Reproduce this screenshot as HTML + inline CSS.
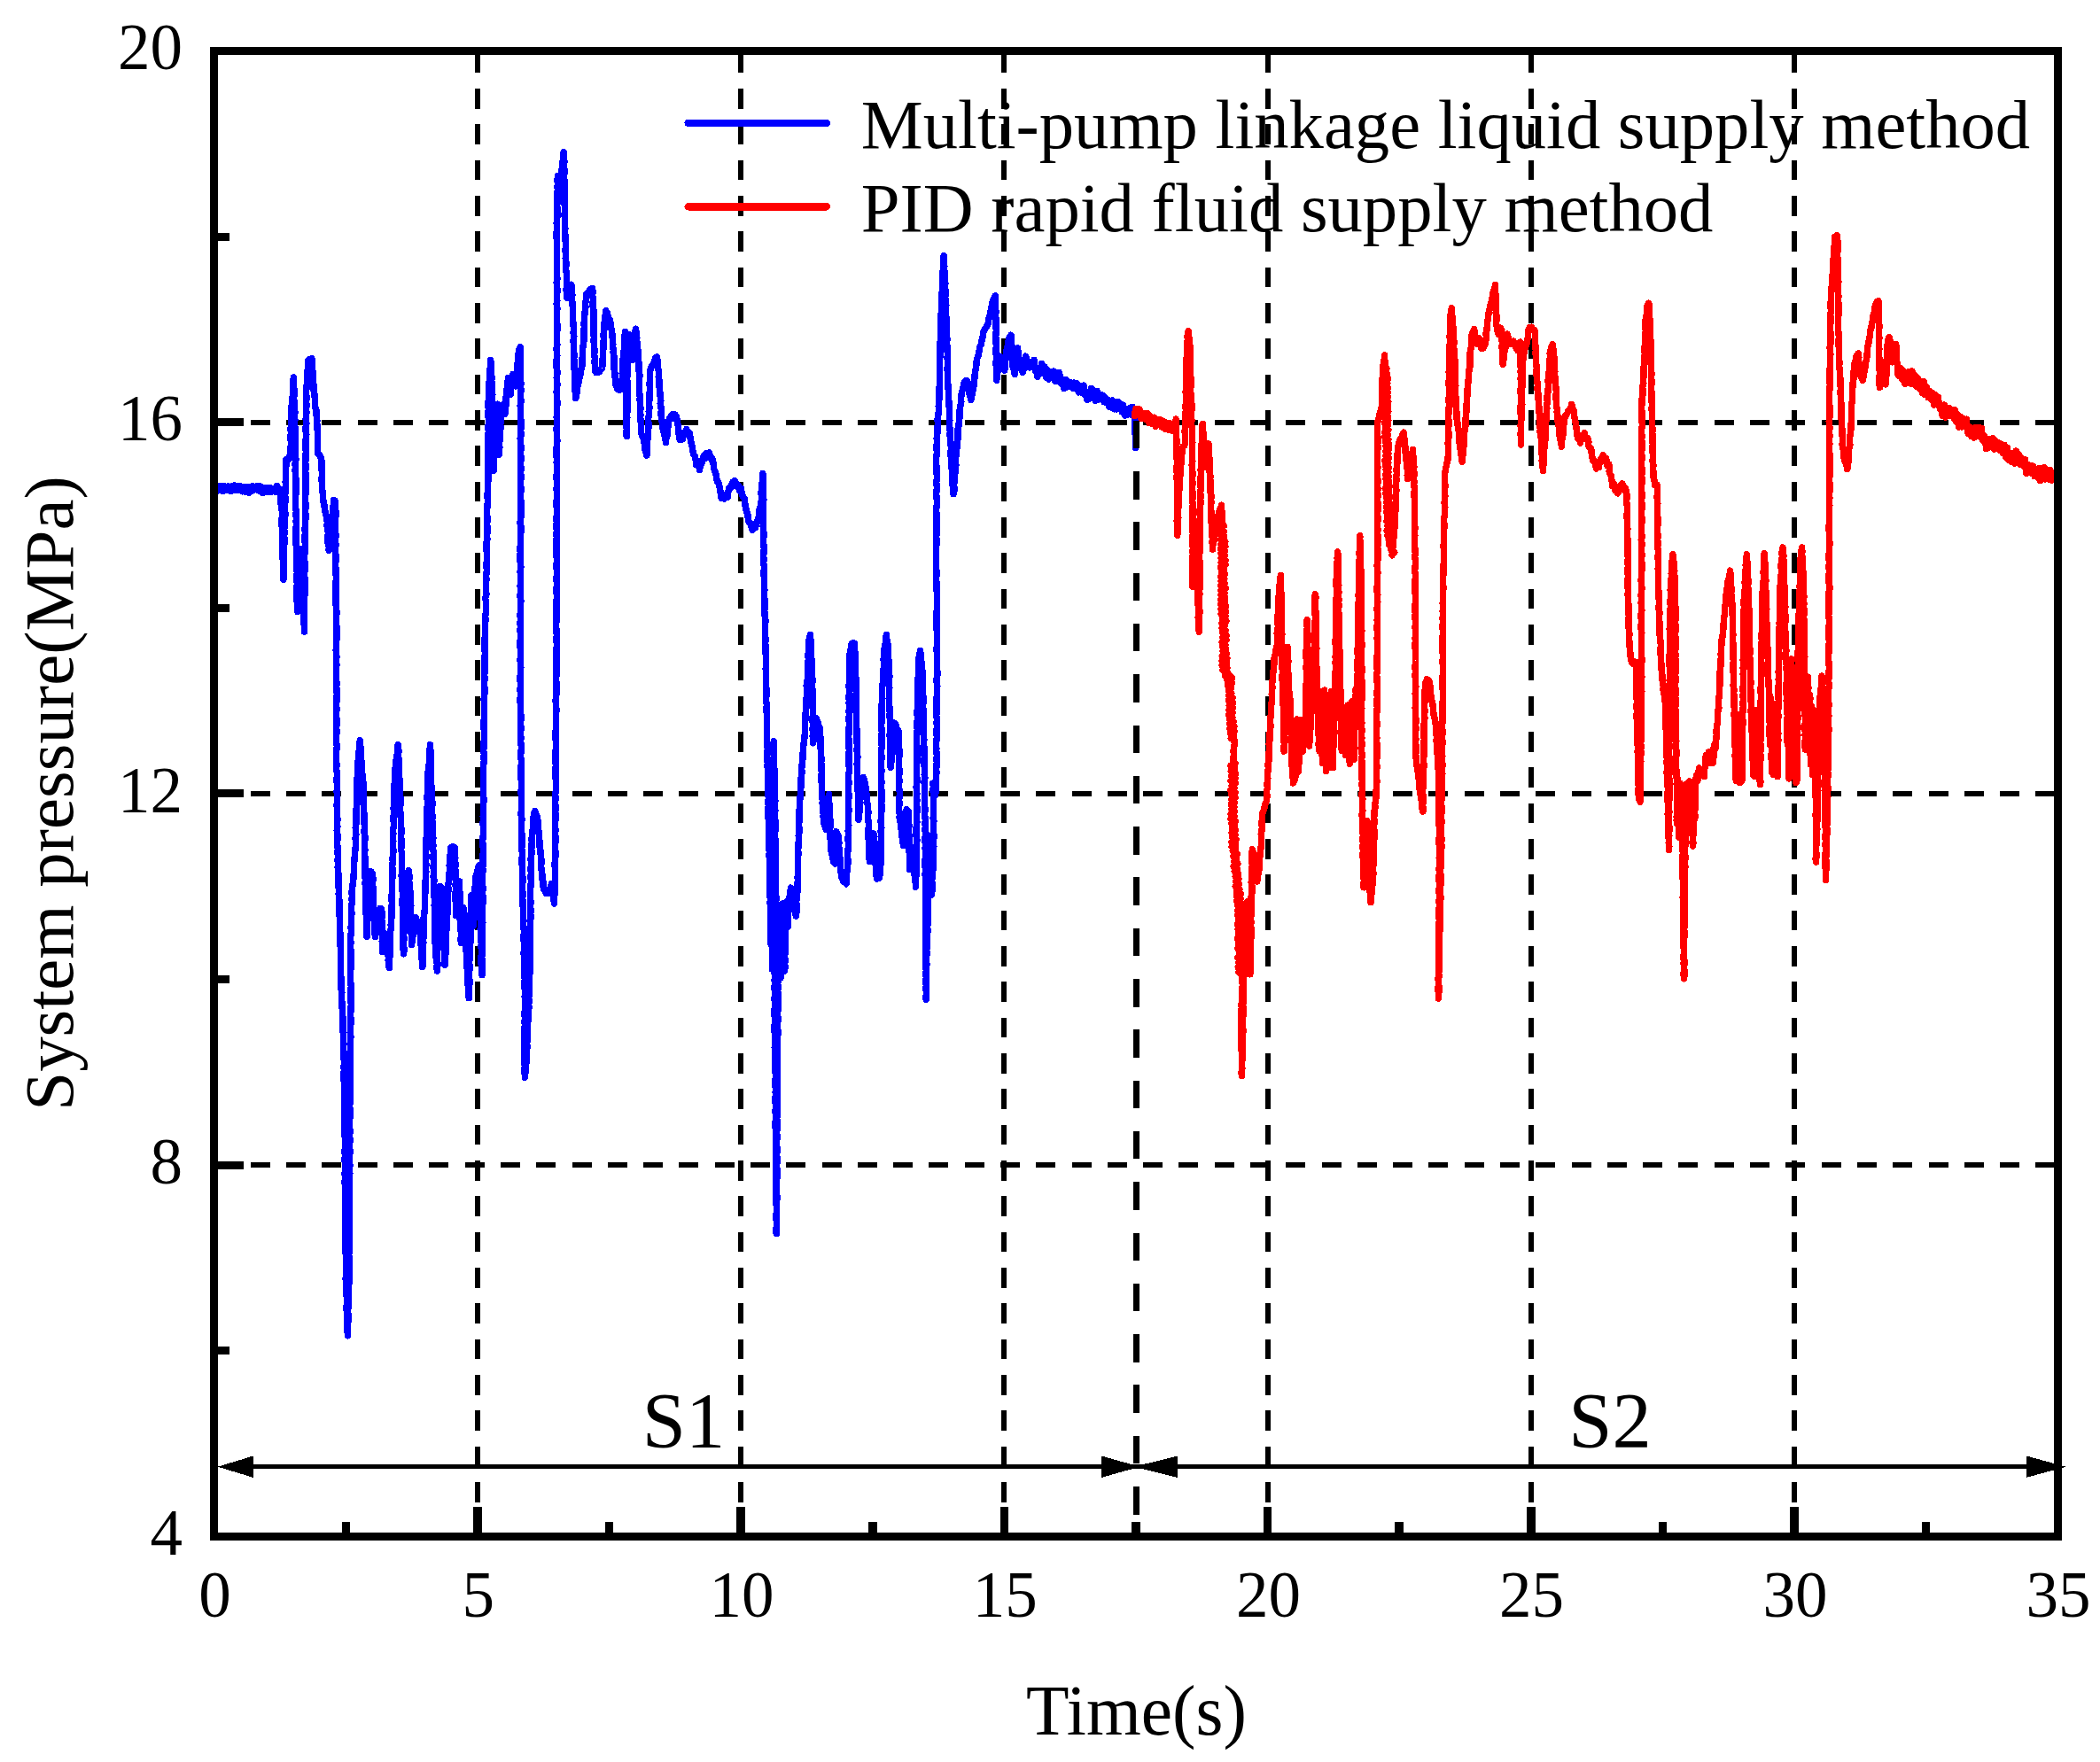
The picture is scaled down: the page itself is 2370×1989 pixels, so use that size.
<!DOCTYPE html>
<html lang="en"><head><meta charset="utf-8"><title>System pressure</title>
<style>html,body{margin:0;padding:0;background:#fff}svg{display:block}text{font-family:'Liberation Serif','Times New Roman',serif;fill:#000}</style></head><body>
<svg width="2370" height="1989" viewBox="0 0 2370 1989" shape-rendering="crispEdges">
<rect width="2370" height="1989" fill="#fff"/>
<g stroke="#000" stroke-width="6" stroke-dasharray="22 18.29" fill="none">
<line x1="538.9" y1="59.7" x2="538.9" y2="1700.8" stroke-dasharray="22.6 17.73"/>
<line x1="836.2" y1="59.7" x2="836.2" y2="1700.8" stroke-dasharray="22.6 17.73"/>
<line x1="1133.4" y1="59.7" x2="1133.4" y2="1700.8" stroke-dasharray="22.6 17.73"/>
<line x1="1430.6" y1="59.7" x2="1430.6" y2="1700.8" stroke-dasharray="22.6 17.73"/>
<line x1="1727.8" y1="59.7" x2="1727.8" y2="1700.8" stroke-dasharray="22.6 17.73"/>
<line x1="2025.1" y1="59.7" x2="2025.1" y2="1700.8" stroke-dasharray="22.6 17.73"/>
<line x1="242.6" y1="476.6" x2="2317.8" y2="476.6"/>
<line x1="242.6" y1="895.8" x2="2317.8" y2="895.8"/>
<line x1="242.6" y1="1315.1" x2="2317.8" y2="1315.1"/>
</g>
<g fill="none" stroke-width="7.5" stroke-linejoin="round" stroke-linecap="round">
<polyline stroke="#0000ff" points="241.8,553.0 243.3,550.9 243.9,548.3 245.2,551.1 245.8,553.9 246.3,551.6 247.1,548.4 248.1,550.1 248.9,553.4 249.4,551.4 250.1,548.3 251.4,550.9 251.8,554.4 252.6,551.6 253.9,548.9 254.9,550.8 256.0,553.6 257.4,551.8 258.0,549.0 258.8,550.6 260.1,554.1 260.4,551.9 261.4,549.1 262.3,550.6 262.8,553.8 264.0,551.7 264.5,548.0 265.5,550.4 266.0,553.1 267.3,551.8 267.6,548.8 268.7,551.1 269.3,553.5 270.4,551.5 271.5,548.6 272.5,551.4 273.6,554.8 275.1,552.8 275.8,549.3 276.5,552.7 277.2,555.7 278.2,553.2 279.3,550.1 280.4,552.6 281.1,556.4 281.6,553.9 282.5,549.9 283.9,551.9 284.3,554.2 284.9,551.9 285.5,548.7 286.4,549.8 287.7,552.8 289.2,551.5 289.7,548.9 290.7,550.9 291.1,553.0 291.8,551.8 293.1,548.6 293.8,551.4 294.3,555.0 295.3,552.3 295.5,550.0 296.6,552.7 297.1,556.6 298.5,553.9 299.2,550.8 299.9,551.9 301.5,554.9 302.3,552.4 302.7,550.3 302.9,552.3 303.9,554.8 304.5,553.4 305.6,550.9 305.9,552.9 306.9,555.1 307.5,554.3 309.0,551.4 309.6,552.7 311.1,555.1 312.2,551.8 312.7,548.6 313.1,551.0 314.4,554.1 316.0,552.0 316.6,556.7 317.1,560.3 316.9,564.7 317.1,568.4 317.5,573.0 318.3,576.9 318.4,580.6 318.2,585.2 318.1,589.1 318.2,592.7 318.3,597.3 319.3,601.7 318.6,605.2 319.0,609.5 319.2,613.2 319.1,617.0 319.1,621.2 319.0,625.3 319.1,629.4 319.4,633.6 319.3,638.2 319.9,641.9 319.8,645.5 319.8,649.7 319.9,654.1 320.3,649.8 320.5,646.1 320.6,641.7 320.4,637.4 320.7,633.9 320.4,629.6 320.2,625.7 320.4,621.5 320.3,617.7 320.9,613.4 321.2,609.3 320.6,604.9 321.3,601.7 320.7,597.4 321.5,593.1 321.4,589.4 321.5,585.0 321.9,581.4 321.7,576.9 321.6,572.5 321.6,568.6 322.4,564.6 321.7,560.3 321.8,556.1 321.9,552.5 322.5,547.6 322.2,544.0 322.5,539.7 322.7,536.1 322.4,531.4 322.6,527.7 323.2,523.1 323.0,519.0 324.8,520.0 325.9,516.3 327.4,516.8 327.9,512.4 327.6,508.4 328.2,504.7 328.4,500.2 328.2,496.6 327.9,492.2 328.5,488.6 328.0,483.9 329.0,480.1 328.3,476.1 329.0,472.1 328.6,467.8 329.2,463.5 329.1,459.6 329.4,455.4 330.0,451.0 330.3,446.7 330.9,442.3 330.7,438.8 331.2,434.4 331.0,429.9 331.4,426.0 331.1,429.6 331.3,434.2 331.7,438.3 332.2,441.6 331.9,446.0 331.6,450.1 332.1,454.2 332.2,458.4 332.5,462.1 332.9,465.6 332.4,470.3 332.9,474.0 332.4,478.3 333.0,482.5 333.0,486.1 333.2,490.1 333.1,494.1 333.6,498.1 333.1,502.5 332.8,506.7 333.2,510.7 333.7,515.0 333.8,519.0 333.1,523.0 333.3,527.2 333.2,531.9 333.4,536.0 333.9,540.2 333.8,544.3 333.9,548.4 333.9,552.6 333.9,556.5 333.7,560.1 333.7,564.5 333.5,569.1 333.4,572.6 334.4,577.3 333.9,581.1 334.4,585.0 334.2,588.9 334.5,593.0 333.9,597.3 333.9,601.5 334.0,605.9 334.1,610.2 334.0,614.4 334.6,617.8 334.4,622.3 334.8,626.2 334.7,630.2 334.5,634.3 334.5,638.6 334.9,642.4 335.4,646.6 334.9,650.4 334.6,654.8 335.6,658.5 334.8,662.1 334.8,666.0 335.0,670.0 335.0,674.9 335.1,678.7 335.6,682.4 335.7,685.9 335.8,690.4 336.4,686.6 336.4,682.4 336.4,677.7 336.2,673.5 336.5,669.7 337.4,665.9 337.2,662.0 337.0,657.6 337.3,653.2 337.8,649.0 338.0,645.0 338.6,641.2 338.6,636.4 339.4,632.4 339.4,628.4 339.6,623.9 339.8,620.0 340.1,624.1 340.4,628.2 339.8,632.2 340.8,636.1 340.3,639.5 340.8,643.6 341.4,648.2 340.8,651.5 341.4,655.5 341.4,659.7 341.7,663.6 341.7,667.7 341.4,672.1 342.4,675.6 342.2,680.0 342.7,683.8 342.7,688.7 342.6,692.2 342.6,696.3 342.7,700.6 343.0,704.5 343.7,708.6 343.5,713.1 343.7,709.3 343.3,704.5 343.4,700.2 343.3,696.4 343.4,692.7 343.6,688.2 343.2,684.3 343.4,680.2 343.3,676.0 344.0,671.8 344.3,667.3 344.3,664.0 344.1,659.8 344.2,655.3 343.7,650.7 343.7,647.2 344.0,643.4 344.1,638.7 343.8,634.7 343.7,631.0 343.7,626.6 344.2,621.9 344.3,618.5 344.5,614.3 343.9,609.9 344.0,605.6 344.5,601.8 344.0,597.6 344.6,593.4 344.3,589.4 345.0,585.0 345.0,581.1 344.6,576.9 344.9,572.7 344.8,569.0 344.7,565.0 344.6,560.7 345.0,556.8 345.2,551.7 345.0,548.0 345.2,543.6 345.0,540.3 345.1,535.4 344.5,531.3 345.4,527.3 344.7,523.4 344.8,518.8 345.0,515.0 345.3,510.4 345.2,506.7 344.9,502.6 345.1,499.0 345.3,494.3 345.8,490.6 345.0,486.2 345.2,481.6 345.9,478.0 345.2,473.7 345.4,469.4 345.8,466.0 345.7,460.9 345.9,457.7 345.7,453.3 345.9,448.9 345.7,445.0 345.7,440.8 346.0,436.7 346.4,432.4 346.7,428.7 347.0,423.9 346.9,420.2 347.4,415.9 347.4,412.2 347.3,407.9 349.1,405.7 350.5,406.4 351.9,404.5 352.1,408.9 352.3,413.0 352.5,416.6 353.3,420.9 353.0,424.1 353.0,429.2 353.7,432.9 354.2,436.6 354.1,440.8 354.8,444.3 355.1,448.2 355.7,452.1 355.5,455.7 355.8,459.4 357.0,463.5 357.0,467.1 357.3,470.1 357.8,474.4 357.7,477.6 358.0,481.6 358.2,485.2 358.6,488.9 358.6,493.3 358.4,496.6 358.5,500.8 358.4,504.5 358.3,508.1 358.7,512.2 360.4,513.1 361.5,515.8 362.5,516.8 362.9,520.4 363.1,524.8 362.9,529.6 363.5,533.2 363.3,537.2 363.1,542.1 363.5,546.3 363.4,550.1 363.9,554.2 364.5,557.6 364.3,560.7 364.8,564.4 365.2,567.6 366.2,571.7 366.4,574.9 367.2,578.8 368.3,582.4 368.9,586.0 369.5,589.6 368.9,593.3 369.9,597.8 370.4,602.0 370.0,606.1 370.1,609.4 370.2,613.5 371.3,617.4 371.2,621.2 371.8,618.2 372.0,613.6 372.6,610.9 373.3,607.1 373.8,603.0 373.9,599.6 374.3,596.0 374.1,592.3 375.1,587.5 374.8,583.7 375.4,580.1 375.7,576.7 376.0,571.8 376.7,568.0 376.8,564.4 378.4,565.6 378.3,569.6 378.2,573.6 378.9,577.5 378.8,581.8 378.7,586.4 378.4,590.3 378.6,594.3 378.4,598.4 378.8,602.9 378.8,606.7 378.4,611.4 379.1,614.8 378.4,619.0 378.4,623.3 379.2,627.1 379.2,631.5 378.6,635.5 378.7,639.6 379.3,643.8 379.0,648.4 379.6,651.9 379.1,656.3 378.9,660.5 379.2,664.3 378.7,669.0 379.2,672.2 379.2,676.6 378.9,680.4 379.5,685.3 379.8,689.2 379.8,692.6 379.7,696.6 379.7,701.2 379.7,704.6 379.9,709.2 380.0,713.5 379.9,717.7 379.9,721.4 379.4,725.2 379.7,729.4 379.2,733.9 379.5,737.4 379.9,741.7 379.3,745.6 379.8,749.8 379.7,754.2 379.3,758.1 379.5,762.3 379.4,766.8 380.0,770.5 379.7,775.4 379.9,778.8 380.3,783.6 379.8,788.1 379.9,792.0 379.3,795.8 380.2,800.6 379.4,804.1 379.4,808.8 380.3,812.6 380.0,817.3 379.6,821.8 380.1,825.6 379.7,829.5 379.6,834.2 379.6,838.6 380.4,842.5 379.7,846.8 379.6,850.5 379.7,854.6 379.6,859.0 379.9,863.5 379.6,867.9 380.2,871.5 380.5,876.3 379.9,879.5 380.3,884.2 380.6,888.3 380.2,892.5 380.3,896.6 380.4,900.2 380.5,904.7 380.1,908.7 380.4,912.6 380.3,916.7 380.5,921.0 381.0,924.9 380.4,929.7 380.9,933.3 380.2,937.3 380.8,941.9 381.2,946.2 380.5,950.5 380.8,954.2 381.3,957.9 381.1,962.7 381.5,967.0 381.1,971.2 381.6,974.6 381.2,979.5 381.6,983.6 382.1,988.2 381.8,991.4 381.8,996.3 381.8,999.8 382.6,1004.8 382.2,1008.6 382.4,1012.9 383.0,1016.8 382.9,1021.0 382.8,1025.2 383.2,1029.7 383.1,1033.6 383.5,1037.6 383.7,1041.5 383.5,1045.9 383.3,1050.5 384.1,1054.5 384.1,1058.2 384.2,1062.8 384.2,1066.7 384.3,1071.0 384.3,1074.6 384.6,1079.5 384.7,1083.0 384.3,1087.0 384.7,1092.0 384.5,1095.2 384.6,1100.2 384.9,1104.0 384.8,1108.1 385.3,1112.8 385.0,1116.3 385.8,1120.7 385.5,1124.7 385.7,1128.7 385.9,1133.1 386.1,1137.2 386.7,1141.5 386.7,1146.2 387.0,1149.8 387.2,1153.5 387.2,1158.6 386.8,1162.6 387.4,1166.2 387.6,1170.7 387.7,1175.0 387.4,1179.0 387.4,1183.5 387.9,1187.5 388.1,1191.4 388.2,1196.0 388.4,1199.8 388.1,1204.4 388.4,1208.7 387.7,1212.1 388.0,1217.1 388.3,1220.8 388.8,1224.8 388.3,1228.8 388.3,1233.8 388.3,1237.6 388.8,1241.5 388.6,1246.1 388.6,1250.1 389.2,1254.4 388.6,1258.8 388.3,1262.7 389.1,1266.7 389.2,1270.7 388.9,1275.5 388.6,1279.9 389.3,1283.6 389.3,1288.5 389.3,1292.1 389.3,1296.7 389.0,1300.4 389.5,1304.3 388.9,1309.3 389.5,1313.4 389.4,1316.9 389.3,1321.2 389.2,1326.3 389.6,1330.0 389.0,1334.2 389.5,1338.7 389.8,1342.9 389.5,1346.6 389.6,1350.8 390.0,1355.7 389.5,1359.2 389.5,1364.1 389.4,1367.4 390.3,1371.9 389.6,1375.9 389.5,1380.5 389.8,1384.9 389.7,1388.7 390.0,1393.2 389.9,1397.7 389.7,1401.4 389.9,1406.0 390.2,1409.6 390.0,1414.2 390.5,1417.8 390.5,1422.7 390.7,1427.1 390.4,1430.9 390.7,1435.3 390.6,1439.0 390.1,1443.5 390.6,1447.7 391.1,1451.7 390.5,1455.2 390.8,1459.6 391.3,1464.0 391.3,1467.9 391.4,1471.6 391.0,1476.1 391.3,1479.9 391.5,1483.4 391.6,1487.3 391.6,1491.7 392.3,1496.1 391.9,1499.5 392.2,1504.0 392.4,1507.8 392.7,1503.5 392.3,1499.8 392.7,1495.7 392.8,1491.1 393.1,1486.9 392.8,1482.6 392.5,1478.8 393.6,1475.1 393.6,1470.2 393.2,1466.6 392.8,1462.2 393.3,1458.4 393.0,1454.0 393.8,1450.0 393.8,1445.6 393.8,1441.6 394.0,1437.6 394.1,1433.2 394.3,1429.2 394.0,1425.0 394.4,1420.5 393.6,1416.5 394.4,1412.0 394.4,1407.7 393.8,1404.2 393.8,1399.4 394.4,1395.2 393.9,1390.9 394.5,1387.2 393.8,1383.2 394.3,1379.2 394.4,1374.5 394.2,1370.6 393.8,1366.5 394.2,1361.9 394.6,1357.4 394.5,1353.5 394.7,1349.8 394.4,1344.8 394.7,1340.8 394.4,1336.5 394.3,1333.0 394.3,1327.9 394.8,1324.1 394.1,1320.2 395.0,1315.6 394.4,1311.7 394.4,1307.0 394.7,1303.6 395.0,1298.7 394.2,1294.6 394.7,1290.5 395.1,1286.4 394.5,1282.3 395.0,1277.6 394.7,1273.3 394.6,1269.9 394.4,1265.3 395.0,1261.2 395.1,1256.9 395.0,1252.5 394.5,1248.3 395.1,1243.8 394.8,1240.5 395.0,1236.2 395.4,1231.5 394.8,1227.3 395.3,1223.4 395.0,1218.8 395.5,1214.9 395.1,1211.0 395.2,1206.7 394.8,1201.8 395.1,1198.1 395.2,1193.6 395.3,1190.3 395.6,1186.3 395.4,1182.3 395.2,1178.4 395.5,1174.5 395.9,1170.0 395.2,1165.6 395.7,1162.4 395.7,1157.9 395.9,1154.4 396.0,1149.9 395.4,1145.9 395.9,1141.9 395.9,1138.2 396.4,1133.8 396.0,1130.0 396.3,1125.6 395.8,1121.3 396.0,1117.4 396.4,1113.4 395.8,1109.3 395.5,1105.4 395.6,1100.8 395.4,1096.9 396.0,1092.6 395.8,1088.5 396.1,1084.1 396.2,1080.2 395.8,1076.4 395.8,1072.0 395.6,1067.7 395.9,1064.1 395.5,1059.1 396.0,1055.5 396.5,1051.0 396.1,1047.2 396.5,1042.6 396.3,1039.3 396.6,1034.3 397.0,1030.2 396.3,1026.8 396.7,1022.3 397.3,1018.9 397.2,1014.2 397.4,1011.2 397.0,1006.7 397.5,1003.8 397.9,999.6 398.6,995.7 398.9,991.5 399.1,987.7 399.5,983.7 399.7,979.9 399.7,975.5 399.8,971.4 400.4,966.7 400.4,962.7 401.2,958.5 401.3,954.2 401.6,950.2 401.1,946.3 401.8,942.6 401.7,938.3 401.2,934.5 401.8,930.6 402.0,926.1 401.9,922.4 401.9,918.1 402.1,914.6 402.4,909.8 402.6,906.3 402.6,902.1 403.1,898.6 402.8,893.8 403.0,890.5 402.9,886.1 402.9,882.4 403.0,878.2 403.8,874.6 403.8,871.2 403.8,867.6 404.3,862.9 404.0,859.6 404.7,856.1 404.4,852.1 405.2,848.5 405.5,844.3 405.7,839.8 406.3,835.8 406.5,839.2 406.9,843.6 407.4,847.1 407.4,851.4 407.2,854.5 407.8,858.9 408.2,862.3 408.0,866.3 408.5,870.3 408.8,874.0 409.6,877.6 409.7,881.6 410.3,886.0 410.2,889.9 409.8,893.7 410.1,898.0 409.9,902.3 410.0,907.1 410.7,910.3 410.3,915.3 411.3,919.5 410.8,922.9 411.1,927.4 411.3,931.5 411.3,935.4 411.0,939.3 411.8,943.5 411.8,948.5 411.4,952.4 411.6,956.6 411.9,960.1 411.4,964.3 412.2,968.3 412.1,972.5 411.9,976.9 411.7,981.6 412.0,985.6 412.0,988.9 412.4,993.1 412.1,998.0 412.6,1001.8 412.9,1005.8 412.7,1010.1 413.2,1014.3 412.7,1017.9 412.8,1022.3 412.8,1026.6 412.8,1029.7 413.6,1034.0 413.6,1038.2 413.4,1041.7 413.8,1046.1 414.2,1049.8 414.2,1053.3 414.0,1057.5 414.5,1054.0 414.3,1049.8 414.2,1046.4 414.6,1042.0 414.2,1037.9 414.4,1034.3 414.8,1029.9 415.0,1026.6 415.4,1022.3 415.9,1018.4 415.4,1014.7 415.8,1010.9 416.3,1007.0 416.3,1002.8 416.5,999.0 416.6,995.5 417.2,991.1 417.5,987.4 417.4,983.7 418.6,983.8 420.3,986.0 420.8,990.4 420.8,994.1 420.6,998.2 420.9,1002.2 420.9,1006.1 421.4,1010.1 421.2,1014.2 420.9,1018.0 421.5,1022.2 421.9,1025.2 421.4,1030.2 421.9,1033.6 421.8,1037.8 422.6,1041.7 422.7,1045.0 422.3,1050.1 423.2,1053.2 423.3,1057.5 423.5,1053.7 424.2,1049.6 424.8,1045.5 425.2,1040.8 425.5,1037.6 425.8,1033.2 426.0,1029.1 427.2,1029.4 428.8,1025.4 430.5,1025.7 430.9,1029.4 431.2,1034.1 430.5,1037.4 431.3,1041.5 430.7,1046.4 431.3,1050.3 430.9,1054.2 431.8,1058.2 431.2,1062.3 431.9,1066.6 432.1,1070.0 431.7,1074.5 431.9,1070.6 433.3,1066.1 433.5,1062.5 434.1,1058.6 435.1,1054.1 435.6,1057.3 436.0,1060.8 436.8,1063.9 436.9,1067.7 437.3,1072.4 437.5,1075.7 438.4,1080.3 438.2,1084.0 439.1,1089.0 439.2,1092.6 439.1,1089.0 439.3,1084.6 439.7,1080.9 440.3,1076.4 440.1,1072.0 440.5,1068.3 440.2,1064.6 440.6,1060.4 440.7,1056.3 440.5,1052.1 441.5,1047.7 441.2,1043.9 441.6,1039.5 441.9,1035.1 441.9,1031.4 442.1,1027.7 442.0,1023.2 442.5,1019.0 441.8,1014.5 442.2,1010.5 442.4,1006.4 442.5,1001.8 442.6,997.8 442.3,994.4 443.2,989.7 442.9,985.3 443.0,981.4 442.6,977.6 443.3,973.3 443.2,969.8 443.3,965.7 443.9,961.4 443.7,957.1 443.3,953.0 443.8,949.2 443.4,944.7 443.8,941.1 443.6,936.8 444.3,933.2 444.3,928.6 444.0,925.5 444.2,920.5 444.7,916.8 444.1,912.5 444.6,908.8 445.1,905.1 445.0,900.4 444.8,896.4 445.1,892.8 444.9,888.2 445.3,884.0 446.1,879.5 445.5,876.0 446.2,871.3 446.2,867.9 446.4,863.5 446.6,860.1 447.8,855.8 448.2,852.0 448.6,848.4 449.0,844.4 449.1,840.8 449.7,844.9 449.9,848.6 449.2,852.8 450.2,857.0 449.9,861.8 450.0,865.2 449.9,870.1 450.1,873.3 450.7,877.9 451.0,881.8 451.0,886.1 451.2,890.7 451.0,894.2 451.7,898.3 452.0,902.6 452.1,906.5 451.7,911.0 451.5,914.8 452.1,918.8 452.3,923.6 452.5,927.8 452.5,931.5 452.9,935.6 453.1,939.7 452.3,943.9 452.9,947.3 453.0,951.4 452.9,955.2 452.7,959.7 453.7,963.8 453.4,967.9 453.4,972.1 453.3,975.3 453.6,979.4 453.5,983.9 453.2,987.6 453.3,991.5 453.5,995.9 453.9,999.6 453.7,1003.6 454.4,1007.8 454.5,1011.8 454.2,1015.5 454.0,1019.9 454.4,1023.9 454.4,1027.6 454.5,1031.7 454.6,1035.9 454.5,1039.8 454.4,1044.2 454.9,1048.8 455.2,1052.4 455.0,1056.0 454.8,1060.1 455.1,1064.3 455.1,1069.1 455.2,1072.3 455.5,1076.8 456.0,1072.3 455.7,1068.2 455.6,1064.2 455.9,1060.2 455.7,1055.4 455.9,1051.6 456.8,1047.4 456.6,1043.6 456.3,1039.1 456.4,1035.0 456.7,1030.6 456.8,1027.0 457.1,1022.3 457.3,1017.9 457.8,1014.6 458.1,1010.7 458.2,1006.5 457.6,1002.9 458.5,999.4 458.4,995.1 459.4,991.4 459.4,988.7 460.1,985.6 461.2,982.6 461.8,987.1 461.9,990.6 461.6,994.6 462.4,998.0 462.2,1002.2 463.0,1006.4 463.1,1010.3 463.6,1014.1 463.6,1018.2 463.8,1022.5 463.4,1026.7 463.7,1030.4 463.2,1034.7 463.6,1038.7 463.8,1042.9 463.7,1046.2 463.9,1050.9 464.3,1054.9 464.8,1058.3 464.9,1062.4 464.6,1066.5 465.0,1062.4 465.3,1058.9 466.6,1054.9 466.9,1051.5 467.2,1046.7 467.7,1044.1 468.1,1039.7 469.1,1035.9 470.4,1038.8 471.4,1040.0 473.2,1042.7 473.5,1047.5 474.1,1050.9 474.3,1055.6 474.5,1059.0 475.1,1063.7 475.2,1067.7 475.8,1071.8 475.9,1075.5 475.8,1079.5 476.3,1084.0 476.5,1087.3 476.8,1091.5 476.9,1087.2 476.8,1083.3 477.0,1079.7 477.1,1075.7 477.4,1072.2 477.6,1068.7 477.8,1064.3 477.6,1060.7 478.1,1056.9 478.1,1052.9 478.3,1049.2 478.2,1045.0 478.3,1040.5 478.1,1036.9 478.6,1032.7 479.2,1028.5 479.4,1024.7 479.5,1020.2 479.5,1016.4 479.6,1012.0 479.8,1008.2 480.0,1004.1 480.2,1000.2 479.8,996.2 480.6,991.7 480.6,988.1 480.8,983.9 480.5,979.6 481.1,976.2 480.3,972.3 481.1,968.1 480.7,963.8 480.7,960.2 481.3,956.1 480.8,951.8 480.8,947.2 481.7,943.6 481.5,939.4 481.4,935.3 481.6,931.5 481.8,927.0 482.1,923.4 482.2,919.4 482.2,915.3 481.9,911.7 482.8,907.2 482.3,903.4 482.0,898.9 482.6,894.6 483.0,891.5 483.1,886.5 483.0,882.5 483.0,879.0 483.2,874.8 483.2,870.9 483.6,867.2 484.2,863.5 484.4,859.7 484.4,856.2 485.0,851.9 484.5,848.7 485.3,844.3 485.5,840.8 485.6,844.9 486.0,848.4 486.3,852.6 486.4,856.8 486.4,860.6 485.7,865.1 486.3,869.4 486.3,872.9 486.4,877.0 486.4,880.9 486.5,885.6 487.3,889.4 487.4,893.3 487.3,897.5 486.9,901.9 487.9,905.5 487.8,909.3 487.6,914.1 487.6,918.0 488.2,921.7 487.7,925.6 488.4,929.6 487.9,933.6 488.4,937.9 488.1,942.0 488.9,946.1 488.4,949.9 488.9,954.2 488.5,958.3 489.4,961.9 489.1,965.9 489.2,970.7 489.6,974.1 489.0,978.5 489.6,982.4 489.3,986.1 489.2,990.0 490.1,994.0 489.4,998.5 489.9,1002.7 490.1,1006.5 490.0,1010.6 490.3,1014.1 490.6,1017.8 490.2,1022.3 490.5,1026.8 490.3,1030.5 491.1,1034.4 491.1,1038.4 490.7,1042.6 490.5,1046.8 491.0,1051.7 490.8,1056.0 491.3,1059.5 491.1,1064.2 491.5,1068.5 491.8,1072.2 491.7,1075.7 491.9,1080.4 492.8,1084.0 493.4,1088.4 492.8,1092.1 493.4,1096.0 493.7,1091.5 494.0,1088.0 493.3,1083.7 493.4,1079.8 493.3,1075.2 494.0,1070.8 494.3,1067.4 494.0,1062.5 494.5,1058.5 494.1,1054.6 494.4,1050.0 493.8,1045.8 494.5,1041.9 494.1,1037.4 494.5,1033.6 494.5,1029.9 494.9,1025.2 495.3,1020.8 495.6,1016.9 495.5,1012.9 495.9,1008.4 495.7,1004.5 495.9,1000.7 497.4,1001.0 498.2,1001.9 498.8,1006.2 498.3,1009.9 498.4,1013.4 499.0,1017.8 498.8,1021.7 498.8,1025.3 499.5,1029.5 499.5,1033.4 499.9,1037.7 499.5,1040.5 499.7,1045.0 500.2,1048.8 500.1,1053.3 500.5,1057.3 500.7,1060.7 500.8,1065.6 500.9,1069.0 501.5,1073.0 501.5,1076.8 501.4,1081.2 502.2,1085.0 502.0,1089.2 502.0,1084.7 502.3,1080.5 502.9,1076.9 503.3,1072.5 503.5,1068.5 502.8,1064.6 503.7,1060.5 503.6,1056.3 503.4,1052.5 504.1,1048.4 504.5,1044.1 503.9,1040.1 504.3,1035.5 505.0,1031.8 504.8,1027.4 505.1,1023.4 505.2,1018.8 505.1,1015.0 505.4,1010.9 505.7,1007.6 506.1,1003.9 505.6,999.6 506.3,996.4 506.6,992.3 506.6,988.3 507.3,984.0 507.5,980.6 507.2,976.9 507.5,972.5 507.9,968.8 508.2,964.9 509.0,961.4 508.8,956.9 510.7,955.6 512.1,957.8 513.4,956.9 513.6,960.8 513.5,964.6 513.8,968.8 513.5,972.2 514.2,976.0 513.7,979.8 513.9,983.8 514.0,988.4 514.1,992.2 514.5,995.5 514.0,999.6 514.6,1003.3 514.2,1007.3 513.8,1010.5 513.8,1014.6 514.4,1018.7 514.6,1022.6 514.3,1026.5 514.8,1029.9 514.5,1033.6 515.3,1029.3 515.5,1026.6 515.7,1022.0 515.6,1018.6 516.2,1014.4 516.8,1010.9 517.3,1007.0 517.8,1003.0 518.6,999.7 518.6,995.1 518.7,999.0 518.5,1002.5 518.7,1006.2 519.2,1010.3 518.9,1014.6 519.3,1018.7 518.9,1022.1 519.0,1025.5 519.3,1029.4 519.5,1033.6 519.2,1037.7 519.4,1041.1 519.8,1045.3 519.9,1048.6 520.5,1053.2 520.5,1056.4 520.0,1060.8 520.6,1064.3 521.1,1060.6 521.4,1056.8 521.5,1052.7 521.7,1048.2 521.4,1044.2 521.8,1040.5 522.1,1036.1 522.4,1032.6 522.8,1028.0 522.9,1024.6 523.7,1029.1 523.8,1032.4 523.7,1037.3 524.3,1040.6 524.7,1045.0 524.9,1048.4 525.1,1052.1 524.8,1056.0 525.3,1060.0 526.0,1063.8 525.4,1067.8 525.8,1071.8 526.3,1074.9 526.3,1079.0 527.0,1082.9 527.0,1086.7 526.9,1091.5 527.6,1094.8 527.8,1099.3 527.7,1102.9 527.7,1106.5 528.0,1110.9 528.7,1114.3 528.4,1118.5 529.1,1123.1 529.2,1126.7 529.0,1122.9 529.3,1118.9 529.0,1113.8 530.1,1109.8 529.9,1106.4 529.5,1102.2 529.7,1097.5 529.9,1093.2 529.8,1089.3 529.7,1085.8 530.0,1081.2 530.0,1076.6 530.5,1073.3 530.2,1069.0 530.8,1064.3 530.9,1060.6 530.8,1056.3 531.0,1052.1 530.7,1048.3 531.1,1043.7 531.1,1040.0 531.0,1035.6 531.2,1031.5 531.5,1027.2 531.4,1023.4 531.5,1019.0 531.5,1015.2 532.0,1010.9 532.0,1014.7 532.5,1018.4 532.7,1022.6 533.1,1026.5 533.3,1029.5 533.5,1033.3 533.9,1037.5 534.6,1041.4 534.5,1045.0 534.4,1041.0 535.2,1036.3 534.8,1032.8 535.3,1027.8 535.8,1024.2 535.3,1019.5 536.0,1015.2 535.7,1011.5 536.0,1007.6 536.1,1003.4 536.3,999.2 536.8,994.8 536.7,990.5 537.9,987.1 538.8,984.2 539.4,979.9 540.6,976.9 541.1,981.1 540.8,984.5 541.1,989.2 540.6,992.9 540.8,997.2 541.0,1000.9 541.2,1005.0 541.8,1009.2 542.0,1013.0 541.3,1016.8 541.8,1021.4 541.7,1024.6 542.0,1029.0 541.8,1033.0 542.5,1036.7 542.3,1040.5 542.4,1045.0 542.2,1049.2 542.9,1053.3 542.5,1057.2 542.6,1060.7 543.3,1065.0 543.1,1068.3 543.4,1072.5 543.5,1077.0 542.9,1081.2 543.2,1084.2 543.2,1088.7 543.8,1092.3 544.1,1096.5 544.0,1100.6 544.1,1096.2 543.9,1091.9 544.0,1087.5 543.9,1084.2 543.7,1079.6 544.6,1075.5 544.2,1071.4 544.2,1067.2 544.5,1062.7 544.2,1058.0 543.8,1054.4 544.4,1050.0 544.1,1046.3 544.8,1041.2 544.3,1037.5 544.7,1033.7 544.5,1028.7 544.1,1024.7 544.8,1020.3 544.9,1016.1 545.0,1012.4 544.4,1007.8 545.1,1004.1 544.7,999.6 544.4,995.6 544.5,991.0 544.6,987.0 544.9,983.4 544.7,978.7 545.4,974.5 544.7,970.3 545.0,966.1 545.4,962.4 545.4,958.6 545.0,954.5 544.7,949.9 544.8,946.4 545.4,941.6 545.6,937.8 545.5,933.1 544.8,929.8 545.6,925.4 545.2,921.6 545.6,916.6 545.3,913.1 545.4,908.8 545.9,904.9 545.8,900.5 545.3,896.1 545.6,892.5 545.5,888.2 545.4,884.5 545.4,879.7 545.4,875.8 545.7,871.3 545.4,867.7 545.6,863.8 546.3,859.1 546.1,854.8 546.3,851.2 545.6,846.9 546.3,843.3 545.8,839.0 546.5,834.8 546.6,830.0 546.6,826.4 545.9,821.7 546.3,818.1 545.9,814.4 546.7,809.9 546.4,805.6 546.5,801.7 546.7,797.8 546.7,793.7 546.1,789.6 546.5,786.2 547.0,781.9 547.0,777.8 546.6,774.1 546.7,769.7 547.2,766.5 546.6,761.9 547.2,758.4 547.0,753.5 546.9,750.0 547.1,745.6 546.7,742.1 547.5,737.4 546.9,733.7 547.0,729.6 547.1,725.2 547.1,720.5 547.5,716.5 547.3,712.8 547.5,707.8 547.6,703.7 548.1,699.4 547.5,695.6 548.4,691.3 548.6,687.6 548.4,682.9 548.4,678.9 547.9,674.5 548.9,670.9 548.6,666.4 548.7,662.0 548.6,658.0 548.9,654.4 548.6,649.9 549.3,645.3 549.3,641.8 548.7,636.9 549.3,633.7 549.5,628.9 549.7,624.6 548.9,620.3 549.0,616.8 549.2,612.0 549.9,608.4 549.6,604.4 550.2,599.7 550.1,595.8 549.6,591.4 550.1,587.5 549.8,583.4 549.7,579.1 549.7,574.5 550.1,571.0 550.4,566.0 550.2,562.3 550.0,558.5 550.5,553.7 550.6,549.8 550.4,546.1 551.0,542.3 550.8,537.8 551.1,533.9 550.5,529.9 550.7,525.7 551.3,522.2 550.5,517.7 550.4,514.6 551.1,509.9 551.2,506.6 551.0,502.6 550.6,497.9 550.9,494.3 551.1,490.4 551.4,486.6 550.8,482.1 551.4,478.2 551.5,473.3 550.9,469.9 551.2,465.3 551.3,461.5 551.1,457.1 551.2,452.7 551.9,448.3 551.7,444.1 551.8,440.4 551.8,436.8 551.8,432.6 552.6,428.9 552.5,424.7 552.6,421.3 553.2,417.5 553.3,414.2 553.6,410.4 553.6,406.4 554.3,410.6 553.6,413.9 554.4,417.9 554.0,422.3 555.1,426.0 554.6,429.5 555.2,433.6 555.2,437.8 555.2,442.0 555.8,445.6 555.4,449.9 555.8,454.5 555.6,458.7 556.2,462.6 556.5,466.3 556.0,470.9 556.2,475.1 556.3,479.0 556.1,482.9 556.4,486.8 556.3,491.4 556.0,495.4 556.9,499.2 556.2,503.4 556.8,507.0 556.3,511.1 556.3,514.7 556.9,518.7 556.5,523.3 556.6,527.2 557.0,531.2 556.8,526.8 557.2,523.4 556.9,519.5 557.8,515.3 557.8,511.1 557.8,507.0 557.3,502.7 558.3,498.1 557.9,494.5 558.1,490.4 558.0,486.7 558.3,482.8 558.3,479.1 559.3,475.3 559.1,471.0 558.6,467.1 559.3,463.1 560.2,458.8 561.3,456.3 561.5,460.9 561.3,464.2 561.6,468.9 561.6,472.9 561.6,476.9 562.2,480.2 562.5,484.5 562.6,489.0 562.4,493.3 562.5,496.4 562.7,501.2 562.7,504.8 563.4,509.5 563.1,513.1 563.0,509.4 563.8,505.3 563.7,501.4 563.8,497.7 563.8,494.1 563.8,490.2 564.5,486.9 565.0,482.6 564.7,479.0 565.1,475.6 565.4,471.6 565.6,468.3 566.2,465.1 566.1,460.9 567.2,457.9 568.1,456.3 568.6,460.8 569.3,463.6 569.9,467.7 570.4,463.8 570.6,460.2 571.1,456.0 571.1,452.8 571.1,448.6 571.7,445.0 571.8,441.0 572.4,438.3 573.1,434.1 573.0,430.5 573.6,426.8 574.2,430.1 574.4,434.0 575.5,437.4 575.8,441.9 576.3,445.0 576.2,440.9 577.0,437.8 577.8,433.5 578.6,429.7 578.3,426.1 579.0,422.3 579.3,426.2 580.1,429.1 581.5,432.3 581.7,435.9 582.3,431.7 582.8,428.2 582.6,423.6 583.5,419.6 583.5,415.4 584.0,410.9 584.7,407.1 585.2,402.7 585.1,399.4 585.8,395.1 587.2,391.7 586.8,395.9 586.8,399.5 587.6,403.5 586.8,408.5 587.3,412.2 587.2,416.2 587.5,420.2 587.5,424.0 587.3,428.6 588.0,432.9 587.6,436.6 588.0,440.9 587.6,445.0 587.5,448.9 588.1,453.0 587.2,457.6 587.5,462.2 587.6,466.2 587.3,469.8 587.9,474.6 588.1,478.6 587.9,482.6 587.7,486.9 588.0,491.0 587.2,494.9 587.5,499.9 588.0,503.5 587.9,507.9 587.5,512.1 588.0,516.7 587.8,520.0 587.4,524.4 588.1,528.9 587.5,533.2 588.1,537.3 587.8,541.0 587.6,546.0 587.8,549.8 588.0,553.7 587.5,558.4 587.6,562.1 588.0,566.6 588.2,570.3 588.0,574.5 588.1,579.0 588.1,583.2 587.3,586.7 587.1,591.0 588.0,594.8 588.1,599.5 587.5,603.2 587.3,607.8 587.6,611.0 587.3,615.3 587.1,619.5 587.3,623.4 587.1,627.8 587.0,632.2 587.4,636.1 587.8,640.0 587.2,644.7 587.3,648.4 587.5,652.4 587.7,656.6 587.1,661.5 587.6,665.0 587.3,669.7 587.1,674.0 587.9,677.7 587.6,682.5 587.7,686.1 587.6,691.0 586.9,694.6 587.7,699.2 587.0,703.0 587.5,707.4 586.9,711.3 587.4,715.2 587.4,719.9 587.1,724.3 587.0,727.9 587.3,732.5 587.4,736.4 587.6,741.0 586.9,745.2 587.6,748.9 587.8,753.6 587.5,757.0 587.3,761.4 586.9,766.1 587.2,769.5 587.6,773.9 586.9,778.7 587.5,782.2 587.3,786.2 587.0,791.0 587.4,795.0 587.3,799.0 587.5,803.5 587.9,808.0 588.0,811.9 587.5,815.8 587.8,820.0 587.8,824.3 587.3,828.1 588.0,832.4 587.6,837.4 588.2,841.4 588.4,845.0 587.9,849.3 587.6,854.1 588.2,857.5 588.6,861.9 587.8,866.0 587.9,870.4 588.3,874.8 587.8,878.5 588.6,882.7 588.6,887.0 588.2,891.8 588.1,895.6 588.5,899.8 588.6,904.2 588.4,908.6 588.5,912.4 588.2,917.0 588.2,920.5 589.0,924.8 588.5,929.1 588.4,932.9 588.4,937.4 589.0,941.7 589.2,946.3 589.1,949.6 588.9,954.2 588.7,958.4 589.4,962.6 589.3,966.6 588.9,970.3 588.8,974.6 589.6,978.1 589.5,983.0 589.7,986.6 589.8,990.3 590.0,994.4 589.5,998.5 589.6,1002.8 589.8,1007.1 589.8,1010.9 589.7,1015.2 590.2,1019.1 590.1,1022.7 590.7,1027.3 590.5,1030.9 590.3,1034.8 590.9,1039.6 590.3,1043.4 591.1,1047.0 591.4,1051.8 591.2,1055.4 590.9,1059.4 591.4,1063.6 591.4,1067.7 591.6,1071.3 591.1,1076.3 591.6,1079.7 592.1,1083.9 591.6,1087.8 591.6,1092.8 591.6,1096.3 591.7,1100.9 592.3,1105.1 592.1,1108.8 592.0,1112.4 592.3,1117.2 592.6,1120.8 592.2,1125.2 592.6,1129.2 592.7,1133.2 592.9,1137.7 592.2,1141.9 592.1,1146.2 592.6,1149.8 592.0,1153.3 592.5,1157.6 591.6,1161.0 591.5,1164.4 591.9,1168.2 591.9,1172.2 591.4,1175.4 591.7,1179.6 592.0,1183.9 591.5,1187.6 592.0,1191.7 592.3,1195.9 591.8,1200.1 592.4,1203.5 591.7,1208.4 592.3,1212.6 592.3,1216.2 592.6,1212.9 593.3,1209.2 593.4,1205.5 593.7,1201.6 594.1,1198.1 594.2,1193.7 594.4,1189.9 594.3,1186.2 595.1,1181.6 594.6,1177.8 595.5,1173.3 595.2,1169.6 595.3,1165.2 595.7,1160.8 595.3,1156.7 596.0,1152.7 596.4,1148.6 596.2,1145.3 596.5,1141.2 597.0,1137.1 596.7,1134.1 596.9,1130.0 596.7,1126.4 597.5,1122.2 597.6,1118.2 597.4,1114.2 597.1,1110.0 597.3,1106.7 597.3,1102.3 597.9,1098.7 598.4,1094.8 598.0,1090.4 598.5,1086.0 598.1,1081.9 598.3,1077.9 598.6,1073.4 598.2,1069.1 597.8,1064.7 598.5,1061.0 598.1,1056.4 598.3,1052.3 598.4,1047.7 598.6,1043.8 598.5,1039.3 599.1,1035.4 598.7,1031.4 599.2,1027.5 598.3,1022.7 599.3,1018.6 598.6,1015.0 598.6,1010.9 598.6,1006.4 598.7,1002.5 599.3,997.4 599.4,994.0 598.8,989.8 599.5,985.6 598.9,980.9 599.4,976.9 599.4,973.5 599.1,969.9 599.5,965.8 600.2,962.2 599.7,958.3 600.1,954.2 600.3,950.3 600.1,947.0 600.5,942.9 600.8,938.9 601.4,934.9 601.3,930.5 601.6,927.0 602.1,922.5 602.7,918.4 603.7,915.6 604.8,919.2 606.1,921.5 606.6,924.7 607.4,928.8 607.2,932.0 607.6,935.6 607.9,939.3 608.4,942.9 608.4,947.0 609.3,950.1 609.1,953.5 609.3,957.0 610.0,961.0 610.2,964.7 610.7,968.6 611.2,972.8 610.7,976.6 610.8,980.2 611.7,983.9 611.8,988.3 612.0,992.5 613.3,995.6 612.9,1000.1 613.9,1004.1 615.4,1006.2 616.2,1008.7 617.9,1008.5 618.5,1005.3 620.2,1004.1 621.7,1000.5 622.5,997.3 622.8,1000.2 623.1,1004.1 624.1,1007.6 624.1,1010.9 624.6,1014.3 625.1,1016.3 625.5,1020.0 625.2,1016.0 625.3,1012.5 626.2,1008.5 626.3,1005.3 625.9,1001.0 625.9,997.1 626.4,993.6 626.3,990.0 626.4,986.0 626.6,982.4 626.2,977.7 626.1,974.2 626.7,969.8 626.9,965.5 626.9,961.9 626.4,957.5 626.5,954.0 627.0,949.7 627.1,945.8 626.4,941.3 627.1,936.8 626.3,933.5 626.3,929.3 627.1,925.5 627.2,921.3 626.7,916.6 627.1,912.5 626.8,908.8 626.6,905.2 627.2,900.3 626.4,897.2 627.3,892.7 627.4,888.2 627.4,884.4 627.4,880.3 626.8,876.3 627.2,872.5 627.0,868.3 627.3,864.4 627.2,860.0 626.8,856.0 627.1,852.4 627.2,848.6 627.3,844.3 627.5,840.1 627.3,836.2 627.0,832.0 627.0,827.9 627.3,824.2 627.5,820.0 627.3,815.8 627.4,811.5 627.4,807.2 627.8,803.5 627.8,799.6 627.4,795.1 627.1,790.8 627.5,786.6 628.1,782.7 627.9,778.3 627.9,774.2 628.0,770.9 627.4,766.0 628.1,762.2 628.1,758.5 628.1,754.0 628.0,750.0 627.8,746.2 627.8,741.3 628.3,737.7 627.8,733.4 628.5,728.5 628.1,724.6 627.9,720.8 628.4,716.7 627.9,711.7 627.7,708.3 627.6,703.3 628.3,699.4 627.7,694.9 628.2,690.6 628.1,686.9 627.8,682.1 628.1,678.0 628.5,674.3 628.2,669.9 627.7,666.1 628.4,661.5 628.3,656.9 627.7,653.1 628.4,649.3 628.6,645.1 628.0,640.2 628.1,636.2 628.6,632.4 628.1,628.2 627.8,623.3 628.0,619.1 628.3,615.1 627.9,611.3 628.3,606.6 628.1,603.0 628.4,598.5 627.8,594.1 628.3,589.8 628.0,585.8 628.3,581.8 628.7,577.4 628.2,572.6 628.2,568.7 628.2,564.4 628.6,560.3 628.5,556.3 628.1,551.6 628.5,547.7 628.5,543.1 627.8,539.1 628.2,535.6 628.6,530.7 628.6,526.3 628.2,522.1 628.4,518.4 628.1,514.1 628.1,509.5 628.0,505.9 628.6,501.7 628.9,497.5 628.3,492.8 628.7,489.2 628.0,484.6 628.4,480.3 628.6,475.9 628.2,471.4 628.5,467.7 628.5,463.4 628.6,459.2 629.0,455.0 628.7,451.2 628.5,447.2 628.2,442.9 628.3,439.1 628.9,434.2 628.7,430.5 628.2,426.6 628.9,422.0 628.8,418.2 628.0,413.8 628.1,409.7 628.1,406.1 628.8,401.2 628.4,397.6 628.0,393.3 628.9,389.2 628.3,384.7 628.5,381.2 628.5,376.9 628.9,372.4 629.0,368.9 628.7,364.8 628.6,359.8 628.7,356.0 628.6,351.5 629.0,348.1 628.1,343.3 628.8,339.1 628.3,335.5 628.8,330.9 628.9,326.6 628.4,323.1 628.2,318.2 628.9,314.8 628.4,310.2 628.5,306.3 628.7,301.9 628.5,298.0 628.4,293.7 628.6,289.2 628.7,285.0 628.7,280.9 628.5,277.1 628.6,273.2 628.1,268.7 628.1,264.8 628.3,260.0 628.4,255.8 628.2,252.1 628.4,247.4 629.1,243.7 628.9,238.7 629.0,234.8 628.5,230.8 628.8,226.5 628.9,222.5 628.9,218.1 629.4,214.1 629.1,210.8 629.4,207.0 629.0,202.5 629.6,198.8 629.9,202.5 630.1,206.7 630.4,210.7 631.1,213.9 631.2,218.1 631.5,220.9 631.6,224.0 632.3,227.1 632.0,223.1 632.9,219.5 632.5,215.2 633.2,211.3 633.1,207.2 633.2,202.8 634.0,199.0 633.9,195.4 634.0,191.5 634.6,187.9 634.7,183.6 635.5,180.1 635.5,175.3 636.2,171.6 636.1,175.6 636.6,179.0 636.9,183.1 636.2,187.0 636.9,191.4 637.0,195.0 636.6,198.6 636.8,202.8 637.1,206.7 637.6,210.4 636.7,214.9 637.0,218.7 637.4,222.8 637.7,226.2 637.2,230.4 637.4,235.0 637.5,238.7 637.0,242.2 637.4,246.3 637.4,250.7 637.5,254.4 637.8,258.2 637.5,262.7 638.2,266.4 637.9,271.1 638.6,274.9 638.5,279.0 637.9,283.0 638.7,287.3 638.2,291.5 638.9,295.8 638.9,299.8 638.5,303.5 639.3,308.1 639.3,312.1 639.3,315.5 639.4,320.2 639.3,324.4 639.1,328.3 640.2,331.9 639.8,336.1 640.7,332.6 642.1,329.3 643.5,325.7 644.8,321.3 645.5,325.5 645.6,329.0 645.8,333.0 645.4,337.7 645.9,341.5 646.2,345.1 646.7,349.0 646.6,352.3 646.4,356.4 646.4,360.0 646.9,364.6 647.1,367.8 647.7,371.8 647.0,375.6 647.8,379.9 647.2,384.0 647.3,388.0 647.3,392.2 647.5,396.4 648.0,400.0 647.7,404.8 648.2,408.7 647.9,413.3 648.1,417.3 648.8,421.0 648.9,425.4 648.8,429.6 649.0,433.0 648.9,437.4 649.1,441.2 649.5,445.5 649.8,449.5 650.2,446.0 651.3,442.3 651.6,438.2 652.0,434.1 653.1,431.0 653.9,426.8 654.8,423.2 655.4,420.7 655.9,416.6 656.8,413.2 656.9,409.0 657.2,404.6 657.4,401.0 657.6,396.9 657.7,392.9 658.4,388.3 658.9,384.9 658.9,381.0 658.8,377.2 658.8,373.1 659.6,369.0 658.9,365.8 659.5,362.1 659.7,358.1 659.8,354.2 660.4,350.4 660.9,347.0 660.4,342.3 661.5,339.4 661.8,335.0 661.8,331.5 663.3,331.0 665.2,328.1 667.1,326.2 668.6,325.9 669.1,330.0 668.5,333.7 669.5,338.0 668.9,342.5 669.2,346.0 670.1,350.6 669.8,354.2 669.9,358.2 669.9,361.7 669.9,365.1 669.8,369.8 670.2,373.5 669.9,376.7 670.4,381.2 670.0,384.7 670.4,388.3 670.7,392.5 671.0,396.6 670.5,400.8 671.4,404.6 671.0,409.1 671.6,413.4 671.4,417.8 672.5,420.3 674.2,418.8 675.4,420.0 676.7,419.6 677.7,416.6 679.5,415.5 680.0,411.9 679.8,407.1 680.5,403.3 680.7,399.3 680.7,395.1 681.2,390.4 680.8,386.8 681.5,382.7 680.9,378.3 681.7,373.6 682.0,370.1 681.8,365.6 682.4,362.3 682.4,358.1 683.7,354.5 683.8,350.8 685.1,353.0 686.3,357.0 686.8,358.8 688.4,361.4 689.0,364.4 689.4,369.0 690.2,372.1 690.9,376.9 691.1,381.0 691.6,384.6 691.8,388.4 691.6,391.1 692.3,395.0 692.2,398.7 693.0,402.6 692.9,406.4 692.9,410.0 693.0,414.1 693.3,418.5 694.3,422.1 694.0,425.5 694.8,429.6 694.7,433.6 695.9,436.5 697.0,439.3 698.9,440.3 700.5,438.4 701.5,439.3 701.6,436.1 701.5,431.8 702.0,428.8 702.9,424.7 702.2,421.2 702.9,417.8 703.1,413.9 703.2,408.9 703.2,405.4 703.5,401.1 704.1,397.0 704.5,392.2 704.3,388.3 704.7,384.2 705.2,381.4 705.1,377.9 705.6,374.6 705.6,379.0 705.7,383.1 706.1,386.5 705.5,390.4 705.6,394.4 706.0,398.0 706.2,402.6 705.8,406.5 706.7,410.4 706.4,414.3 706.5,418.7 706.5,422.3 706.7,426.2 706.8,430.3 706.9,434.5 706.3,439.0 706.8,442.6 706.7,447.2 706.5,451.2 706.5,455.1 706.5,459.4 706.7,463.9 707.0,467.4 707.1,472.2 707.3,476.3 707.3,479.8 707.6,484.4 707.1,488.5 707.2,492.6 707.0,488.7 707.3,484.6 707.0,480.5 707.1,475.6 707.8,471.5 707.5,468.2 707.9,464.0 708.1,459.3 708.0,455.7 708.0,450.9 707.8,447.2 708.0,443.1 708.4,438.6 708.4,434.8 707.8,430.2 707.7,426.9 708.1,422.3 708.6,418.3 708.5,414.6 708.0,410.4 708.3,406.8 708.8,402.9 708.3,399.1 708.8,395.1 709.2,390.7 708.6,387.5 709.0,383.4 709.2,379.2 710.8,377.9 712.4,379.2 713.1,383.3 712.5,387.1 713.6,391.4 713.1,394.5 713.9,399.1 713.5,402.2 714.2,406.4 714.3,402.6 714.7,399.0 715.1,395.9 715.4,391.4 715.8,388.3 716.2,385.2 716.0,380.9 716.9,378.1 716.9,374.8 717.4,371.2 717.9,374.5 718.2,377.6 718.8,381.2 718.7,384.3 719.2,388.3 719.4,392.5 720.2,395.9 720.1,399.7 720.1,403.8 720.7,407.0 721.0,410.9 720.8,415.5 721.1,419.0 721.9,423.1 721.7,427.6 721.4,431.6 721.7,435.3 721.5,439.4 721.7,443.5 722.3,447.6 722.2,451.9 722.4,456.3 722.9,460.7 722.7,464.1 722.8,467.9 722.7,472.2 723.1,475.7 723.6,479.9 723.5,484.4 723.5,488.1 724.3,491.0 725.7,493.3 726.5,496.0 727.3,500.7 727.6,504.1 728.3,508.5 729.5,511.6 729.9,514.2 730.4,510.3 730.6,506.7 730.3,502.4 730.6,498.4 731.1,494.2 731.5,490.4 731.7,486.7 731.8,482.4 732.3,478.9 731.6,474.8 731.7,471.9 732.6,467.8 732.2,464.3 732.9,460.5 732.6,456.3 732.7,453.0 733.2,448.3 733.1,444.8 733.4,440.4 733.3,436.9 733.1,433.3 733.4,429.2 733.7,425.2 733.7,421.8 733.8,417.8 735.0,414.4 736.7,412.1 737.7,410.1 739.0,406.4 739.9,403.7 741.2,403.0 742.2,407.1 742.4,410.7 742.3,413.8 743.1,417.8 743.6,421.5 743.2,425.5 743.9,429.5 743.9,432.9 744.0,436.4 744.6,440.4 745.0,444.0 745.2,447.5 745.8,452.3 745.2,455.5 745.9,459.2 746.4,462.7 746.1,466.6 746.3,470.2 746.9,474.5 747.5,477.8 748.1,481.5 748.2,484.8 749.2,488.1 750.1,491.8 751.1,495.7 751.4,499.4 751.5,495.7 752.9,492.2 753.1,487.3 753.7,483.6 754.2,480.6 754.4,476.4 755.5,472.4 756.4,470.9 757.4,472.1 757.9,469.8 759.3,467.4 759.7,469.5 760.6,472.4 761.4,470.2 761.8,468.0 763.2,469.9 763.8,472.9 764.5,476.9 765.3,480.3 765.5,485.5 765.8,488.9 766.5,492.0 767.1,496.4 768.4,494.6 770.3,495.8 771.1,492.5 771.5,488.3 773.4,490.4 773.6,487.5 774.7,484.5 776.1,487.0 776.8,489.5 778.1,488.9 778.8,492.1 779.2,495.5 779.7,498.5 780.5,501.2 781.4,505.0 781.9,508.9 782.6,512.5 784.3,515.3 785.0,518.0 785.8,521.9 785.9,524.8 787.7,525.0 789.1,526.9 789.5,530.7 790.0,526.9 790.8,523.5 792.1,523.0 793.0,519.8 793.2,517.4 794.2,514.7 795.5,517.5 795.7,514.4 796.8,512.0 797.8,514.8 798.6,516.1 799.4,513.0 800.4,511.0 801.5,514.8 802.5,518.3 803.9,518.0 804.9,522.0 805.4,525.9 805.9,529.8 807.5,533.4 808.3,536.9 808.8,540.8 809.7,544.5 811.1,544.9 811.6,548.2 812.4,551.5 813.2,555.5 813.3,558.4 814.0,562.1 815.8,558.4 816.6,561.5 817.4,563.1 818.8,561.1 819.5,560.7 821.1,561.3 821.2,558.3 821.9,554.5 822.8,550.8 823.4,552.2 824.7,550.1 825.4,547.3 826.5,544.8 828.0,546.9 829.1,544.8 829.3,542.8 830.5,545.0 831.3,549.0 832.0,548.7 833.4,547.6 834.2,550.8 834.7,554.0 836.5,551.6 836.6,554.4 837.6,557.8 838.4,560.6 840.2,563.2 840.4,566.4 841.0,570.0 841.8,573.9 842.3,577.3 844.0,580.9 844.2,583.9 844.8,587.2 845.4,590.0 846.7,590.1 847.4,592.0 848.3,595.3 849.2,598.3 850.3,596.0 850.6,593.8 851.3,596.1 852.7,595.4 853.3,592.2 854.0,588.9 855.4,588.8 856.0,587.8 856.1,583.7 857.0,580.1 857.0,576.0 858.0,572.2 858.4,571.4 858.7,568.1 859.4,564.5 859.5,560.4 858.9,556.7 859.4,553.6 859.8,549.6 860.0,545.4 860.7,542.3 860.4,538.1 860.9,534.6 861.0,538.8 860.8,542.8 861.0,547.6 860.9,551.9 861.0,555.5 861.6,559.7 861.8,563.9 861.6,568.4 861.6,572.6 861.4,576.8 861.0,580.6 861.1,584.9 861.5,589.1 861.2,593.8 861.4,597.6 862.0,602.3 861.8,606.1 861.6,610.2 861.8,615.0 862.3,618.7 862.2,622.9 861.6,627.6 862.0,631.3 861.6,635.3 862.5,639.4 862.2,643.7 862.0,648.1 862.5,652.4 862.4,656.5 862.3,660.2 862.8,665.0 862.7,668.8 862.5,673.1 863.0,677.7 863.2,681.3 863.1,685.7 862.7,689.5 863.0,694.0 863.7,697.9 863.9,701.3 863.6,705.4 863.7,709.9 863.4,714.0 863.6,717.6 864.1,721.7 863.6,725.8 864.2,729.8 863.8,734.3 864.2,738.4 864.4,741.7 864.6,746.5 864.5,750.3 864.2,754.7 864.4,758.6 864.5,762.5 864.7,766.7 864.7,770.8 864.5,774.4 865.2,778.9 864.8,783.4 864.8,786.6 864.6,791.0 865.3,795.3 865.2,799.1 865.0,803.1 865.7,807.5 865.4,811.6 865.6,815.7 865.7,819.5 865.7,824.0 865.5,828.3 865.3,832.2 865.5,836.2 865.8,840.7 866.4,845.4 866.0,849.4 865.7,853.0 866.0,857.4 866.3,861.5 866.1,865.8 866.6,869.8 866.6,873.5 866.5,877.6 866.9,881.7 867.2,885.1 867.1,889.7 867.2,893.7 866.9,897.5 867.5,901.5 866.8,905.5 867.3,909.3 867.0,914.0 867.1,917.2 867.0,921.5 867.3,925.5 867.7,929.6 868.2,933.9 867.6,937.6 867.9,942.2 867.9,945.6 868.2,950.5 868.0,954.7 867.8,958.3 868.4,962.1 868.0,966.7 868.7,970.4 868.4,974.8 868.7,979.6 868.8,983.4 868.7,987.6 868.5,991.3 868.6,995.3 869.2,1000.2 869.2,1003.7 868.6,1008.1 869.2,1011.8 869.3,1015.8 869.2,1020.4 869.6,1024.2 869.4,1028.9 869.3,1032.9 869.7,1037.0 869.3,1041.5 869.8,1044.9 869.4,1048.9 869.6,1053.2 869.6,1057.4 870.2,1061.5 870.1,1065.7 870.5,1062.0 870.5,1056.9 869.9,1052.8 870.0,1049.2 870.5,1044.6 870.4,1040.8 870.4,1035.9 870.2,1031.8 870.9,1028.2 870.9,1023.4 870.6,1019.1 870.7,1015.7 870.5,1011.2 870.6,1006.7 871.4,1002.5 870.5,998.7 871.0,994.2 871.3,990.4 871.3,986.1 871.3,981.9 871.5,977.1 871.7,973.6 871.1,969.2 870.9,964.9 871.2,960.8 871.5,956.1 871.5,952.3 871.2,948.2 872.0,944.4 871.3,939.5 871.6,936.1 871.4,932.1 871.7,927.7 871.8,923.3 872.1,918.9 871.6,915.0 872.1,911.4 872.3,907.4 872.0,902.5 872.3,898.6 872.9,895.2 872.4,890.4 872.6,886.1 872.3,882.3 872.3,878.2 872.5,873.7 873.1,869.8 872.8,865.6 873.4,861.7 873.1,857.7 873.3,853.6 873.0,849.1 873.7,844.9 872.8,841.1 873.3,837.0 873.2,841.3 873.1,845.6 873.6,849.1 873.4,853.3 873.6,857.6 873.3,861.9 873.7,866.5 874.2,870.0 874.1,874.7 873.9,878.0 874.3,882.6 874.3,886.5 874.0,890.5 874.7,894.8 874.5,899.5 874.8,903.2 874.7,906.9 874.7,911.4 874.8,915.2 874.6,920.1 874.7,924.5 875.0,927.7 874.9,931.8 875.3,936.3 874.5,940.6 874.6,945.0 875.3,949.1 875.5,953.5 874.9,957.2 875.3,961.2 875.4,966.0 875.2,969.9 875.6,974.4 875.7,978.6 875.2,982.8 875.5,986.9 875.4,990.9 875.7,995.2 875.4,999.4 875.3,1003.0 875.4,1007.3 875.8,1011.5 875.8,1015.8 875.5,1019.8 875.8,1024.6 875.2,1027.9 874.8,1032.5 875.0,1035.9 874.1,1040.2 874.1,1044.9 873.8,1049.2 873.6,1052.7 873.8,1056.8 873.1,1061.1 873.0,1064.9 872.7,1068.8 872.5,1073.8 872.0,1077.5 872.3,1082.0 872.3,1086.1 871.7,1090.4 871.5,1094.0 871.6,1089.9 872.2,1086.2 872.0,1081.9 871.7,1078.3 872.1,1073.7 871.8,1070.4 872.7,1065.9 872.4,1062.3 872.9,1057.8 872.6,1054.5 872.6,1050.0 872.3,1046.4 872.7,1042.1 872.6,1038.0 873.1,1034.1 873.3,1030.4 873.8,1025.8 873.5,1022.0 873.6,1026.2 874.0,1030.8 874.0,1035.0 873.9,1038.6 873.3,1042.9 873.5,1047.3 873.4,1051.8 873.8,1055.8 874.2,1059.8 874.2,1064.6 874.3,1067.9 873.7,1072.2 873.6,1076.9 873.8,1081.1 874.4,1084.9 873.9,1089.1 873.7,1093.8 874.1,1097.5 874.5,1102.3 874.1,1106.6 874.6,1110.2 873.9,1115.0 874.5,1118.7 874.6,1122.9 874.0,1127.6 874.4,1131.1 874.6,1136.2 874.1,1139.5 874.0,1143.9 874.3,1148.1 874.8,1152.3 874.2,1156.8 874.1,1161.2 874.2,1165.1 874.9,1169.5 874.6,1174.1 875.0,1177.6 874.2,1182.3 874.5,1186.1 875.2,1190.5 875.0,1194.6 875.1,1199.0 875.3,1203.5 874.6,1207.5 875.3,1211.7 875.4,1215.6 875.1,1220.0 874.7,1224.6 875.4,1228.3 875.2,1232.9 875.5,1236.5 874.7,1240.7 875.2,1245.4 875.5,1249.5 875.0,1254.1 875.3,1257.5 875.4,1262.0 875.2,1266.7 874.9,1270.2 875.3,1274.6 875.5,1278.9 875.5,1282.8 875.5,1287.6 875.9,1291.2 876.0,1295.6 875.6,1300.0 875.6,1303.8 875.4,1308.7 875.8,1313.0 875.9,1317.1 875.4,1321.4 876.2,1325.4 875.8,1329.7 876.0,1333.8 875.6,1337.6 875.6,1342.3 876.3,1345.9 875.7,1350.1 876.3,1355.1 876.0,1358.6 876.6,1363.4 876.4,1367.3 876.0,1371.9 876.4,1375.9 876.4,1380.4 876.6,1384.2 875.8,1388.9 876.3,1392.6 876.0,1388.1 876.3,1384.5 876.5,1380.3 876.1,1376.2 876.3,1371.6 876.7,1367.2 876.6,1362.7 876.0,1358.6 876.9,1354.3 876.9,1351.0 876.6,1346.0 876.7,1341.7 876.2,1338.3 876.7,1333.4 876.8,1328.9 876.9,1325.3 877.1,1321.5 876.6,1316.9 876.9,1312.1 877.3,1308.4 876.5,1303.8 877.1,1299.5 876.9,1295.6 876.4,1291.6 876.6,1287.3 877.3,1283.5 876.6,1278.9 877.0,1274.3 877.4,1270.6 876.9,1265.9 876.7,1262.0 877.4,1257.8 876.9,1253.4 876.9,1248.9 876.9,1245.4 876.8,1240.6 877.3,1237.2 877.1,1232.6 877.2,1228.8 877.0,1223.9 877.6,1219.7 877.5,1215.5 877.5,1211.8 877.2,1207.3 877.4,1203.0 877.0,1199.0 877.6,1194.4 877.3,1190.6 877.5,1186.7 877.6,1181.9 877.6,1178.2 877.4,1173.7 877.7,1169.2 878.1,1164.8 877.5,1160.9 877.3,1157.0 877.9,1152.3 877.8,1148.8 877.7,1144.2 877.8,1139.9 878.0,1135.6 877.9,1131.7 877.9,1127.4 878.2,1122.7 877.6,1118.5 878.2,1114.9 877.6,1110.5 878.4,1106.1 877.6,1101.9 878.3,1098.3 878.0,1093.7 878.2,1089.0 878.5,1085.6 878.3,1081.4 878.7,1076.4 878.3,1072.9 878.2,1068.5 878.4,1064.2 878.4,1059.5 878.3,1055.9 877.9,1051.3 878.0,1046.8 878.6,1042.8 878.5,1038.9 878.7,1034.8 878.4,1030.0 878.6,1025.7 878.6,1022.0 878.6,1026.5 878.7,1030.4 878.8,1034.2 878.7,1038.2 879.0,1042.8 879.6,1046.3 879.4,1050.3 879.5,1054.6 879.5,1058.6 879.8,1063.4 880.3,1067.4 880.2,1071.6 880.3,1075.3 879.8,1079.5 880.2,1083.4 880.4,1087.7 880.3,1092.0 880.9,1095.3 880.8,1100.0 881.0,1104.0 881.2,1100.2 881.2,1095.7 881.0,1091.1 881.7,1087.4 881.6,1083.1 881.3,1078.7 882.0,1074.6 881.8,1069.9 882.4,1066.4 882.5,1062.5 882.6,1057.3 882.5,1054.0 882.6,1049.8 882.3,1045.1 882.7,1040.5 882.4,1036.4 882.4,1032.3 883.2,1028.3 882.7,1024.3 883.2,1020.0 883.4,1024.3 883.5,1028.2 883.5,1031.9 883.9,1035.7 884.0,1040.0 883.8,1043.8 884.4,1048.0 883.7,1051.6 884.1,1056.4 884.0,1059.8 884.1,1063.5 884.7,1068.2 884.7,1072.1 884.6,1075.8 885.1,1079.8 884.7,1083.6 885.2,1088.1 885.2,1091.6 885.5,1096.0 886.0,1092.2 885.6,1087.4 886.2,1083.7 885.5,1079.3 886.4,1075.2 886.5,1070.9 886.7,1067.7 886.3,1063.1 886.1,1059.5 886.7,1055.3 886.7,1051.1 887.1,1046.8 887.2,1043.1 886.8,1038.7 886.6,1034.1 886.7,1029.9 887.8,1026.3 886.9,1021.8 887.5,1018.0 887.6,1022.4 887.9,1025.5 888.6,1030.1 887.9,1033.7 888.5,1037.9 888.3,1041.5 889.0,1046.0 889.0,1042.1 889.5,1038.4 889.7,1034.7 889.6,1030.9 890.0,1027.8 890.5,1024.4 890.3,1020.4 890.6,1017.1 890.9,1012.6 892.1,1009.6 891.9,1005.7 892.6,1002.2 893.9,1005.6 896.0,1006.8 896.5,1010.7 896.9,1015.0 897.5,1018.0 897.5,1022.0 897.7,1026.4 898.0,1030.6 898.3,1034.0 898.9,1030.1 899.1,1025.5 899.1,1022.1 898.6,1018.4 899.0,1013.9 899.4,1009.7 900.0,1006.0 900.1,1002.1 899.9,997.7 900.4,994.2 900.2,990.1 900.6,986.6 900.6,982.5 900.3,978.9 900.3,975.3 900.3,970.8 900.6,967.5 901.0,963.6 900.6,959.8 901.1,955.1 901.1,951.7 901.5,947.4 901.2,943.4 902.1,938.7 902.0,934.5 901.4,930.3 902.0,926.8 902.1,922.0 902.1,918.3 902.2,914.2 902.6,910.3 902.6,906.6 902.7,903.0 903.2,899.0 903.5,896.1 903.4,891.3 904.1,888.0 904.0,884.2 903.8,880.6 904.4,876.2 905.1,872.3 904.7,868.7 904.8,865.0 905.4,861.3 905.8,857.0 906.0,852.8 906.3,848.9 906.5,844.3 907.0,840.4 907.4,836.6 907.9,832.8 908.3,828.7 908.4,824.0 908.3,820.4 908.6,815.8 908.9,811.6 908.8,807.1 909.4,803.5 909.7,799.1 909.3,794.3 909.9,790.2 910.4,786.7 910.3,782.1 910.6,778.2 910.2,774.2 910.8,770.8 911.3,766.5 911.6,763.4 911.7,759.0 911.9,755.8 911.9,752.1 911.9,748.1 912.4,744.0 911.9,740.6 912.3,737.1 912.4,732.6 912.7,729.1 913.0,725.4 913.0,722.4 914.0,719.8 914.4,716.3 914.5,719.6 915.3,724.0 914.8,727.6 915.1,731.8 915.4,736.0 915.5,739.5 915.8,743.5 915.8,747.9 916.4,751.6 916.4,754.7 916.4,759.3 916.2,763.1 916.9,766.3 916.9,770.1 916.2,774.5 916.9,778.3 916.9,782.1 917.4,785.8 917.1,789.9 917.1,794.7 917.2,797.8 917.4,802.2 917.5,806.1 917.0,810.5 917.1,814.4 917.5,818.3 917.1,823.1 917.4,826.3 917.2,831.2 918.0,834.7 917.6,838.8 918.4,835.3 918.7,831.8 918.3,827.5 918.9,824.5 919.4,820.7 919.5,817.1 920.6,814.4 921.0,810.5 921.7,812.8 923.2,816.1 924.2,819.9 925.5,823.0 925.3,826.8 925.8,831.6 925.9,835.2 925.9,840.0 926.0,844.4 926.7,848.4 926.6,852.5 927.1,856.9 926.7,860.4 927.0,864.6 926.8,868.4 927.4,871.9 927.0,876.0 926.8,880.3 927.3,884.2 927.5,887.9 927.7,891.8 927.3,896.0 927.6,899.3 928.3,903.1 928.2,906.9 929.0,910.2 928.7,914.4 929.3,918.6 929.2,922.5 929.9,925.8 930.1,929.6 931.3,933.9 932.3,936.4 933.1,932.6 932.6,927.7 933.7,923.4 933.1,919.6 934.2,915.7 934.1,911.4 934.9,908.3 934.5,903.7 934.9,900.6 935.7,896.7 935.4,900.5 935.6,905.3 936.4,909.1 936.5,913.1 936.7,917.1 936.7,921.9 936.8,925.4 936.9,929.6 936.8,933.6 936.7,938.4 937.3,942.6 937.1,946.1 937.6,951.0 937.6,955.1 938.0,959.1 938.4,963.5 939.6,966.7 940.3,970.4 940.9,973.6 942.5,975.0 942.5,970.9 942.9,967.3 942.8,963.0 943.1,958.8 942.7,954.5 943.0,950.8 943.8,946.5 943.2,943.1 943.7,938.7 944.4,940.7 945.9,943.2 946.7,947.5 946.8,951.7 946.6,955.7 947.6,959.7 947.5,963.6 947.7,967.5 948.4,970.9 948.7,974.9 948.3,978.5 949.1,983.1 949.3,986.3 949.6,989.3 951.1,993.0 951.6,995.4 953.6,996.0 955.0,997.7 955.0,994.5 955.5,990.2 955.5,986.7 956.1,982.4 956.5,978.7 956.8,975.0 956.9,970.6 956.5,967.3 956.5,963.4 957.2,958.9 957.4,955.0 957.5,951.1 956.8,947.4 957.6,942.6 957.2,938.5 957.4,935.4 957.8,931.4 957.4,927.3 957.3,922.5 957.3,918.9 958.1,914.8 957.5,911.0 957.7,906.9 957.7,902.5 958.2,899.2 957.8,895.4 957.3,891.2 957.6,886.7 958.1,882.9 957.4,879.1 957.6,874.9 958.3,870.7 958.3,866.4 958.1,862.4 958.2,859.0 958.1,854.9 957.8,850.6 958.4,847.2 958.0,843.0 958.0,838.8 957.8,834.6 957.7,830.8 958.0,826.3 957.7,822.7 958.5,819.3 958.3,814.7 957.8,810.6 958.6,807.3 958.0,803.0 958.5,799.1 958.2,794.3 958.3,790.6 957.9,786.8 958.6,783.0 958.5,778.3 958.0,774.9 958.4,770.8 958.9,766.5 958.7,763.2 959.1,759.5 958.9,756.0 958.6,751.4 959.2,747.9 959.0,743.8 958.9,741.0 959.3,736.7 959.9,733.6 960.9,730.2 961.1,726.5 962.9,725.7 964.5,726.5 964.2,730.3 964.7,734.3 965.1,738.7 965.4,742.9 964.8,746.9 965.6,751.5 965.5,755.7 965.5,759.4 965.7,763.5 966.1,767.3 966.0,770.7 965.9,774.3 966.1,778.3 966.3,781.7 966.1,785.6 965.9,789.5 966.1,793.5 965.8,797.2 966.0,801.1 966.3,805.3 966.5,809.4 966.3,813.3 966.4,817.4 966.7,822.1 967.3,825.8 967.0,829.8 967.0,833.4 967.1,838.0 967.4,841.8 967.1,846.1 967.4,850.9 967.9,854.6 967.3,859.5 967.2,863.3 967.6,867.1 967.3,871.8 967.6,875.7 967.7,880.3 967.9,884.2 968.2,887.8 968.1,892.9 968.5,896.1 968.3,900.7 968.4,904.3 968.6,909.1 968.3,912.6 969.0,917.1 968.7,920.7 968.9,925.1 969.1,921.7 969.8,917.9 969.9,914.0 969.9,910.0 970.8,906.3 970.7,902.8 971.5,899.7 971.6,895.6 972.2,891.9 972.7,888.5 973.3,884.8 974.0,881.3 974.3,877.4 975.6,880.5 976.0,884.8 977.2,888.8 977.2,893.1 978.4,897.6 978.7,900.6 978.5,905.5 979.4,909.2 979.5,913.7 980.0,917.2 979.3,921.0 979.7,925.2 980.4,929.3 980.5,933.2 979.9,937.2 979.9,940.3 980.0,944.3 980.3,948.1 980.7,952.3 980.4,956.2 980.6,960.0 980.8,965.0 980.9,968.2 981.6,972.7 982.1,968.4 982.9,964.3 983.3,960.0 983.2,956.3 983.8,952.3 984.3,948.0 985.2,945.0 986.1,940.9 986.8,944.3 986.0,948.4 986.8,952.4 986.4,956.3 987.3,960.1 986.9,964.1 987.1,967.1 987.8,971.6 987.9,975.0 988.8,977.8 988.5,982.4 988.5,985.4 989.2,988.9 989.7,992.0 990.8,989.7 992.5,990.9 993.1,986.7 992.9,982.7 993.0,979.2 994.4,973.9 994.3,970.4 994.4,966.4 994.3,963.0 994.2,958.5 994.1,954.5 994.0,951.1 994.5,947.1 994.6,942.7 994.1,938.3 994.8,934.6 994.4,930.9 994.1,926.9 994.4,923.1 994.5,919.2 995.0,914.9 995.1,910.9 994.7,906.9 995.0,903.2 994.8,899.0 995.0,894.5 994.8,891.3 994.5,886.9 995.0,883.0 994.5,878.8 994.4,875.0 994.9,870.8 994.7,866.9 994.6,862.4 994.7,858.5 995.0,854.8 994.6,850.9 994.6,847.3 995.3,842.6 994.9,838.8 995.2,834.6 995.2,830.2 995.3,825.8 994.8,822.4 994.7,818.3 995.0,813.3 995.3,809.0 994.8,805.6 995.3,801.0 995.0,796.8 995.4,793.0 995.8,788.6 995.4,784.4 995.6,780.0 995.3,777.2 996.1,772.5 996.5,769.3 996.7,765.5 996.5,761.7 996.9,757.1 997.3,753.5 997.7,748.8 997.0,744.6 997.6,741.0 997.7,736.5 998.1,732.2 999.0,728.4 999.7,724.0 999.9,720.8 1000.4,716.3 1000.3,720.0 1001.2,723.3 1001.8,727.0 1002.2,730.8 1002.2,734.5 1002.3,738.5 1002.1,742.6 1003.2,746.5 1002.9,750.9 1002.8,755.3 1003.3,759.4 1003.9,763.3 1003.6,767.2 1003.2,771.3 1003.8,776.1 1003.5,780.3 1003.7,783.8 1003.5,787.9 1003.6,792.6 1003.6,796.1 1004.1,800.3 1004.3,804.8 1004.0,808.8 1004.5,812.5 1004.5,816.9 1004.9,820.7 1004.6,825.6 1004.1,829.2 1004.4,833.7 1004.3,837.8 1004.9,841.5 1004.9,846.1 1005.1,850.1 1004.5,853.5 1004.6,857.7 1004.7,861.5 1005.2,866.1 1005.4,862.8 1006.1,858.5 1005.9,854.4 1007.0,850.1 1007.1,847.1 1007.0,842.4 1007.7,838.8 1008.2,835.3 1008.6,831.4 1008.3,827.4 1009.1,823.1 1008.8,819.5 1009.5,816.1 1011.0,818.4 1012.0,822.6 1014.0,825.2 1013.8,829.4 1013.9,833.6 1014.2,837.2 1014.2,841.4 1014.8,845.5 1014.8,849.2 1014.9,853.4 1014.5,857.5 1014.7,861.5 1014.5,865.4 1015.2,870.0 1014.8,873.5 1014.7,878.0 1014.9,882.0 1014.6,886.1 1014.6,889.6 1015.3,893.9 1015.3,898.1 1014.6,902.7 1015.1,906.7 1014.7,910.3 1014.7,914.7 1015.4,919.1 1015.1,922.8 1015.9,926.3 1016.5,929.9 1016.4,933.5 1017.4,937.5 1017.4,940.9 1017.9,944.2 1018.8,948.5 1019.0,950.8 1019.7,954.6 1019.8,950.9 1020.4,946.0 1020.7,941.7 1020.5,937.8 1020.9,933.7 1021.5,929.6 1022.1,925.3 1022.1,921.4 1022.3,917.5 1023.1,913.7 1024.1,916.0 1025.4,916.0 1025.3,920.3 1025.7,924.3 1025.6,928.5 1026.0,932.1 1025.4,936.3 1025.7,939.9 1026.0,943.7 1026.0,948.4 1026.0,952.3 1026.2,956.3 1025.8,960.6 1026.8,964.9 1026.5,969.5 1026.3,973.2 1026.9,977.2 1026.9,981.8 1027.1,978.0 1027.7,974.2 1028.6,969.4 1028.6,965.1 1029.7,960.5 1029.9,956.8 1029.9,960.7 1030.1,964.2 1031.1,968.3 1031.1,972.1 1030.8,976.0 1031.5,979.5 1031.4,983.2 1032.0,987.1 1032.8,990.3 1032.9,994.3 1033.4,997.7 1033.3,1001.1 1033.6,997.2 1033.6,992.6 1033.9,988.5 1034.1,984.9 1034.2,980.6 1034.1,976.6 1034.4,972.5 1034.2,968.8 1034.1,964.9 1034.4,960.8 1034.5,956.7 1034.4,952.3 1034.9,948.3 1034.0,943.8 1034.1,940.4 1034.1,935.8 1034.3,931.9 1034.8,928.0 1034.3,924.4 1034.5,920.6 1034.9,916.4 1035.0,912.6 1034.5,908.2 1034.9,903.8 1034.6,900.4 1034.8,895.9 1034.6,892.3 1034.1,888.4 1034.7,884.2 1035.1,880.6 1034.6,876.1 1034.3,871.8 1034.5,867.7 1034.6,863.5 1034.9,860.3 1035.2,855.8 1034.8,851.5 1035.2,847.6 1035.1,843.8 1034.6,839.6 1034.7,835.7 1034.6,831.4 1035.1,827.5 1035.3,823.6 1035.0,819.6 1034.9,815.7 1035.6,811.1 1035.2,807.5 1035.1,803.2 1035.5,798.7 1035.8,795.2 1035.7,791.2 1035.5,787.2 1035.6,782.7 1035.5,778.7 1035.7,774.9 1036.0,770.8 1036.1,766.3 1036.4,762.4 1036.5,758.3 1036.6,753.8 1036.4,749.4 1036.8,745.1 1037.2,741.3 1038.2,737.2 1038.5,734.5 1039.1,738.6 1039.1,742.9 1039.9,746.8 1039.9,750.2 1040.6,754.9 1041.1,758.6 1041.2,762.9 1041.3,766.9 1041.5,769.8 1041.3,773.9 1041.3,778.4 1041.2,781.6 1041.8,785.2 1041.9,790.0 1041.9,793.5 1041.5,797.4 1042.2,801.8 1042.5,806.0 1042.6,810.1 1042.1,814.0 1042.5,818.4 1042.0,822.0 1042.6,826.2 1042.4,831.0 1042.8,834.9 1042.6,838.8 1042.8,843.2 1042.9,846.4 1042.9,850.5 1043.3,854.5 1042.8,858.4 1043.0,862.8 1043.4,867.1 1043.5,870.7 1043.2,874.6 1043.9,878.1 1043.0,882.4 1043.5,886.5 1043.7,890.6 1043.7,893.9 1043.4,898.2 1043.7,901.8 1043.7,906.2 1043.5,909.9 1044.1,913.6 1043.6,918.1 1043.8,921.7 1044.3,925.2 1044.2,929.6 1044.3,933.5 1044.0,937.6 1044.7,941.9 1043.9,945.8 1044.0,949.9 1044.5,953.9 1044.1,957.2 1044.7,961.9 1044.8,966.0 1044.1,969.9 1044.2,973.9 1044.1,978.0 1044.5,982.0 1044.2,986.0 1044.3,989.7 1044.4,993.5 1044.6,997.7 1044.8,1002.1 1045.2,1005.8 1045.1,1009.8 1044.4,1014.6 1044.5,1018.5 1044.9,1022.7 1044.9,1026.8 1044.9,1030.9 1044.4,1034.8 1044.4,1038.9 1044.8,1042.8 1045.1,1046.7 1044.8,1051.1 1044.9,1055.3 1044.7,1059.0 1045.0,1063.5 1044.9,1067.2 1044.5,1071.9 1044.5,1076.1 1044.9,1079.8 1045.2,1084.1 1044.8,1087.7 1044.9,1091.9 1045.3,1095.6 1045.1,1100.1 1045.3,1103.7 1044.8,1108.0 1045.3,1112.4 1045.0,1116.0 1045.5,1120.3 1045.1,1124.4 1045.1,1128.2 1045.6,1124.0 1045.5,1120.2 1045.7,1116.3 1045.7,1112.6 1045.6,1108.3 1045.5,1104.5 1045.2,1100.6 1045.3,1095.9 1045.5,1091.9 1045.9,1088.4 1045.4,1084.2 1045.5,1079.6 1046.2,1076.5 1045.7,1072.3 1046.2,1068.1 1046.1,1063.7 1046.5,1060.2 1046.6,1055.8 1046.8,1052.1 1046.8,1048.2 1046.4,1044.2 1046.5,1039.9 1046.8,1035.9 1046.6,1032.2 1047.1,1028.1 1046.5,1024.2 1046.2,1020.2 1047.1,1015.9 1047.1,1012.2 1046.6,1007.6 1046.9,1004.3 1046.9,1000.0 1047.1,1004.1 1046.9,1007.9 1046.6,1012.1 1047.0,1015.8 1047.3,1019.7 1047.1,1023.1 1047.5,1027.7 1047.6,1030.8 1047.0,1035.7 1047.7,1039.1 1047.4,1043.1 1047.4,1039.0 1047.3,1034.4 1047.5,1030.6 1047.4,1026.5 1047.3,1022.0 1047.3,1018.2 1047.6,1013.9 1047.6,1010.1 1047.7,1006.0 1048.1,1001.0 1047.7,997.3 1047.8,992.8 1047.6,988.6 1047.9,985.1 1047.4,980.4 1047.3,976.7 1048.0,972.1 1047.7,968.0 1047.6,963.8 1048.3,959.4 1048.4,955.7 1047.5,951.8 1047.5,947.6 1048.0,943.2 1047.8,947.4 1048.4,950.9 1048.8,955.2 1048.5,959.5 1049.3,962.8 1049.0,966.7 1049.5,971.1 1049.6,975.0 1049.7,979.4 1050.4,982.7 1050.1,986.5 1050.7,990.8 1050.7,994.4 1051.2,998.6 1050.7,1002.4 1051.7,1006.4 1051.4,1010.2 1051.8,1006.3 1051.9,1002.4 1052.2,998.1 1051.7,994.3 1051.9,990.3 1052.4,986.9 1052.8,982.5 1053.0,978.5 1052.8,975.0 1053.1,970.8 1053.1,967.2 1052.9,963.5 1053.3,959.2 1053.8,955.9 1053.4,952.0 1053.7,947.8 1053.9,943.7 1053.7,940.0 1053.6,935.9 1053.5,931.8 1053.8,926.9 1053.1,923.4 1053.6,919.0 1053.6,914.8 1053.3,911.1 1053.3,906.9 1053.6,903.4 1053.4,899.4 1053.4,896.0 1052.8,891.8 1053.4,888.1 1053.0,884.2 1054.0,887.4 1054.4,891.3 1055.1,895.0 1055.5,897.8 1056.2,893.4 1056.1,889.7 1055.8,885.4 1056.7,881.7 1056.4,876.9 1056.9,872.9 1056.7,869.0 1056.8,865.1 1057.3,860.3 1057.1,856.3 1057.4,852.5 1056.7,848.3 1056.8,844.3 1056.6,840.1 1056.8,836.3 1057.5,831.6 1056.9,828.4 1057.1,823.5 1057.6,820.0 1057.0,816.2 1057.5,812.1 1056.7,807.6 1057.1,803.8 1057.1,799.8 1057.0,795.4 1056.9,791.4 1057.2,786.7 1057.6,783.0 1057.3,778.5 1057.8,774.6 1057.3,770.8 1057.0,766.9 1057.8,762.4 1057.8,758.4 1057.7,754.0 1057.4,750.5 1057.6,746.4 1057.4,742.4 1057.4,738.3 1057.1,734.1 1057.3,729.6 1057.6,725.3 1057.7,721.7 1057.5,717.5 1057.4,713.4 1057.0,708.9 1057.0,704.4 1057.1,700.7 1057.0,696.9 1057.0,692.2 1057.3,688.4 1057.4,684.2 1057.3,680.0 1057.7,675.8 1057.4,672.3 1057.3,668.2 1057.0,663.6 1057.0,659.5 1056.7,655.8 1056.7,651.2 1057.3,648.0 1056.7,642.9 1056.5,639.1 1056.4,635.5 1056.7,631.3 1056.4,627.4 1056.5,623.2 1056.6,618.5 1056.9,614.7 1057.2,610.5 1056.6,606.1 1057.2,602.1 1057.2,597.9 1056.9,593.7 1056.9,590.4 1056.9,585.6 1057.3,581.7 1056.6,577.8 1056.8,573.6 1057.4,568.9 1057.4,565.6 1057.0,561.6 1056.6,556.7 1057.3,552.4 1057.3,549.1 1056.5,544.1 1057.5,540.9 1057.4,536.6 1056.8,532.2 1057.0,527.8 1056.6,523.8 1056.7,520.1 1056.7,515.5 1057.5,511.6 1057.1,507.3 1057.0,503.1 1057.7,499.7 1057.2,495.1 1057.7,491.2 1057.9,487.0 1058.0,482.8 1058.4,478.3 1058.2,475.0 1058.3,470.2 1059.2,466.6 1059.4,462.1 1059.2,458.3 1059.7,454.2 1059.8,450.2 1060.0,445.7 1059.9,441.2 1060.0,437.7 1060.7,433.0 1060.7,428.8 1060.4,424.6 1060.5,420.7 1060.5,416.0 1060.7,412.8 1060.7,408.0 1060.7,403.7 1061.3,399.8 1061.0,395.4 1061.1,391.7 1061.2,387.7 1061.3,383.8 1061.7,379.9 1062.3,375.9 1062.0,372.1 1061.7,368.1 1062.3,363.5 1061.8,359.8 1061.9,355.5 1062.7,351.6 1062.3,347.3 1062.4,344.1 1062.4,339.6 1062.6,336.0 1063.0,331.7 1063.4,327.8 1063.5,323.7 1063.5,319.9 1063.6,316.2 1063.6,312.3 1063.8,308.4 1064.4,304.1 1065.0,300.2 1064.5,296.4 1064.6,293.4 1065.1,288.9 1064.9,293.2 1065.3,296.7 1065.8,300.6 1065.6,304.9 1066.4,308.3 1066.5,312.8 1065.9,316.4 1066.9,319.9 1066.2,324.0 1066.9,327.5 1067.0,331.7 1066.7,335.4 1067.0,339.8 1067.8,344.0 1067.6,348.4 1067.4,352.9 1067.7,357.0 1068.4,360.9 1067.9,365.3 1068.2,369.0 1068.3,374.0 1068.1,377.4 1069.0,382.4 1068.7,386.2 1068.8,390.7 1068.9,394.9 1069.5,399.1 1069.2,403.0 1069.3,406.6 1069.7,411.7 1069.1,415.8 1069.3,419.3 1069.6,424.2 1069.5,427.8 1069.7,432.3 1070.1,436.3 1070.3,440.6 1070.4,445.1 1070.5,448.6 1070.8,453.0 1071.2,457.9 1071.3,461.4 1071.7,465.7 1071.4,470.0 1071.8,474.6 1071.3,478.1 1071.8,482.3 1072.3,487.0 1072.1,491.3 1072.5,495.1 1072.8,499.1 1073.2,503.0 1073.4,506.9 1072.9,510.6 1073.2,514.9 1073.6,518.7 1073.9,522.3 1074.0,526.6 1074.3,530.3 1074.9,534.8 1074.7,538.7 1075.2,542.7 1074.8,546.2 1075.6,550.4 1075.6,553.8 1076.0,557.7 1076.8,554.0 1077.0,550.8 1076.4,546.4 1077.5,543.4 1077.4,539.5 1077.7,535.9 1077.9,531.9 1078.5,528.4 1078.9,524.8 1078.3,520.4 1078.6,517.0 1079.4,512.6 1079.6,508.7 1080.0,504.4 1079.9,500.4 1080.8,496.9 1081.1,492.3 1080.9,488.8 1081.2,484.1 1082.2,479.8 1082.3,476.0 1082.8,472.0 1083.0,468.9 1082.9,465.0 1083.4,461.1 1084.0,457.4 1084.8,453.9 1084.5,450.1 1085.0,446.1 1085.5,442.5 1086.7,438.9 1087.3,436.3 1087.7,432.5 1089.6,430.0 1091.0,429.7 1092.1,433.1 1092.8,436.5 1093.0,440.6 1093.7,443.4 1094.2,445.6 1095.2,448.6 1095.9,451.5 1096.6,447.9 1097.0,444.5 1098.1,440.6 1098.7,437.3 1099.2,434.4 1099.2,430.2 1100.0,427.0 1100.1,423.3 1100.6,419.4 1101.4,415.6 1102.0,411.4 1102.2,408.0 1102.6,405.3 1104.2,400.8 1104.7,397.7 1105.4,394.3 1105.9,391.1 1107.3,389.0 1107.6,386.2 1108.4,382.4 1109.3,379.1 1109.5,375.3 1111.2,371.9 1112.8,369.8 1113.7,368.0 1115.5,364.4 1115.8,360.1 1116.9,357.6 1117.7,353.5 1118.4,350.1 1119.2,346.8 1119.4,342.9 1120.4,339.9 1121.6,337.7 1123.2,334.0 1122.8,338.1 1123.2,341.8 1123.0,345.3 1123.7,348.7 1123.9,353.2 1123.4,356.6 1124.2,360.4 1124.2,363.9 1123.8,368.1 1124.3,372.3 1124.2,375.9 1123.7,379.7 1124.3,382.9 1124.0,387.0 1124.5,391.0 1124.0,394.1 1124.2,398.5 1124.3,402.1 1124.3,405.9 1124.1,409.9 1124.3,413.7 1124.3,418.2 1124.5,421.1 1124.7,425.0 1124.7,429.3 1125.4,425.0 1125.6,421.2 1126.3,417.6 1126.3,413.5 1127.0,409.4 1127.3,405.4 1128.2,402.1 1129.5,404.5 1130.0,406.6 1131.2,407.8 1132.0,410.1 1132.6,414.8 1133.8,418.0 1134.6,413.4 1134.3,410.1 1135.0,405.5 1135.4,402.1 1136.2,399.0 1136.2,394.8 1137.2,390.8 1138.2,388.1 1138.1,384.7 1139.0,381.7 1140.9,378.3 1141.4,381.8 1141.4,386.0 1141.9,390.0 1141.4,393.4 1142.0,397.6 1142.5,401.6 1142.9,405.5 1142.8,409.1 1143.1,413.5 1144.1,416.5 1144.7,419.4 1145.2,422.5 1145.2,418.3 1145.8,414.9 1146.3,410.3 1147.0,406.6 1147.4,403.5 1148.1,399.7 1148.0,396.3 1148.6,393.0 1148.9,396.5 1149.5,400.9 1149.9,404.4 1150.5,406.7 1150.8,410.1 1151.3,413.5 1152.4,415.9 1154.2,420.3 1155.0,417.1 1155.7,412.5 1156.1,408.9 1157.2,406.1 1157.7,402.1 1158.5,405.5 1159.5,408.9 1160.9,411.6 1161.7,413.5 1162.2,415.0 1162.4,411.7 1163.4,408.5 1164.4,411.5 1165.3,413.8 1166.5,409.3 1167.0,406.3 1167.1,410.5 1168.4,414.7 1168.5,418.5 1169.7,414.9 1170.5,418.8 1170.6,421.8 1171.0,425.3 1171.7,422.6 1171.6,419.3 1172.5,416.9 1173.3,419.8 1174.2,421.8 1174.5,417.4 1175.6,414.3 1175.6,410.4 1175.7,413.1 1176.5,417.2 1177.4,419.6 1178.2,416.1 1179.1,414.1 1179.9,418.5 1180.3,422.3 1181.0,426.4 1181.5,423.6 1182.0,420.0 1182.4,417.7 1182.6,421.6 1182.9,424.9 1183.7,428.1 1184.7,425.8 1185.5,421.8 1186.5,424.0 1187.1,426.7 1188.1,423.5 1188.9,419.2 1189.8,422.9 1189.6,427.0 1190.5,430.1 1191.1,426.6 1191.4,423.7 1191.9,420.2 1192.5,422.7 1193.1,427.2 1193.6,429.9 1193.7,426.8 1195.0,424.3 1195.2,420.5 1196.3,424.4 1196.1,428.4 1197.2,432.3 1199.0,428.8 1199.3,431.4 1200.0,435.3 1200.8,438.5 1201.4,435.1 1202.2,431.5 1202.8,428.3 1203.2,431.4 1203.8,434.7 1204.2,437.0 1205.6,434.0 1206.0,431.0 1207.3,434.3 1207.6,436.5 1207.9,434.1 1208.8,432.1 1210.2,435.6 1210.7,437.9 1211.2,434.6 1212.0,432.2 1213.4,435.7 1214.0,438.8 1215.2,435.6 1215.5,432.7 1216.4,436.2 1217.2,439.4 1217.5,443.0 1218.8,439.4 1219.4,435.7 1219.7,439.6 1221.0,443.3 1222.2,439.6 1222.9,435.2 1223.3,438.0 1223.9,442.2 1224.2,445.4 1225.5,441.6 1225.9,444.5 1227.1,448.3 1227.1,451.4 1227.8,448.6 1228.5,445.6 1229.1,448.6 1230.0,449.7 1230.6,445.7 1230.7,442.8 1231.7,438.6 1231.8,442.0 1233.3,446.1 1233.5,448.9 1233.9,444.9 1235.2,441.2 1235.2,444.9 1236.4,448.9 1236.3,452.2 1236.8,448.7 1237.9,444.9 1238.2,441.4 1239.1,444.5 1239.3,447.2 1240.1,450.8 1240.8,448.2 1241.6,445.4 1242.8,447.7 1243.3,451.0 1243.5,448.4 1244.5,446.2 1244.7,449.2 1245.8,453.4 1246.6,451.4 1247.0,448.8 1248.0,450.8 1248.2,454.4 1249.7,450.8 1250.7,455.3 1251.7,459.0 1251.8,455.3 1252.9,452.3 1253.3,456.7 1254.4,460.0 1255.0,456.0 1255.6,452.0 1256.5,455.4 1257.3,458.2 1257.7,461.8 1258.1,459.1 1259.3,455.8 1260.2,458.9 1260.5,462.0 1261.1,459.6 1261.8,456.3 1261.9,453.6 1262.5,458.1 1263.1,461.6 1264.5,458.3 1265.2,456.0 1265.2,459.2 1266.2,461.3 1266.4,464.9 1267.4,461.3 1267.6,457.4 1267.8,461.5 1268.8,465.3 1269.6,468.9 1270.3,464.8 1271.4,461.8 1272.5,465.5 1272.9,468.2 1274.1,464.5 1274.8,460.9 1275.6,464.6 1276.6,468.0 1277.2,465.4 1277.7,462.8 1278.0,459.4 1278.3,462.8 1279.0,466.8 1280.6,469.0 1281.0,473.6 1280.6,477.5 1280.7,481.7 1280.7,485.3 1281.0,489.6 1281.6,492.9 1281.3,497.3 1281.6,501.2 1281.5,505.4"/>
<polyline stroke="#ff0000" points="1280.6,469.6 1280.9,465.5 1281.9,461.4 1282.4,464.3 1283.8,467.9 1285.2,465.9 1286.0,462.1 1286.7,465.2 1286.9,468.9 1287.9,472.5 1288.9,469.4 1289.2,466.4 1289.8,469.0 1290.9,470.6 1291.9,468.4 1292.3,466.4 1292.5,470.5 1293.6,473.8 1294.4,469.6 1295.2,466.7 1295.4,470.9 1296.4,473.4 1296.9,477.4 1297.8,474.5 1298.6,470.0 1299.4,473.8 1300.3,478.3 1301.3,474.9 1302.5,471.3 1303.5,473.9 1304.0,477.9 1304.5,481.3 1305.2,477.1 1306.0,473.8 1306.5,476.7 1307.5,478.6 1308.6,475.5 1309.5,473.6 1310.4,476.5 1311.3,478.6 1311.5,482.1 1312.4,479.5 1313.7,475.9 1313.8,478.3 1314.5,481.1 1314.9,484.2 1316.4,481.1 1317.0,478.0 1318.6,481.5 1319.2,485.1 1320.3,481.5 1320.5,477.8 1321.6,480.9 1321.6,482.6 1322.5,486.0 1322.7,483.6 1323.7,480.8 1324.7,481.3 1325.9,484.6 1326.0,481.2 1326.6,476.5 1327.2,473.2 1327.4,474.7 1327.4,478.5 1327.0,482.4 1327.2,486.3 1327.3,491.3 1327.7,495.1 1328.2,498.8 1327.7,502.4 1327.5,507.2 1327.9,510.4 1327.6,514.6 1328.3,518.5 1328.4,523.0 1328.1,526.9 1328.0,531.4 1328.4,535.3 1327.8,538.8 1328.6,543.6 1328.4,547.5 1328.6,551.3 1328.5,555.1 1328.8,559.0 1328.8,563.6 1328.8,567.1 1328.6,571.2 1328.6,575.7 1329.0,579.4 1329.0,583.3 1328.2,588.1 1329.0,591.9 1328.4,596.1 1329.1,600.3 1328.7,604.1 1328.9,599.7 1329.1,596.1 1329.3,591.8 1329.6,588.2 1329.8,584.6 1329.6,580.1 1329.5,576.1 1329.9,572.3 1330.5,568.0 1330.4,565.2 1330.4,561.2 1330.3,557.6 1330.7,553.7 1331.4,549.3 1331.0,545.4 1331.3,542.1 1331.7,538.3 1332.2,533.9 1332.3,530.8 1332.5,526.4 1333.1,523.1 1333.5,519.4 1333.3,515.6 1333.9,511.8 1334.3,508.2 1334.9,504.2 1336.5,503.4 1337.4,500.8 1337.4,496.2 1337.4,492.6 1337.2,487.9 1337.3,484.5 1337.8,479.7 1337.4,475.6 1337.5,471.6 1337.7,466.8 1338.4,463.4 1338.0,458.8 1338.4,455.2 1338.3,450.6 1338.7,446.7 1338.0,442.4 1338.7,438.4 1338.3,434.5 1338.7,430.4 1338.5,425.5 1338.9,422.2 1338.8,417.4 1339.0,413.5 1338.9,409.6 1338.9,405.9 1339.4,402.0 1339.6,397.9 1340.1,395.1 1339.8,390.5 1339.6,386.7 1340.4,383.4 1340.1,379.4 1340.4,376.5 1341.2,373.7 1341.2,377.2 1342.0,381.2 1342.3,383.5 1342.2,387.3 1343.0,390.8 1342.7,395.4 1343.6,399.2 1343.4,403.6 1343.6,407.4 1343.7,411.4 1343.2,415.9 1343.2,419.3 1343.5,423.7 1344.1,427.7 1343.8,431.6 1343.9,436.1 1343.5,440.4 1343.8,444.1 1343.9,447.5 1344.5,451.0 1344.8,455.2 1344.8,458.8 1344.8,462.7 1344.7,466.8 1344.6,470.2 1344.9,474.7 1344.4,478.8 1345.4,482.9 1345.5,487.1 1345.6,491.5 1345.4,495.4 1345.8,499.7 1345.5,503.6 1345.3,507.4 1345.5,511.9 1345.3,515.7 1345.8,520.5 1345.2,524.8 1345.6,527.9 1345.8,532.6 1345.9,536.2 1345.4,540.6 1346.0,545.2 1345.7,549.1 1345.7,553.6 1346.2,557.1 1346.2,561.6 1345.6,565.0 1346.4,569.4 1345.9,573.9 1345.8,578.0 1346.0,581.6 1346.1,586.1 1345.8,590.6 1346.3,593.7 1345.7,597.7 1346.4,602.3 1346.0,605.8 1345.9,610.6 1345.7,614.5 1346.4,618.0 1346.1,622.6 1346.3,625.8 1345.5,630.4 1345.6,633.7 1345.7,638.6 1345.8,642.7 1345.6,646.6 1346.1,650.6 1346.3,654.4 1346.2,657.8 1345.8,662.2 1345.6,658.3 1346.2,654.4 1346.7,650.9 1346.2,646.6 1346.8,642.7 1346.7,639.1 1347.5,635.0 1347.2,631.5 1347.8,627.4 1347.2,624.0 1348.1,619.8 1347.6,616.0 1347.6,611.9 1347.9,607.9 1347.7,604.4 1348.3,599.7 1348.6,596.7 1349.1,592.3 1348.8,588.4 1349.0,592.5 1349.3,595.7 1349.5,599.9 1349.0,603.9 1349.3,608.2 1349.5,612.1 1350.3,616.3 1349.8,619.8 1350.0,624.1 1350.2,627.2 1350.4,631.5 1350.6,636.2 1350.8,639.9 1351.1,644.3 1351.3,648.3 1351.0,652.0 1351.1,656.6 1351.2,660.2 1351.8,664.9 1351.4,668.2 1352.0,673.1 1351.7,676.9 1351.8,680.6 1352.5,684.7 1352.7,689.4 1352.9,693.4 1352.1,696.7 1352.8,701.0 1353.1,705.4 1353.2,709.2 1353.3,713.2 1352.9,709.0 1353.0,705.0 1353.3,700.4 1353.1,696.5 1354.0,691.8 1353.7,687.8 1353.5,684.0 1353.7,679.2 1353.4,675.3 1353.9,671.1 1353.6,667.3 1354.1,663.1 1353.8,658.3 1354.0,654.2 1353.8,649.9 1354.1,645.8 1354.3,641.7 1354.4,637.6 1353.8,633.2 1353.7,629.0 1353.7,625.5 1354.0,621.0 1354.2,616.8 1354.5,612.8 1354.6,608.4 1353.9,605.2 1354.6,600.6 1354.3,596.3 1354.0,592.2 1354.6,588.2 1354.5,584.3 1354.1,579.9 1354.1,575.6 1354.6,572.0 1355.0,567.4 1354.7,563.5 1355.2,559.3 1354.5,555.7 1355.4,551.7 1354.9,547.4 1355.2,543.4 1355.0,538.9 1355.6,535.2 1355.1,530.7 1355.8,526.9 1355.4,523.3 1355.9,518.4 1355.9,514.8 1355.5,510.5 1355.8,506.7 1355.8,502.8 1356.4,499.2 1356.7,495.0 1356.8,490.5 1357.0,486.7 1357.2,482.7 1357.2,478.4 1357.6,482.0 1357.4,486.1 1358.3,490.2 1358.5,494.9 1358.8,498.9 1358.5,502.3 1359.0,506.7 1359.2,511.0 1359.3,515.3 1359.9,518.6 1359.8,523.4 1360.4,527.1 1360.2,523.4 1361.2,520.1 1361.9,515.9 1361.4,512.5 1362.2,509.0 1363.4,504.7 1364.0,501.1 1364.6,505.1 1364.1,509.1 1364.1,513.6 1365.1,517.5 1365.3,521.6 1365.5,525.7 1365.4,529.4 1365.1,532.9 1366.0,537.0 1365.7,540.9 1366.1,544.3 1366.0,548.4 1366.0,552.5 1366.1,556.2 1367.0,559.8 1366.7,563.5 1366.9,567.4 1366.6,571.4 1366.6,574.6 1367.1,578.2 1367.0,582.7 1367.0,586.4 1367.2,590.4 1367.4,593.8 1367.6,597.5 1367.8,601.7 1368.1,604.7 1368.5,608.6 1368.1,612.1 1368.6,616.4 1368.5,620.2 1368.7,615.7 1369.7,612.7 1370.1,608.5 1370.8,604.3 1371.6,601.5 1371.7,596.9 1372.7,594.7 1373.1,590.7 1373.8,586.9 1374.1,584.1 1375.4,580.3 1376.0,577.1 1377.4,573.7 1378.7,570.3 1378.6,574.1 1378.9,578.1 1379.3,582.3 1379.2,586.8 1379.4,590.7 1381.1,593.7 1379.5,594.2 1377.5,596.7 1379.0,599.9 1381.1,599.8 1379.8,600.0 1378.7,602.7 1377.0,602.8 1378.7,603.1 1379.8,605.6 1381.4,605.8 1379.4,605.9 1377.7,608.8 1379.9,611.1 1381.5,609.1 1382.8,611.5 1381.5,612.9 1379.2,611.9 1378.0,614.1 1379.9,615.7 1381.6,614.0 1382.9,616.7 1380.9,619.2 1378.8,616.7 1377.5,619.3 1379.5,621.7 1380.3,620.4 1382.2,621.9 1381.0,624.3 1379.5,622.5 1377.7,624.5 1379.0,626.9 1381.2,624.6 1382.3,627.2 1380.8,628.4 1379.2,628.1 1378.2,629.8 1379.6,631.3 1381.1,630.7 1383.1,632.4 1381.9,633.8 1380.1,633.2 1378.2,635.0 1380.2,636.6 1381.5,635.0 1383.1,637.6 1381.0,639.6 1379.4,638.4 1377.5,640.3 1379.0,642.4 1380.3,641.2 1381.5,642.9 1380.1,645.3 1378.6,645.5 1380.3,646.0 1382.3,648.1 1381.1,649.8 1379.3,649.1 1377.6,650.7 1379.5,653.1 1380.6,651.4 1381.8,653.3 1380.5,655.7 1379.6,653.9 1378.0,656.0 1379.2,658.8 1380.4,656.9 1382.2,658.6 1380.5,660.3 1379.2,659.5 1377.8,661.2 1379.2,663.7 1381.1,661.7 1383.3,663.8 1381.3,665.8 1379.6,664.3 1377.9,666.4 1379.2,668.1 1380.6,667.3 1382.0,669.1 1380.7,670.4 1379.6,669.7 1377.9,671.7 1379.9,673.5 1380.9,671.9 1382.5,674.3 1380.5,675.5 1379.1,675.2 1377.8,676.9 1379.6,678.9 1381.5,677.7 1382.6,679.6 1380.6,682.0 1379.4,680.7 1377.8,682.3 1379.0,684.0 1381.0,683.2 1381.8,684.6 1383.6,684.9 1381.3,684.2 1379.6,688.5 1378.0,687.6 1380.0,687.5 1382.0,690.1 1383.4,690.3 1381.8,689.9 1379.5,692.9 1378.1,692.9 1379.9,692.4 1381.3,696.4 1383.1,695.6 1380.8,695.8 1379.4,698.3 1380.9,701.0 1382.3,699.4 1383.9,700.9 1382.6,703.0 1380.6,701.7 1378.9,703.6 1380.5,705.8 1382.2,706.3 1380.5,706.5 1379.1,708.9 1380.9,710.4 1381.6,710.1 1383.0,711.6 1381.0,713.9 1379.6,714.3 1381.0,713.5 1382.8,716.9 1384.1,717.0 1382.2,716.4 1381.3,719.2 1379.8,719.6 1381.3,719.4 1382.3,722.6 1384.1,722.3 1382.2,721.6 1380.8,725.8 1379.1,724.9 1381.5,724.4 1382.9,727.5 1381.2,729.5 1379.6,730.1 1380.8,730.0 1382.2,732.6 1383.5,732.8 1381.8,733.2 1380.2,735.4 1381.4,736.8 1382.9,736.6 1384.2,738.0 1382.6,739.6 1381.0,738.4 1379.4,740.6 1381.5,741.9 1383.1,741.6 1384.8,743.2 1383.0,745.2 1380.9,743.7 1379.2,745.9 1380.8,748.4 1383.2,745.7 1384.5,748.5 1382.4,750.1 1381.1,748.7 1379.0,751.1 1380.8,753.7 1381.7,751.2 1383.2,754.6 1384.9,753.7 1383.6,754.0 1381.1,756.8 1379.8,756.3 1380.9,756.8 1382.5,758.8 1384.0,757.3 1385.8,759.7 1384.1,762.2 1382.9,763.1 1384.9,762.7 1386.5,765.1 1389.1,763.5 1390.5,765.4 1388.9,768.2 1386.8,765.5 1385.1,768.2 1387.2,770.5 1389.1,768.9 1390.7,771.0 1388.6,773.7 1387.0,771.3 1385.4,773.8 1386.5,775.7 1387.8,774.3 1389.5,776.6 1387.8,778.9 1386.4,779.4 1387.9,779.7 1389.8,782.2 1388.3,784.4 1386.3,785.0 1387.3,784.1 1389.6,787.1 1390.9,787.7 1389.2,787.2 1388.3,790.1 1386.5,790.5 1388.4,789.9 1390.0,793.6 1391.6,793.3 1389.9,792.4 1389.0,796.9 1387.4,796.1 1388.3,795.7 1389.9,799.5 1391.6,798.9 1389.7,798.3 1388.7,801.2 1386.9,801.7 1388.3,801.8 1389.5,804.4 1390.9,804.3 1389.4,804.1 1388.3,807.5 1386.5,806.9 1387.5,807.3 1389.3,810.2 1390.8,809.6 1389.1,810.0 1387.6,812.2 1389.5,814.2 1390.4,813.6 1392.0,814.8 1390.1,817.1 1389.5,815.5 1387.6,817.4 1389.9,819.6 1391.5,818.1 1393.0,820.0 1391.6,822.3 1390.1,820.9 1388.0,822.7 1389.8,825.1 1391.3,823.8 1393.1,825.3 1391.9,827.6 1390.1,826.2 1388.7,827.9 1390.2,830.2 1391.7,828.6 1392.6,830.5 1390.7,833.0 1389.2,833.1 1390.2,832.8 1392.3,836.3 1393.1,835.7 1393.4,839.8 1392.7,843.2 1392.0,847.4 1392.5,851.3 1392.0,854.7 1391.8,858.8 1392.9,861.9 1394.0,861.7 1391.8,861.6 1391.1,864.1 1388.9,864.5 1390.8,864.1 1391.8,866.8 1393.7,867.3 1392.2,866.8 1390.7,870.6 1389.2,870.2 1390.7,870.7 1393.0,873.3 1394.5,873.0 1392.7,872.9 1391.1,876.5 1389.4,875.9 1391.0,875.4 1392.8,878.3 1394.1,878.7 1392.2,878.5 1390.4,882.3 1389.0,881.5 1390.9,882.1 1392.3,884.5 1394.3,884.2 1393.3,884.4 1391.6,887.3 1390.2,886.9 1392.0,887.1 1393.0,889.5 1391.9,891.5 1390.3,890.6 1388.5,892.2 1390.5,894.4 1392.4,893.6 1394.0,894.9 1392.4,897.2 1390.9,896.0 1389.8,897.5 1391.4,899.0 1392.4,897.8 1394.0,900.2 1392.5,901.7 1391.0,900.1 1389.9,902.9 1392.0,905.6 1393.3,905.6 1392.3,905.3 1390.6,908.1 1389.4,908.2 1391.1,908.3 1393.0,910.9 1391.7,913.5 1389.9,913.6 1391.6,914.6 1393.5,916.2 1391.8,918.4 1390.3,916.7 1389.0,918.9 1390.1,921.1 1391.3,919.5 1393.1,921.6 1391.6,923.9 1390.4,922.4 1388.9,924.2 1390.4,925.7 1392.9,925.6 1394.3,926.9 1392.8,929.6 1391.8,927.5 1390.1,929.5 1391.2,931.8 1393.3,932.1 1391.8,932.8 1390.4,934.8 1391.4,937.6 1393.3,935.6 1394.3,937.4 1393.0,939.0 1391.6,937.7 1390.1,940.0 1391.5,941.3 1392.5,941.1 1394.1,942.6 1392.3,944.5 1390.6,945.2 1392.2,945.2 1393.9,947.8 1395.0,947.9 1393.8,947.8 1391.6,950.1 1390.0,950.5 1391.8,949.4 1393.3,953.0 1394.7,953.1 1393.2,952.7 1391.7,956.4 1390.1,955.7 1391.7,954.9 1393.2,958.7 1394.6,958.3 1393.4,959.0 1391.3,960.9 1393.4,963.7 1395.0,962.2 1396.3,963.8 1394.4,965.5 1393.4,964.8 1392.1,966.6 1393.8,969.5 1395.4,969.5 1394.2,970.3 1393.0,972.3 1394.1,974.7 1395.2,972.9 1396.9,975.1 1395.6,976.5 1394.2,975.7 1392.1,978.0 1393.3,980.3 1394.6,979.1 1396.4,980.8 1395.0,983.1 1393.3,983.6 1394.3,983.8 1395.7,986.3 1397.6,986.5 1395.6,986.3 1394.2,989.3 1395.6,992.3 1397.9,992.1 1396.6,993.0 1394.6,995.0 1396.2,997.6 1398.3,997.8 1397.0,997.6 1395.4,1000.2 1394.2,1000.7 1396.1,1000.5 1397.2,1003.9 1398.9,1003.5 1397.3,1003.5 1395.5,1006.3 1397.0,1008.3 1398.3,1006.9 1400.1,1009.0 1398.5,1010.7 1397.3,1010.1 1395.5,1011.7 1397.1,1013.1 1398.3,1012.5 1400.0,1014.3 1398.6,1016.6 1397.5,1014.8 1395.9,1017.0 1397.5,1018.8 1398.8,1018.0 1401.0,1019.7 1399.6,1021.6 1398.4,1020.2 1396.7,1022.3 1398.6,1024.4 1399.9,1025.0 1398.1,1026.0 1396.7,1027.7 1398.5,1028.8 1399.6,1027.6 1401.0,1030.4 1399.5,1032.2 1398.4,1030.5 1396.6,1033.0 1398.2,1034.8 1399.0,1033.5 1400.6,1035.7 1399.0,1038.4 1397.4,1038.4 1398.6,1039.6 1400.3,1041.0 1398.8,1043.3 1396.6,1043.7 1398.0,1044.0 1398.9,1046.5 1400.7,1046.4 1399.3,1046.0 1397.1,1049.0 1399.4,1051.5 1400.9,1051.7 1398.9,1051.9 1397.5,1054.4 1399.2,1056.6 1400.9,1057.1 1399.8,1057.2 1398.1,1059.4 1396.6,1059.7 1398.4,1059.4 1400.1,1062.9 1401.8,1062.4 1400.4,1061.3 1398.4,1065.3 1397.4,1065.1 1399.4,1065.8 1401.2,1067.7 1399.4,1070.1 1398.5,1068.8 1396.9,1070.4 1398.1,1072.6 1399.7,1071.3 1401.9,1073.1 1400.3,1076.4 1398.3,1075.8 1399.9,1076.6 1401.3,1078.4 1400.1,1080.3 1398.5,1079.9 1396.9,1081.1 1398.6,1082.6 1400.5,1080.8 1401.6,1083.8 1400.2,1086.3 1398.0,1086.5 1399.9,1087.2 1401.3,1089.1 1399.5,1090.7 1398.6,1089.5 1397.2,1091.8 1398.6,1094.2 1399.7,1092.4 1401.7,1094.5 1400.4,1096.4 1399.0,1095.3 1397.9,1097.1 1399.7,1099.1 1400.8,1098.3 1402.6,1099.8 1402.2,1104.0 1402.0,1108.5 1402.5,1112.3 1401.7,1116.3 1401.6,1120.8 1402.1,1125.0 1402.1,1129.3 1401.1,1133.6 1401.3,1137.1 1401.0,1141.9 1401.0,1145.8 1401.0,1150.4 1400.8,1154.2 1400.8,1158.4 1400.6,1162.3 1401.0,1166.0 1401.2,1170.3 1400.7,1174.1 1401.0,1178.1 1401.2,1182.6 1401.2,1186.5 1401.5,1189.8 1401.4,1193.9 1401.4,1198.4 1401.7,1202.1 1401.8,1206.8 1401.0,1210.6 1401.5,1214.4 1401.1,1210.6 1401.8,1205.9 1401.5,1202.4 1401.7,1198.1 1402.0,1194.7 1402.2,1190.0 1402.2,1186.6 1402.1,1182.3 1401.9,1178.2 1401.9,1174.2 1401.8,1170.1 1402.8,1165.8 1402.9,1162.4 1402.5,1157.9 1402.6,1154.2 1402.3,1150.1 1403.0,1146.0 1403.2,1141.9 1403.2,1137.9 1402.6,1134.1 1403.4,1130.6 1403.4,1126.7 1403.1,1122.1 1403.4,1117.8 1403.3,1113.8 1403.1,1110.6 1403.1,1106.6 1403.8,1102.1 1404.2,1098.4 1404.2,1094.4 1403.8,1090.0 1404.0,1086.1 1404.1,1082.1 1404.4,1078.2 1404.8,1073.9 1404.2,1069.8 1404.3,1065.9 1404.5,1062.2 1404.4,1058.1 1405.1,1054.7 1404.7,1050.2 1404.6,1046.8 1405.0,1042.6 1405.3,1038.5 1405.2,1034.8 1404.9,1030.7 1405.2,1026.8 1405.4,1022.6 1406.4,1020.2 1407.6,1018.1 1407.6,1022.3 1408.0,1026.6 1407.7,1030.9 1407.9,1034.6 1408.0,1038.6 1408.5,1042.6 1408.3,1046.8 1408.8,1050.9 1408.8,1055.1 1409.7,1059.3 1409.5,1063.5 1409.3,1068.0 1409.8,1071.5 1410.3,1075.7 1409.7,1079.7 1410.1,1083.9 1410.9,1087.6 1410.1,1091.7 1410.9,1095.8 1410.8,1099.8 1410.9,1095.5 1411.2,1091.1 1411.2,1087.2 1411.3,1082.5 1411.7,1079.2 1411.2,1074.5 1411.1,1070.4 1411.3,1065.6 1411.4,1061.9 1412.0,1057.8 1412.1,1053.8 1412.2,1049.6 1411.6,1045.3 1411.9,1040.8 1411.6,1037.0 1412.0,1032.4 1411.9,1028.9 1412.0,1024.8 1412.0,1020.9 1411.9,1016.4 1412.1,1012.5 1412.9,1008.3 1412.9,1003.8 1413.0,1000.4 1412.2,996.5 1412.5,992.0 1413.1,988.2 1412.9,984.0 1412.7,980.7 1413.4,976.9 1413.0,973.4 1413.0,969.2 1412.9,966.0 1413.1,961.8 1413.5,958.7 1414.2,963.2 1414.6,966.8 1415.1,971.5 1414.6,974.9 1415.7,979.1 1415.8,983.6 1417.2,986.5 1418.0,991.4 1418.8,995.0 1419.0,991.1 1419.8,988.0 1420.6,983.9 1421.0,980.8 1421.5,976.8 1421.5,972.5 1421.7,969.2 1421.9,965.1 1422.4,961.7 1422.9,957.5 1423.5,953.6 1423.3,949.6 1423.7,945.2 1423.2,941.4 1424.0,938.0 1424.5,933.6 1423.8,929.5 1424.4,926.0 1424.4,922.2 1424.9,917.8 1426.1,914.8 1427.1,911.0 1427.9,907.5 1429.4,904.2 1429.8,900.7 1429.8,896.5 1429.5,893.0 1430.5,889.0 1429.9,885.4 1430.6,881.8 1430.8,878.2 1430.5,874.2 1431.0,870.2 1431.4,866.8 1431.0,863.0 1431.9,858.5 1431.9,854.6 1431.8,851.5 1432.4,847.5 1432.6,844.1 1432.2,839.8 1432.8,836.1 1433.0,832.5 1433.0,828.3 1433.4,825.3 1433.8,821.2 1433.8,817.5 1433.4,813.4 1433.8,810.1 1434.4,806.1 1434.4,802.1 1434.3,798.5 1435.1,794.0 1435.4,790.4 1435.4,786.6 1435.2,783.3 1435.7,779.0 1435.9,775.3 1435.6,771.8 1436.2,768.1 1436.6,764.4 1436.6,760.3 1437.3,756.0 1437.3,752.6 1438.1,749.1 1437.8,744.7 1438.5,740.8 1439.7,737.2 1439.9,733.3 1441.0,730.0 1441.5,725.9 1441.5,722.8 1442.0,718.9 1441.2,715.2 1441.4,711.0 1442.5,707.3 1441.9,703.7 1442.3,700.0 1442.0,695.8 1442.3,692.5 1442.8,688.5 1443.1,685.5 1443.2,681.3 1443.2,677.6 1443.2,673.3 1443.5,670.0 1444.0,666.5 1444.0,661.5 1444.4,658.0 1444.7,653.3 1445.5,649.5 1445.1,653.9 1445.7,658.1 1445.3,662.4 1445.4,666.0 1446.0,670.3 1446.2,674.5 1446.3,678.7 1446.1,683.6 1446.1,686.9 1446.5,692.0 1446.0,695.4 1446.3,700.0 1446.2,704.3 1446.3,708.3 1446.1,712.3 1446.9,716.4 1446.2,719.8 1446.6,723.9 1446.8,727.8 1446.5,732.2 1447.0,735.9 1446.6,740.0 1447.0,744.2 1446.4,747.9 1446.8,752.5 1447.4,756.4 1447.6,760.1 1446.9,763.5 1447.1,767.9 1448.0,772.3 1448.2,776.1 1447.7,779.9 1448.2,783.8 1448.1,787.6 1447.9,792.1 1448.2,796.3 1448.5,800.0 1448.6,803.6 1448.7,808.2 1448.9,811.9 1448.3,816.2 1448.9,820.0 1449.2,824.1 1448.4,827.6 1448.9,831.7 1448.6,835.9 1449.5,839.9 1448.7,844.0 1449.2,848.0 1449.4,844.3 1449.4,840.3 1449.1,836.1 1449.8,832.1 1449.6,828.3 1449.8,823.9 1450.1,820.0 1450.5,816.5 1450.0,811.6 1450.4,808.3 1450.1,803.6 1450.5,800.0 1450.3,796.5 1450.5,792.2 1451.0,788.4 1450.5,784.3 1451.0,780.1 1450.8,776.1 1451.5,772.8 1450.9,768.7 1451.3,764.8 1451.1,760.2 1452.1,757.0 1451.9,752.6 1451.8,748.6 1452.0,745.0 1452.6,741.3 1452.2,737.5 1452.6,734.4 1452.9,730.3 1453.2,734.7 1453.4,738.3 1453.0,742.3 1453.9,746.4 1453.6,749.9 1453.5,753.8 1453.5,757.7 1454.2,762.2 1454.7,765.6 1454.5,770.0 1454.7,773.8 1454.6,778.1 1454.9,781.6 1455.4,785.3 1456.0,789.7 1455.9,793.0 1455.8,797.4 1456.6,801.1 1456.5,805.0 1456.4,809.2 1456.8,812.9 1456.6,817.0 1457.1,821.0 1456.8,825.8 1457.3,829.9 1457.2,833.5 1457.2,838.1 1457.5,842.2 1458.0,846.3 1458.0,850.0 1457.7,853.9 1458.1,857.2 1458.1,861.7 1458.2,865.4 1458.7,868.8 1458.8,873.0 1459.1,876.7 1459.4,879.9 1459.4,884.0 1460.2,881.6 1461.5,880.0 1462.0,876.2 1462.0,872.0 1462.2,867.6 1461.8,864.0 1461.6,859.7 1462.4,855.5 1462.4,852.1 1462.0,847.9 1462.6,844.3 1462.3,840.4 1462.4,836.5 1463.3,831.9 1462.6,828.3 1463.5,824.1 1463.4,819.7 1463.1,816.3 1463.5,812.0 1464.0,816.0 1464.1,820.1 1463.9,824.1 1464.5,827.5 1463.8,831.4 1464.2,835.2 1464.0,840.0 1464.3,843.1 1464.7,847.9 1464.7,851.4 1464.9,855.9 1465.4,858.8 1465.4,862.9 1465.2,867.4 1465.5,871.1 1465.6,867.0 1465.7,863.0 1466.5,858.4 1466.3,854.4 1465.9,850.1 1466.4,845.9 1466.2,842.1 1466.5,837.5 1467.1,833.7 1467.5,829.6 1467.6,825.2 1467.8,821.4 1467.2,817.6 1467.8,813.1 1468.2,816.8 1468.5,821.1 1468.9,824.5 1469.2,828.3 1469.6,832.9 1469.4,836.2 1470.0,840.5 1470.2,844.1 1470.3,848.1 1470.5,844.3 1470.4,840.6 1471.2,836.3 1471.1,832.1 1471.4,827.9 1472.3,823.8 1472.1,819.6 1472.2,816.3 1472.5,811.6 1473.5,808.3 1473.7,803.7 1473.6,800.0 1473.8,795.4 1473.6,792.0 1474.1,787.3 1473.4,782.9 1474.2,779.2 1473.8,774.7 1474.4,770.6 1474.3,766.3 1474.5,762.1 1474.5,758.3 1474.1,754.7 1474.3,750.0 1474.5,746.1 1474.1,741.5 1474.0,737.3 1474.2,733.5 1474.7,729.3 1474.4,724.8 1474.8,720.4 1475.0,716.8 1475.0,711.7 1475.3,708.1 1475.1,704.1 1475.2,699.6 1475.7,704.0 1475.7,707.6 1475.7,711.6 1475.8,715.4 1476.0,719.6 1476.1,723.9 1475.4,728.0 1475.9,731.7 1475.7,735.9 1475.9,740.0 1475.9,744.5 1476.2,748.2 1475.7,752.2 1476.5,756.9 1476.3,760.8 1476.5,764.5 1476.1,769.2 1476.5,773.4 1475.9,777.5 1476.5,781.6 1476.8,785.6 1476.5,790.0 1476.4,794.0 1477.1,797.5 1476.9,802.4 1476.5,806.5 1476.7,810.0 1477.3,813.8 1476.7,818.4 1477.3,821.6 1476.9,826.4 1477.2,830.3 1477.2,834.5 1477.5,838.2 1477.7,842.1 1477.8,837.6 1478.6,833.8 1477.9,829.8 1478.5,825.5 1479.2,820.9 1479.2,816.9 1478.9,812.9 1479.2,808.1 1479.8,804.5 1480.0,805.0 1480.6,800.8 1481.1,796.7 1481.4,792.9 1481.7,788.0 1482.1,784.0 1483.0,780.0 1483.0,775.7 1483.5,771.6 1483.4,768.3 1483.0,764.0 1483.6,759.8 1483.0,755.8 1483.6,752.0 1483.8,747.7 1483.7,744.0 1483.7,740.3 1483.2,735.9 1483.2,731.9 1483.7,727.5 1483.9,723.7 1483.6,720.0 1483.3,715.5 1483.3,712.2 1484.1,707.5 1483.4,703.6 1484.4,699.7 1484.3,695.5 1483.9,690.9 1483.9,686.8 1483.9,683.3 1484.1,678.5 1483.8,675.0 1484.4,670.7 1484.9,674.6 1484.4,678.6 1484.7,682.9 1484.3,686.9 1485.2,691.4 1484.8,694.9 1484.9,699.8 1485.2,703.7 1485.1,707.9 1485.5,712.1 1484.9,715.7 1485.2,720.0 1485.5,723.8 1485.5,728.4 1485.8,732.0 1485.6,736.6 1485.5,740.7 1485.7,744.9 1485.5,748.9 1485.8,752.4 1486.5,756.9 1486.6,761.1 1486.1,764.5 1486.1,769.3 1486.5,773.0 1486.6,776.6 1487.3,780.6 1487.4,785.0 1487.5,788.6 1487.0,792.1 1487.5,795.9 1487.5,800.0 1487.3,804.1 1487.9,807.8 1488.1,811.8 1488.0,815.5 1488.0,819.9 1488.0,824.0 1488.1,827.2 1488.3,832.1 1488.8,835.3 1488.1,839.6 1488.4,843.1 1488.8,847.5 1489.3,843.4 1488.6,839.4 1488.9,835.2 1489.7,831.5 1489.1,827.6 1489.0,823.3 1489.5,820.1 1489.6,816.0 1489.4,812.2 1490.1,807.7 1490.0,803.7 1489.8,799.5 1490.1,796.0 1490.0,792.1 1490.2,788.2 1490.6,784.1 1490.4,788.1 1490.7,792.7 1490.7,796.7 1491.2,800.2 1490.9,804.1 1491.6,808.7 1490.9,812.7 1491.7,816.5 1491.7,821.0 1491.9,824.9 1491.9,828.6 1491.6,833.5 1492.1,836.8 1492.5,841.7 1492.1,845.4 1492.0,849.1 1492.2,853.1 1492.7,858.0 1492.5,861.7 1492.6,857.3 1492.2,853.6 1492.6,849.5 1493.1,844.8 1493.4,841.1 1493.2,837.1 1493.6,832.4 1493.5,828.4 1493.9,824.3 1493.1,820.3 1493.7,816.3 1493.9,812.1 1493.8,808.0 1494.2,803.7 1494.5,800.2 1493.8,795.5 1494.1,791.0 1494.0,787.4 1495.0,783.3 1494.6,779.1 1494.7,783.7 1495.0,787.4 1494.6,791.4 1495.5,795.7 1495.3,800.1 1495.0,803.6 1494.9,808.0 1494.9,812.6 1495.1,816.1 1495.7,820.6 1496.0,825.1 1495.9,829.1 1495.9,833.2 1495.5,837.1 1495.9,841.0 1495.8,845.4 1496.2,849.8 1496.0,854.1 1495.8,857.8 1496.4,862.4 1496.4,866.7 1496.5,870.3 1496.3,866.5 1496.6,862.1 1496.6,858.6 1496.7,854.5 1496.8,849.7 1497.4,846.1 1497.2,841.7 1497.1,837.9 1497.5,834.2 1497.4,830.1 1497.9,825.8 1497.5,821.8 1497.9,817.9 1498.4,813.5 1498.7,809.8 1498.0,805.9 1499.0,801.3 1498.1,797.5 1498.9,793.5 1499.1,789.8 1498.9,785.3 1499.1,789.1 1499.6,793.6 1499.6,797.4 1499.1,801.5 1499.2,805.4 1499.9,809.1 1499.7,813.4 1499.4,817.4 1499.7,821.5 1500.2,825.7 1499.8,829.3 1500.0,833.5 1499.8,837.7 1500.3,842.1 1500.7,846.1 1499.9,850.2 1500.9,853.4 1500.5,857.9 1500.7,861.8 1500.8,865.8 1501.0,862.1 1500.8,857.4 1500.6,853.5 1500.6,849.5 1501.6,845.5 1501.5,841.1 1501.8,837.7 1501.3,832.9 1501.1,829.6 1501.5,825.1 1501.7,821.4 1501.8,817.0 1502.1,813.0 1502.0,809.1 1501.6,804.5 1501.9,801.2 1502.7,796.4 1502.1,793.2 1502.0,788.5 1502.1,785.0 1502.5,780.6 1502.2,784.7 1502.5,788.6 1502.5,792.6 1502.9,797.4 1502.8,800.8 1502.9,804.9 1503.0,809.3 1503.1,812.9 1503.2,817.7 1503.8,821.7 1503.0,825.8 1503.2,829.3 1504.1,833.7 1503.4,837.4 1504.2,842.5 1504.3,845.8 1504.4,849.8 1504.1,853.9 1504.3,858.8 1504.2,862.7 1504.3,866.7 1504.7,862.3 1504.2,858.1 1504.4,855.0 1504.7,850.5 1504.7,846.3 1504.8,842.0 1505.4,838.2 1505.3,834.8 1505.6,830.0 1506.1,826.7 1505.4,822.7 1505.7,818.1 1505.7,814.6 1506.1,809.8 1506.6,805.9 1506.0,801.9 1506.6,798.0 1506.2,794.3 1506.8,790.0 1506.4,785.6 1506.5,782.1 1507.2,777.8 1507.2,773.9 1506.9,769.5 1506.7,765.3 1506.8,761.5 1507.2,757.5 1507.6,753.6 1507.2,748.9 1507.3,745.0 1507.2,740.8 1507.4,737.1 1507.3,732.6 1507.3,729.2 1507.1,724.4 1507.3,720.2 1507.9,716.5 1507.7,712.9 1507.3,708.3 1507.5,704.8 1508.0,700.3 1507.9,695.9 1507.7,692.0 1508.0,687.8 1507.3,683.6 1507.8,680.0 1508.2,676.4 1508.3,672.3 1508.3,667.9 1508.6,663.6 1507.8,660.1 1508.1,655.8 1508.3,651.9 1508.4,647.8 1508.4,644.3 1508.6,640.0 1508.5,636.4 1509.4,632.9 1509.2,630.3 1509.4,626.1 1509.6,623.0 1510.1,626.0 1510.0,629.3 1509.8,633.0 1510.0,637.0 1510.3,640.0 1510.7,643.7 1510.0,647.5 1510.6,651.9 1510.5,655.7 1510.8,660.2 1510.2,663.9 1511.0,668.3 1510.2,672.2 1511.0,676.1 1510.6,680.0 1511.0,684.1 1510.3,688.4 1510.9,692.0 1511.2,696.0 1511.1,699.9 1510.9,703.7 1510.9,708.4 1511.2,712.4 1511.7,716.0 1511.6,720.0 1511.7,724.3 1511.7,727.8 1511.7,732.4 1512.1,736.5 1512.1,740.2 1512.4,745.0 1512.1,748.8 1512.3,752.2 1512.0,756.6 1512.3,760.9 1512.4,765.0 1512.5,768.8 1512.4,772.8 1512.6,777.0 1513.0,780.3 1512.8,784.2 1513.0,788.2 1513.4,792.1 1512.8,796.5 1513.0,800.0 1512.9,803.6 1512.9,808.2 1513.6,811.8 1513.6,815.8 1513.5,820.0 1513.4,823.5 1514.0,827.7 1514.1,831.7 1514.1,835.8 1514.0,839.3 1514.0,843.5 1514.3,847.1 1514.0,843.1 1514.5,838.6 1514.4,834.7 1514.5,831.1 1515.6,826.7 1515.2,822.9 1515.0,818.0 1515.2,813.9 1516.0,809.6 1516.5,806.3 1516.2,801.7 1516.6,805.5 1517.0,810.1 1516.6,813.5 1516.6,817.2 1516.8,821.3 1517.2,825.3 1517.4,829.0 1517.9,832.9 1518.2,836.8 1517.6,840.9 1518.3,845.2 1518.6,848.6 1518.6,852.7 1518.4,848.9 1518.8,844.3 1518.8,840.1 1518.8,836.8 1519.3,832.0 1519.6,828.7 1519.8,824.5 1519.8,820.8 1520.5,816.2 1520.1,812.4 1520.5,808.0 1520.9,804.0 1521.4,800.4 1521.1,796.1 1520.7,800.0 1521.0,804.8 1521.4,809.0 1521.8,812.2 1522.1,817.3 1521.9,820.4 1522.2,825.0 1522.5,829.6 1522.1,833.0 1522.7,837.6 1522.4,841.8 1522.7,845.4 1522.6,849.6 1523.4,854.1 1523.3,858.2 1523.3,862.2 1523.1,857.9 1523.5,854.1 1523.8,849.7 1524.2,845.5 1524.3,841.3 1524.4,837.7 1524.1,833.2 1524.2,828.7 1524.2,825.0 1525.1,820.6 1524.9,816.6 1525.1,812.9 1525.2,808.4 1525.5,804.3 1525.4,799.5 1525.4,795.4 1525.8,791.7 1525.7,795.8 1525.9,799.8 1526.7,803.5 1526.6,808.5 1526.5,812.4 1527.2,816.7 1526.6,820.5 1527.1,824.9 1527.2,828.8 1527.7,832.2 1527.4,836.5 1527.5,840.8 1527.5,844.6 1528.3,849.3 1528.1,852.7 1528.3,857.2 1528.3,853.1 1528.0,848.7 1529.0,844.8 1528.5,840.6 1528.7,835.9 1528.4,832.1 1528.5,828.2 1528.8,823.3 1529.7,819.3 1529.7,815.7 1529.9,811.0 1529.1,807.2 1529.6,802.7 1530.1,798.7 1530.0,794.1 1529.5,790.6 1529.8,786.0 1530.4,781.9 1530.2,777.7 1530.2,781.8 1530.9,785.4 1530.7,789.2 1531.5,792.2 1531.9,796.2 1531.7,800.0 1532.1,795.5 1532.0,792.1 1532.2,787.3 1532.2,783.2 1531.5,778.9 1531.9,775.2 1531.7,771.3 1531.7,766.4 1532.1,762.9 1532.4,758.2 1531.5,753.8 1532.0,750.0 1532.1,746.0 1532.5,741.9 1532.2,738.1 1532.0,733.3 1532.6,729.5 1532.3,725.8 1532.7,721.3 1532.8,717.0 1532.9,713.5 1532.4,709.3 1533.1,705.0 1532.3,700.6 1532.6,697.1 1532.8,693.0 1532.6,689.2 1533.1,685.1 1533.2,680.9 1533.4,676.3 1533.2,672.2 1533.3,668.2 1533.7,664.1 1533.4,660.8 1534.0,656.5 1534.0,652.1 1534.1,647.8 1534.1,644.4 1533.8,640.0 1533.7,636.0 1534.2,631.9 1534.4,627.8 1534.0,624.6 1534.6,620.5 1534.4,616.3 1535.0,613.0 1534.7,608.7 1534.8,604.9 1534.7,609.1 1535.3,612.2 1535.3,616.2 1535.6,620.5 1535.0,624.5 1535.4,628.7 1535.4,632.2 1535.4,635.9 1535.6,640.0 1536.0,644.2 1536.0,648.0 1536.2,652.4 1536.0,655.9 1536.0,659.8 1536.0,664.2 1536.1,667.9 1536.4,672.5 1536.0,676.2 1536.5,680.5 1536.3,684.4 1535.8,687.6 1536.6,691.9 1536.1,695.8 1536.3,700.0 1536.4,704.4 1536.2,708.0 1536.9,712.2 1535.9,717.2 1536.2,721.2 1536.8,725.3 1536.8,729.2 1536.7,733.1 1536.5,737.1 1536.5,741.2 1536.5,745.7 1536.6,750.0 1536.9,754.2 1537.1,758.4 1536.3,761.9 1536.7,766.1 1537.1,770.4 1536.8,773.6 1537.4,778.1 1537.2,781.9 1537.3,785.9 1537.0,790.0 1537.2,786.3 1536.7,782.3 1537.0,778.8 1536.8,775.8 1536.6,771.4 1536.1,768.1 1536.3,772.0 1536.0,775.8 1536.7,779.6 1536.1,784.1 1536.7,788.3 1535.9,791.8 1536.5,796.3 1536.8,799.7 1536.1,803.7 1536.1,808.3 1536.5,812.5 1536.9,816.2 1536.3,819.7 1537.1,824.0 1536.6,827.7 1536.8,832.3 1536.7,836.1 1536.9,840.1 1536.7,844.3 1536.5,848.2 1537.4,852.5 1536.6,857.0 1537.3,860.8 1536.8,865.2 1537.1,868.9 1537.0,873.7 1536.8,877.7 1537.4,881.2 1537.1,885.9 1537.4,889.8 1537.3,893.7 1537.0,898.0 1537.8,902.0 1537.4,906.1 1537.6,910.2 1537.8,915.0 1537.2,919.0 1537.3,922.7 1537.7,926.9 1538.1,931.3 1537.8,935.4 1538.2,939.3 1538.3,944.0 1537.8,947.3 1538.4,951.8 1537.8,956.2 1538.6,960.4 1537.9,964.7 1538.3,968.7 1538.5,972.3 1538.8,976.7 1538.3,980.7 1539.0,985.4 1538.9,989.6 1539.4,993.8 1539.4,997.9 1539.0,1001.8 1538.8,997.4 1539.9,993.4 1539.7,989.3 1539.9,985.4 1540.2,981.1 1540.6,977.5 1540.7,973.3 1540.7,969.6 1540.7,964.7 1541.1,960.9 1541.0,956.7 1541.7,953.7 1542.1,949.8 1542.2,946.0 1541.6,941.5 1541.8,938.3 1542.1,934.6 1542.9,931.0 1542.9,926.9 1543.5,931.4 1543.6,935.1 1543.0,939.0 1543.4,943.9 1543.4,947.3 1544.3,952.1 1544.0,955.8 1544.0,959.6 1544.0,963.9 1544.3,968.3 1544.7,972.3 1545.1,975.8 1545.0,979.6 1545.2,983.8 1545.2,987.8 1545.2,992.0 1546.0,996.0 1545.6,999.5 1545.9,1003.1 1546.2,1007.1 1546.4,1011.0 1547.0,1014.7 1547.0,1018.8 1547.2,1015.4 1547.5,1010.5 1548.1,1007.4 1548.6,1002.9 1548.8,998.9 1549.2,995.0 1549.2,990.9 1549.9,986.4 1549.6,982.2 1549.7,978.3 1550.1,974.5 1549.8,970.3 1549.8,966.5 1550.5,961.7 1550.7,958.1 1550.1,953.9 1550.6,949.6 1551.0,945.7 1551.2,942.4 1551.2,938.1 1550.4,934.4 1550.7,931.0 1551.2,926.8 1550.5,923.4 1551.3,919.3 1551.0,915.6 1552.0,911.4 1551.7,908.0 1552.6,904.2 1552.9,900.5 1552.8,896.6 1552.8,893.3 1553.6,890.1 1553.5,886.1 1553.9,882.0 1553.5,877.7 1553.3,873.1 1553.4,869.7 1554.1,865.6 1553.5,860.8 1553.7,857.0 1554.2,853.1 1554.1,849.2 1553.9,844.4 1553.9,840.8 1553.7,836.5 1553.8,832.4 1553.4,828.2 1553.6,823.5 1553.9,819.8 1553.9,815.5 1553.6,811.4 1553.7,807.6 1553.8,802.9 1554.4,798.8 1554.0,794.8 1554.0,790.8 1554.5,786.8 1553.8,782.2 1554.4,778.0 1554.4,773.9 1554.2,769.8 1554.1,766.2 1553.6,761.5 1554.6,757.5 1554.0,753.8 1554.2,749.6 1553.8,745.0 1554.1,741.3 1554.5,737.1 1554.3,733.5 1554.4,728.5 1554.5,724.3 1554.1,720.8 1554.6,717.0 1554.3,712.1 1553.8,708.5 1554.5,703.7 1554.2,700.0 1554.5,695.9 1554.5,692.0 1553.9,687.4 1554.4,683.8 1554.8,679.7 1554.3,675.0 1554.8,671.1 1554.0,666.7 1554.0,663.1 1554.7,658.8 1554.4,655.1 1554.3,650.1 1554.9,646.6 1554.5,642.0 1554.1,638.3 1554.6,634.6 1555.0,629.8 1554.8,625.6 1555.0,622.2 1554.7,617.7 1555.0,614.0 1555.2,609.8 1554.9,605.4 1554.7,601.0 1554.9,597.3 1554.4,592.5 1554.8,588.5 1555.1,585.0 1554.5,580.7 1554.9,576.1 1554.9,572.6 1555.1,568.5 1554.4,564.1 1555.1,560.0 1554.7,555.6 1554.8,552.0 1554.7,546.9 1555.1,542.7 1554.6,539.2 1554.5,535.4 1554.5,530.9 1554.9,527.0 1554.4,522.9 1554.4,518.2 1554.4,514.0 1554.3,509.7 1555.2,506.0 1554.7,501.8 1555.0,497.3 1554.9,493.2 1554.3,489.2 1554.4,485.0 1554.5,480.7 1554.7,477.0 1555.4,474.0 1556.3,471.0 1557.0,467.9 1557.7,465.0 1558.6,462.0 1559.3,458.8 1559.6,454.9 1559.7,451.1 1560.1,447.9 1560.2,443.8 1560.2,440.1 1560.0,436.1 1559.6,432.0 1559.8,429.0 1560.5,424.9 1560.8,421.5 1561.0,417.6 1560.9,413.5 1561.7,409.8 1562.3,405.2 1562.7,401.0 1562.6,405.5 1563.6,409.3 1563.6,413.5 1564.9,416.3 1563.1,417.9 1561.3,419.1 1563.0,419.0 1563.8,422.3 1565.2,422.0 1564.0,422.5 1561.9,424.8 1563.7,427.4 1564.5,425.9 1566.5,427.4 1564.6,429.0 1563.5,428.2 1562.0,430.0 1563.9,431.9 1565.7,432.7 1564.5,432.3 1562.7,435.3 1564.4,437.7 1565.5,436.8 1566.5,437.9 1564.5,440.3 1563.5,438.7 1561.8,440.5 1563.2,442.8 1565.2,440.6 1566.5,443.1 1564.9,444.8 1564.2,443.7 1562.6,445.7 1564.3,447.6 1566.2,448.4 1564.9,449.0 1562.9,451.0 1563.8,453.1 1565.9,451.7 1566.8,453.6 1566.0,455.5 1564.0,454.3 1563.0,456.2 1564.7,458.8 1566.6,458.8 1564.9,459.3 1564.5,462.3 1562.7,461.5 1564.2,461.1 1565.4,464.4 1566.8,464.2 1565.1,465.0 1563.7,466.8 1565.5,469.3 1566.2,469.5 1564.8,470.7 1562.7,472.2 1564.5,474.2 1565.7,471.9 1566.8,474.9 1565.6,476.5 1564.2,476.1 1562.6,477.5 1564.5,479.1 1566.1,480.2 1564.7,480.4 1563.6,482.9 1564.8,485.0 1566.8,485.5 1565.3,485.6 1564.5,488.3 1562.8,488.2 1564.7,489.2 1566.4,490.9 1564.4,493.3 1562.8,493.5 1563.9,493.3 1565.2,495.5 1566.8,496.2 1565.4,496.1 1563.6,498.9 1564.6,501.4 1566.7,499.6 1567.5,501.6 1566.2,503.7 1564.0,504.2 1566.2,504.3 1567.7,506.8 1566.8,508.4 1564.8,507.6 1563.7,509.5 1565.3,511.6 1566.9,512.1 1565.9,512.9 1564.0,514.7 1565.9,516.7 1567.1,517.3 1566.2,517.1 1564.3,520.0 1563.0,519.9 1565.2,519.7 1566.8,522.5 1565.1,525.1 1563.6,525.2 1565.3,524.9 1567.2,527.8 1566.0,530.2 1564.0,530.4 1565.6,530.7 1566.8,533.0 1565.0,536.1 1563.5,535.6 1564.7,535.6 1566.0,538.6 1567.3,538.3 1565.7,538.8 1563.9,540.9 1565.4,543.3 1567.7,543.5 1566.3,543.8 1564.5,546.1 1566.1,548.1 1568.1,548.7 1566.2,548.3 1564.9,552.3 1563.4,551.3 1564.9,551.2 1565.5,554.2 1567.3,554.0 1565.5,554.6 1563.6,556.6 1564.7,558.3 1566.7,556.7 1568.1,559.2 1566.4,561.5 1564.4,561.8 1566.3,561.6 1567.5,564.4 1566.1,566.0 1564.9,567.1 1565.9,567.2 1567.7,569.7 1565.7,572.8 1564.4,572.3 1566.5,572.7 1568.0,575.0 1565.9,576.8 1564.6,577.7 1566.0,577.9 1567.3,580.4 1568.4,580.3 1567.0,580.6 1565.4,583.0 1567.1,585.5 1568.2,585.7 1566.6,585.7 1565.0,588.4 1566.4,590.0 1567.1,589.7 1568.9,591.1 1567.3,592.6 1565.9,593.7 1567.1,593.7 1568.9,596.4 1567.4,598.5 1566.3,597.1 1565.0,599.1 1566.2,600.7 1568.7,599.9 1570.0,601.8 1568.3,603.7 1566.8,602.5 1565.9,604.4 1566.9,606.5 1569.1,605.5 1570.1,607.1 1569.0,609.4 1567.2,609.7 1568.7,609.0 1570.1,612.3 1571.5,612.4 1569.9,612.8 1567.8,615.0 1569.2,616.6 1570.6,615.7 1572.2,617.7 1570.8,619.9 1569.8,620.7 1571.2,620.8 1573.0,623.9 1573.8,623.7 1572.4,624.2 1571.1,626.8 1571.7,623.1 1571.6,618.5 1572.1,615.3 1572.5,610.4 1572.9,606.8 1573.5,602.7 1573.4,598.7 1574.0,595.0 1574.4,591.2 1574.0,587.9 1574.4,583.2 1574.4,580.4 1575.0,575.8 1575.2,572.4 1575.1,568.2 1575.3,565.0 1575.2,560.9 1575.4,557.6 1575.9,553.0 1575.2,549.9 1575.3,545.5 1576.2,542.3 1575.6,538.7 1576.4,534.6 1576.1,531.2 1576.3,526.9 1576.9,522.9 1576.9,519.8 1577.1,515.8 1577.1,512.2 1577.7,508.2 1577.7,504.2 1578.8,501.4 1579.3,497.9 1580.8,495.1 1581.9,493.3 1582.7,490.6 1584.2,488.3 1584.4,491.6 1585.1,496.1 1585.6,499.7 1585.7,502.8 1586.2,507.0 1586.2,510.5 1586.4,514.5 1587.0,517.8 1587.3,521.0 1587.9,525.5 1588.2,529.6 1588.5,533.0 1588.2,536.8 1588.8,540.5 1589.8,537.5 1590.4,533.7 1591.2,529.8 1591.6,526.5 1592.2,522.4 1592.7,518.1 1593.7,514.7 1594.1,510.7 1594.5,507.6 1594.7,512.0 1594.8,515.6 1595.3,519.7 1595.3,523.2 1595.8,526.9 1595.5,531.0 1596.3,535.6 1595.5,538.9 1595.9,543.4 1595.7,547.5 1596.6,552.0 1596.0,556.1 1596.1,560.0 1596.4,564.4 1596.5,568.5 1596.5,572.3 1596.3,576.0 1596.5,580.5 1596.4,584.6 1596.3,588.8 1596.5,592.2 1597.0,596.7 1596.4,600.5 1596.8,604.3 1596.4,608.8 1596.6,612.6 1596.6,616.5 1597.0,620.5 1597.3,624.6 1596.6,628.7 1597.4,632.1 1597.4,636.7 1597.0,640.4 1596.6,644.0 1597.4,648.4 1597.5,651.9 1596.8,656.0 1597.1,659.7 1597.0,663.7 1596.9,668.3 1597.5,672.3 1597.5,675.9 1597.3,680.4 1597.0,683.8 1597.0,687.4 1597.3,691.9 1597.2,695.5 1597.2,699.8 1597.6,703.5 1597.1,707.6 1597.4,712.2 1597.4,716.6 1597.2,720.3 1597.4,724.5 1596.8,728.9 1597.3,733.1 1597.6,737.5 1597.6,741.0 1597.5,745.5 1597.3,749.2 1597.0,753.8 1597.5,758.4 1596.9,762.5 1597.6,766.5 1597.4,769.8 1597.8,774.5 1597.7,779.1 1597.2,783.2 1597.4,786.9 1597.5,791.3 1597.6,795.4 1597.2,799.0 1597.4,802.9 1597.4,806.9 1597.9,811.3 1598.2,814.8 1597.3,818.5 1598.2,823.1 1597.3,826.8 1597.6,830.9 1597.9,834.9 1597.5,838.6 1598.2,843.2 1598.1,847.4 1597.7,851.3 1598.1,855.0 1598.6,859.1 1598.7,862.1 1599.3,866.3 1599.9,869.5 1600.7,874.4 1600.8,877.7 1601.4,880.8 1602.2,885.2 1601.8,889.2 1602.7,893.1 1603.1,896.2 1603.5,900.4 1604.5,904.2 1604.5,908.4 1604.9,912.5 1605.8,916.3 1606.1,912.4 1605.6,908.5 1606.2,904.4 1606.4,899.7 1605.6,895.8 1605.7,891.4 1606.5,887.9 1606.2,883.9 1606.0,879.5 1606.7,875.3 1606.3,871.4 1606.7,867.4 1607.0,862.8 1606.3,858.7 1606.7,855.0 1607.2,850.9 1606.8,846.9 1606.9,842.7 1607.1,838.4 1607.3,834.4 1606.9,831.0 1607.2,826.9 1606.8,822.7 1607.0,818.3 1607.7,814.0 1607.8,810.0 1607.5,806.5 1608.0,802.5 1607.6,798.3 1607.7,794.4 1608.0,790.8 1608.3,786.9 1607.8,782.5 1608.2,778.7 1609.0,775.2 1608.8,771.0 1609.8,769.5 1610.3,766.9 1612.1,767.4 1613.1,769.9 1613.8,773.1 1614.3,776.2 1614.4,780.3 1614.5,783.3 1615.3,786.9 1615.8,790.6 1616.5,793.3 1617.2,797.0 1617.6,800.5 1617.8,804.7 1618.3,808.3 1619.6,812.0 1619.9,816.4 1620.7,820.0 1620.8,824.5 1621.0,828.6 1621.5,831.9 1621.0,836.3 1622.0,839.2 1622.1,843.6 1622.0,847.0 1622.2,850.9 1623.0,855.5 1622.7,858.3 1622.7,862.5 1622.9,866.7 1623.7,870.0 1623.4,873.9 1623.5,877.7 1624.0,881.4 1623.8,886.2 1623.9,889.6 1623.8,893.7 1623.5,897.8 1623.9,901.8 1623.8,906.0 1623.6,910.1 1623.5,914.5 1624.2,918.3 1624.0,922.7 1623.9,927.1 1624.0,930.9 1624.6,935.6 1624.3,939.6 1624.3,943.1 1624.2,947.2 1624.1,951.3 1624.4,955.7 1624.4,959.8 1624.9,963.6 1624.2,968.4 1624.5,972.0 1624.7,976.7 1624.0,981.0 1624.6,984.6 1624.0,989.2 1623.9,993.6 1624.5,997.0 1624.3,1002.0 1623.9,1006.1 1624.5,1009.6 1624.3,1013.7 1624.1,1018.6 1624.5,1022.8 1623.9,1026.3 1623.6,1030.8 1623.9,1034.8 1624.4,1039.2 1624.0,1043.3 1623.6,1047.8 1624.0,1051.5 1624.2,1056.1 1623.5,1060.3 1624.1,1064.5 1623.5,1068.2 1623.9,1072.4 1623.5,1077.0 1624.0,1081.2 1624.0,1085.5 1623.7,1089.6 1623.8,1093.5 1623.3,1097.3 1623.3,1102.0 1623.2,1106.1 1623.5,1109.8 1623.2,1114.4 1623.1,1118.9 1623.6,1122.7 1623.4,1127.0 1623.5,1123.1 1624.0,1118.8 1624.1,1114.3 1623.5,1110.3 1623.4,1106.1 1623.9,1102.2 1623.7,1097.6 1624.4,1094.0 1624.1,1089.8 1623.7,1085.6 1624.6,1080.9 1624.2,1076.5 1624.6,1072.7 1624.1,1068.2 1624.3,1064.4 1624.2,1060.4 1624.4,1056.0 1624.8,1051.5 1625.1,1047.5 1625.2,1043.6 1625.0,1039.1 1625.5,1035.2 1625.0,1031.1 1625.2,1027.1 1625.6,1022.3 1625.4,1017.8 1625.9,1014.4 1625.7,1010.1 1625.7,1005.5 1625.6,1001.2 1626.2,997.6 1626.3,993.0 1626.0,988.7 1625.6,985.1 1625.8,980.3 1626.3,976.9 1625.9,972.1 1626.0,967.8 1626.5,964.5 1626.5,959.8 1627.0,955.3 1626.6,951.5 1627.0,947.2 1626.4,943.3 1626.3,939.7 1626.6,934.9 1626.5,931.3 1627.0,927.3 1626.5,923.1 1626.8,918.7 1627.0,914.2 1626.8,910.6 1626.7,906.1 1626.8,901.9 1627.3,898.3 1627.2,893.7 1627.2,890.0 1627.0,886.3 1627.6,882.0 1627.4,877.7 1627.8,873.2 1627.2,869.9 1627.8,865.3 1627.8,861.8 1627.5,858.0 1627.8,853.5 1627.4,849.5 1627.7,845.6 1627.7,841.6 1628.1,837.4 1627.5,833.8 1627.8,829.4 1628.0,825.2 1627.6,821.4 1627.6,817.8 1628.2,813.9 1628.0,809.6 1628.1,805.5 1627.8,801.4 1628.1,796.9 1627.9,793.5 1628.5,789.3 1628.3,784.9 1628.4,780.9 1628.1,776.2 1628.0,772.4 1628.2,767.9 1628.1,763.9 1628.4,759.9 1628.7,756.1 1628.4,751.6 1628.0,747.6 1628.3,743.2 1628.4,739.1 1627.8,734.7 1627.8,731.1 1627.9,726.9 1628.1,723.1 1628.2,718.1 1628.7,714.3 1628.1,709.8 1628.1,705.9 1628.6,702.4 1628.0,698.2 1628.5,694.1 1628.2,689.7 1628.7,685.7 1628.1,680.9 1628.7,677.2 1628.3,673.4 1628.5,668.9 1628.8,665.0 1628.8,661.1 1628.4,657.5 1628.4,653.4 1628.8,649.5 1628.9,645.5 1629.2,641.3 1629.2,637.1 1629.5,632.7 1629.4,628.9 1629.3,625.5 1629.7,621.3 1629.0,616.9 1629.4,613.0 1629.7,609.7 1629.6,605.4 1629.3,601.7 1629.6,597.5 1630.3,593.4 1629.6,589.2 1629.7,585.0 1630.5,580.7 1630.4,576.3 1630.8,572.7 1630.1,568.0 1630.4,564.1 1630.8,560.0 1630.4,555.8 1630.3,552.6 1631.2,548.6 1630.4,544.5 1630.6,541.0 1630.3,537.6 1630.8,533.7 1631.3,531.4 1631.8,527.9 1632.6,524.6 1633.2,522.0 1633.9,518.7 1634.2,515.6 1634.6,511.4 1634.4,508.1 1634.7,504.5 1634.1,500.4 1634.5,496.7 1635.0,493.2 1635.0,488.9 1634.5,485.6 1634.8,481.5 1635.0,476.9 1634.7,472.8 1634.7,468.9 1634.9,464.7 1635.0,460.9 1635.5,457.2 1635.1,452.9 1635.2,448.6 1635.7,444.5 1635.4,440.6 1635.3,436.1 1635.0,432.2 1635.3,428.3 1635.9,424.1 1635.2,419.9 1635.6,416.0 1635.5,411.8 1635.6,407.5 1635.9,403.0 1635.9,399.4 1636.0,394.8 1636.2,390.8 1636.3,386.7 1636.3,382.9 1636.2,378.9 1636.5,375.2 1636.5,370.7 1636.5,367.1 1636.9,363.1 1637.1,359.0 1637.1,355.2 1638.1,351.2 1638.3,347.7 1638.7,351.2 1638.7,355.8 1639.0,360.2 1639.1,363.7 1639.8,368.1 1639.9,371.6 1640.1,375.3 1640.2,379.6 1640.4,382.9 1641.2,386.6 1640.4,391.0 1641.0,394.1 1641.7,398.1 1641.4,402.1 1641.8,405.8 1641.8,410.0 1642.2,414.4 1641.9,418.9 1642.1,423.0 1641.9,427.0 1642.1,431.1 1642.8,435.1 1642.4,439.4 1642.3,443.2 1642.8,447.5 1642.9,450.8 1643.2,455.0 1643.2,458.8 1643.5,462.7 1644.0,466.3 1644.2,470.0 1644.2,473.5 1644.8,477.0 1645.3,480.7 1646.0,484.3 1646.5,488.9 1646.7,491.8 1647.0,496.4 1647.1,499.7 1647.5,503.0 1648.2,507.2 1648.7,510.4 1649.2,514.0 1649.8,517.8 1650.1,521.2 1650.0,517.7 1650.8,514.7 1651.4,511.6 1651.5,507.2 1651.9,504.2 1652.3,500.3 1652.2,496.0 1652.3,492.3 1652.7,488.2 1653.0,484.8 1653.9,480.7 1653.9,477.0 1654.1,473.1 1654.4,469.2 1654.9,465.1 1655.3,461.0 1654.9,457.5 1655.5,453.3 1655.5,449.5 1656.2,445.2 1656.0,441.5 1656.3,437.4 1656.7,433.9 1657.1,429.4 1657.7,426.2 1657.6,421.7 1658.0,418.0 1658.8,414.4 1658.8,410.5 1659.1,406.5 1658.9,402.6 1659.1,398.8 1659.6,395.3 1660.4,391.5 1660.3,387.8 1660.8,384.4 1660.6,380.4 1661.4,377.1 1662.6,374.3 1663.7,371.5 1664.1,375.3 1664.9,379.4 1664.4,382.8 1665.3,386.2 1667.1,388.5 1668.0,385.8 1669.3,381.7 1670.3,385.2 1670.6,389.6 1671.6,393.0 1672.9,391.8 1673.9,393.0 1674.8,391.1 1676.1,388.5 1676.8,384.8 1677.4,380.5 1677.1,376.6 1678.0,372.6 1678.3,368.7 1678.4,364.4 1679.2,360.4 1679.6,356.7 1680.1,353.0 1681.0,349.7 1681.8,345.4 1682.7,342.0 1683.6,339.7 1684.1,336.3 1684.7,332.4 1685.5,328.8 1687.1,324.7 1687.5,321.6 1687.1,325.4 1687.5,329.3 1688.1,333.6 1688.0,337.1 1688.1,341.2 1688.4,345.4 1688.4,348.8 1688.2,353.4 1689.2,357.1 1689.0,360.3 1688.5,364.4 1689.1,368.1 1690.0,371.5 1689.9,373.5 1690.9,377.1 1691.7,374.0 1693.2,370.3 1694.8,372.6 1694.4,376.5 1694.9,379.7 1695.1,383.7 1695.5,387.8 1694.9,391.4 1695.4,395.3 1695.9,399.0 1696.0,403.2 1695.7,407.6 1696.1,411.2 1696.4,407.6 1697.5,403.7 1697.7,399.8 1697.8,396.7 1698.9,392.8 1699.0,389.4 1699.3,386.2 1699.7,383.3 1700.1,380.2 1701.1,377.1 1702.2,381.1 1702.9,385.1 1704.5,388.5 1706.0,385.9 1707.9,385.1 1709.0,389.1 1710.2,390.8 1711.4,392.7 1712.5,395.3 1713.7,392.1 1714.7,387.4 1715.9,386.2 1716.2,390.1 1715.7,394.2 1715.7,398.6 1715.9,403.2 1715.7,407.1 1715.9,411.2 1716.4,415.6 1716.2,419.8 1716.7,423.5 1716.0,427.4 1716.8,432.1 1716.3,436.1 1716.2,440.5 1716.2,444.2 1716.4,448.2 1716.4,452.7 1716.3,457.2 1715.9,460.8 1715.9,464.7 1716.4,468.9 1716.3,472.7 1716.3,477.0 1716.2,481.3 1716.5,485.6 1716.6,489.9 1716.6,493.9 1716.3,497.6 1716.5,502.0 1716.4,497.7 1716.3,493.4 1716.2,489.2 1716.5,485.5 1716.7,480.8 1716.5,476.4 1717.2,472.6 1717.5,468.4 1717.1,464.2 1716.8,459.7 1717.8,456.2 1717.2,451.7 1717.4,447.5 1717.1,443.4 1717.5,438.9 1718.2,435.4 1717.7,430.6 1718.5,427.0 1717.9,423.3 1717.9,418.2 1718.0,414.8 1718.6,410.0 1718.8,406.1 1718.8,402.1 1720.0,398.5 1720.0,396.2 1721.1,393.0 1722.6,389.4 1723.3,386.2 1723.9,383.3 1724.6,379.7 1724.3,376.0 1724.9,372.6 1726.3,369.5 1728.3,369.2 1730.4,372.2 1731.7,372.6 1732.4,375.9 1732.3,379.7 1732.3,383.6 1732.6,387.1 1732.9,390.8 1733.3,395.0 1733.1,398.3 1733.4,402.3 1733.5,406.9 1733.5,410.6 1734.3,414.4 1734.2,418.0 1734.0,422.1 1734.5,426.5 1734.8,430.5 1735.4,434.9 1735.0,438.7 1735.8,443.8 1735.8,447.5 1736.3,451.9 1736.5,456.1 1737.0,460.3 1736.8,464.4 1737.5,468.5 1737.4,472.5 1738.0,476.6 1738.0,480.4 1738.3,484.6 1738.1,487.8 1738.8,492.1 1739.5,495.9 1739.3,500.1 1739.7,504.2 1739.7,508.3 1739.9,512.0 1740.7,515.6 1740.2,520.1 1740.7,523.5 1741.1,527.2 1741.5,531.4 1741.6,527.0 1742.2,523.6 1742.5,519.8 1742.4,516.1 1742.3,511.6 1742.5,508.5 1743.1,504.2 1743.1,499.8 1743.9,496.6 1744.0,492.9 1744.4,488.5 1744.2,484.2 1744.0,480.7 1744.7,477.0 1745.1,472.6 1745.0,469.1 1745.4,464.8 1745.8,461.4 1745.7,457.3 1746.4,453.7 1745.8,449.1 1746.5,445.2 1747.0,441.6 1747.3,437.6 1747.4,433.7 1747.1,429.4 1747.9,426.3 1748.2,422.1 1748.3,418.0 1748.5,414.0 1749.2,410.4 1748.8,406.8 1749.7,402.5 1749.2,398.9 1749.9,395.3 1750.9,391.9 1752.2,388.5 1752.5,392.1 1753.4,395.6 1753.3,398.7 1753.8,402.1 1753.8,406.0 1754.3,410.2 1754.4,414.6 1754.8,419.2 1754.6,423.3 1755.1,427.1 1755.1,430.9 1755.4,434.6 1756.1,438.5 1756.4,442.7 1756.1,447.0 1756.1,450.3 1756.7,454.3 1756.5,458.1 1757.5,462.2 1757.1,465.3 1758.0,469.8 1757.7,473.2 1758.3,477.0 1759.2,480.7 1759.5,484.0 1759.9,487.4 1760.0,491.5 1760.6,495.1 1761.4,498.4 1762.1,501.9 1762.4,504.2 1762.5,500.2 1762.7,496.9 1763.1,493.3 1764.2,489.9 1764.2,486.1 1764.2,482.1 1765.2,478.0 1765.6,474.0 1766.0,470.2 1767.3,468.8 1768.7,466.8 1770.0,463.6 1771.0,463.4 1772.8,460.5 1773.7,456.6 1774.5,460.0 1776.0,463.4 1776.6,466.1 1776.4,469.4 1777.2,471.7 1777.6,474.8 1778.4,477.7 1778.8,481.2 1779.6,486.5 1779.9,489.8 1780.4,494.2 1781.7,493.0 1782.8,496.7 1783.6,500.1 1784.0,496.6 1785.0,493.6 1785.6,495.0 1787.0,495.5 1787.7,491.5 1788.2,488.8 1788.8,492.3 1790.2,496.0 1791.8,494.7 1792.8,498.2 1792.7,502.7 1793.7,505.5 1794.9,505.7 1795.8,507.4 1796.2,510.9 1796.6,513.8 1797.1,517.0 1797.8,520.4 1799.6,520.4 1800.6,523.1 1800.9,526.7 1801.7,529.1 1803.3,525.4 1804.5,527.4 1804.6,524.7 1805.8,522.3 1806.3,518.9 1807.9,520.3 1808.5,516.7 1809.3,513.4 1809.4,516.4 1810.5,519.4 1811.4,517.1 1812.6,517.5 1813.2,521.7 1813.9,525.7 1815.7,523.9 1816.5,527.5 1816.2,532.1 1817.2,535.7 1818.6,537.6 1818.6,540.7 1819.7,545.1 1819.8,548.6 1821.1,545.7 1822.0,549.6 1822.9,553.4 1824.4,551.5 1824.8,555.0 1825.9,556.9 1827.2,552.1 1827.7,548.8 1829.6,551.2 1830.6,549.4 1830.9,545.9 1832.5,548.9 1833.1,553.5 1834.4,551.0 1835.3,555.5 1836.1,558.7 1835.8,562.4 1835.7,566.9 1836.4,571.2 1836.5,575.4 1836.2,579.6 1836.1,583.6 1836.4,588.0 1836.6,592.8 1836.8,597.0 1836.3,600.4 1836.5,604.8 1837.0,609.4 1836.8,613.5 1837.2,617.8 1837.0,622.1 1836.8,626.2 1837.4,629.9 1836.9,633.8 1837.3,638.2 1837.2,642.7 1836.8,646.6 1837.5,650.2 1836.9,654.3 1837.2,658.8 1836.9,662.6 1837.6,667.6 1837.0,670.9 1837.5,675.3 1837.6,679.6 1838.0,683.6 1838.0,687.3 1838.1,691.4 1838.3,696.1 1837.8,700.4 1838.1,704.2 1838.1,708.8 1838.6,712.3 1838.9,716.4 1838.4,720.7 1839.1,724.8 1839.1,729.3 1839.5,733.7 1839.9,737.2 1840.0,740.7 1840.8,743.4 1841.3,747.3 1843.0,749.3 1844.2,749.6 1844.9,747.1 1846.5,747.3 1846.4,750.9 1846.9,755.6 1847.0,758.8 1846.4,763.0 1846.8,767.2 1846.7,771.6 1846.7,775.4 1847.0,779.0 1847.0,783.0 1846.9,787.0 1847.6,791.3 1847.2,795.0 1847.0,799.5 1847.8,803.1 1847.0,807.1 1847.3,811.9 1847.5,815.2 1848.2,819.5 1847.5,823.9 1848.3,828.0 1847.5,832.1 1848.1,836.3 1848.1,840.4 1848.7,844.4 1848.1,848.3 1848.5,852.3 1848.5,856.6 1848.8,859.7 1848.3,863.9 1848.3,868.0 1848.9,872.6 1848.6,876.3 1849.0,879.7 1848.8,883.6 1849.5,887.5 1848.9,891.8 1849.1,895.8 1849.5,899.8 1850.0,902.5 1851.1,905.1 1851.6,901.3 1851.5,897.2 1850.9,893.0 1851.0,888.6 1851.2,884.3 1851.0,880.2 1851.5,876.3 1851.3,872.2 1851.7,867.2 1851.1,863.2 1851.8,859.2 1851.5,855.2 1852.1,850.6 1851.7,846.5 1852.1,843.0 1851.6,838.7 1852.4,833.9 1852.0,830.0 1852.1,826.3 1852.1,822.1 1852.2,817.7 1852.0,814.0 1852.3,809.3 1851.7,805.3 1852.3,801.2 1852.1,796.6 1852.7,792.4 1852.3,789.0 1852.5,784.6 1852.8,780.7 1852.6,776.8 1852.5,772.6 1852.1,768.0 1852.8,764.2 1852.7,760.2 1852.0,756.2 1852.1,751.9 1852.8,747.5 1852.8,743.0 1852.5,739.7 1852.6,734.8 1852.7,731.5 1852.4,726.9 1852.4,722.3 1852.6,718.1 1852.8,714.3 1852.1,710.0 1852.0,706.4 1852.6,701.5 1852.0,697.4 1852.2,693.2 1852.8,689.2 1852.6,685.7 1852.1,680.6 1852.5,676.9 1852.1,672.3 1852.3,669.0 1852.9,664.4 1852.6,659.7 1852.2,655.7 1852.3,651.6 1852.4,648.1 1852.9,643.3 1852.8,639.6 1852.9,634.7 1852.3,630.9 1853.0,626.8 1852.6,622.9 1852.4,618.8 1853.1,614.3 1852.2,609.7 1853.1,605.9 1852.6,602.2 1852.6,597.6 1852.3,593.4 1852.9,589.6 1853.0,585.8 1852.6,581.1 1852.6,577.0 1853.0,573.6 1853.1,568.8 1852.4,564.8 1853.1,561.1 1853.1,556.7 1852.3,552.7 1852.5,548.7 1853.1,544.5 1853.1,540.7 1852.6,536.6 1853.2,532.1 1852.9,528.6 1852.4,524.6 1852.7,520.4 1853.1,516.0 1852.7,512.5 1852.8,507.8 1852.9,504.3 1852.9,500.0 1852.7,495.8 1853.1,492.6 1852.5,488.6 1852.5,484.7 1853.4,480.4 1853.2,476.9 1852.8,472.4 1852.9,468.5 1853.0,465.0 1852.5,460.5 1852.9,456.9 1852.9,453.0 1853.3,449.3 1854.0,445.4 1854.0,441.0 1853.7,437.2 1854.8,432.7 1854.3,428.6 1855.2,424.0 1855.1,419.8 1855.0,415.5 1855.4,411.5 1856.0,407.7 1855.5,404.4 1856.3,400.4 1856.2,396.9 1855.7,392.8 1856.7,389.0 1856.6,384.7 1856.4,381.7 1856.7,377.5 1857.4,373.4 1856.9,369.8 1857.0,365.1 1857.2,361.1 1857.9,357.1 1858.6,353.0 1858.7,349.9 1859.0,345.7 1860.8,342.3 1860.9,345.9 1861.6,350.1 1861.0,354.0 1861.6,358.3 1862.3,362.3 1862.2,366.1 1862.2,370.0 1862.3,374.2 1862.4,378.0 1862.7,381.2 1862.9,385.9 1863.4,389.9 1863.1,393.4 1863.1,397.2 1863.6,401.2 1862.8,405.4 1863.0,409.2 1863.4,413.5 1863.3,417.5 1864.0,421.6 1863.5,425.8 1864.0,430.5 1863.8,434.2 1863.6,437.9 1863.8,442.3 1864.2,445.1 1863.8,449.9 1863.8,452.7 1864.7,456.8 1864.0,460.6 1864.4,464.8 1864.4,468.3 1864.6,472.7 1864.5,476.8 1864.6,480.2 1865.1,485.0 1864.6,488.7 1865.3,492.9 1864.8,497.0 1865.3,501.2 1865.0,505.8 1865.0,509.6 1865.4,513.6 1865.5,517.0 1865.0,520.9 1866.1,525.4 1865.4,528.6 1866.0,532.4 1865.8,536.3 1866.3,540.2 1867.3,543.4 1867.6,547.7 1869.1,548.2 1870.3,547.7 1870.6,552.1 1870.5,556.3 1870.1,560.5 1870.3,563.7 1870.8,568.4 1870.5,572.5 1870.7,576.6 1870.3,580.8 1871.0,584.3 1870.8,588.5 1870.8,593.1 1870.6,597.0 1870.7,601.5 1871.2,605.1 1870.5,609.4 1871.2,613.2 1870.6,617.5 1871.5,621.6 1871.3,625.3 1871.0,629.8 1871.6,634.0 1871.7,638.5 1871.2,641.7 1871.4,646.2 1871.6,650.9 1871.6,654.9 1871.7,658.8 1871.5,662.5 1871.8,667.0 1872.1,670.8 1871.9,675.3 1872.7,679.4 1872.2,683.6 1872.1,687.6 1873.1,692.1 1872.4,695.6 1872.6,700.4 1873.1,704.2 1872.9,708.3 1873.1,712.1 1873.2,717.0 1873.7,721.0 1873.9,724.8 1874.5,728.6 1873.9,732.6 1873.9,737.5 1874.5,741.6 1874.5,745.1 1874.9,749.6 1875.1,753.3 1875.2,756.7 1875.7,760.4 1876.2,764.1 1876.1,767.8 1876.8,772.0 1877.3,775.1 1877.1,779.1 1877.9,783.5 1878.7,786.9 1879.1,790.7 1879.4,795.0 1879.9,799.5 1879.9,803.4 1879.6,806.9 1879.8,811.3 1880.2,815.2 1880.0,819.6 1880.3,823.9 1880.5,827.9 1880.6,832.1 1881.0,836.2 1880.8,840.4 1880.9,844.7 1881.1,848.4 1880.7,852.0 1881.5,856.5 1881.1,859.9 1881.3,864.0 1881.5,868.3 1881.1,871.7 1881.4,875.6 1881.4,880.2 1881.5,883.8 1882.2,887.7 1882.4,892.1 1881.9,896.0 1882.1,899.8 1881.9,903.6 1882.5,907.7 1882.3,911.5 1882.4,916.0 1882.2,919.4 1882.8,923.4 1882.4,927.4 1883.2,932.1 1882.7,936.1 1882.6,940.2 1882.7,944.0 1883.3,947.3 1883.4,951.3 1883.5,955.7 1883.3,959.6 1883.8,955.7 1883.2,951.3 1883.6,947.5 1883.8,943.4 1883.6,939.6 1884.1,935.9 1883.7,931.3 1883.6,927.8 1883.6,923.2 1883.6,919.8 1883.9,916.2 1883.4,911.9 1883.4,908.1 1883.8,903.6 1884.0,899.8 1884.1,895.6 1884.4,891.7 1884.0,887.3 1884.2,883.5 1883.8,879.4 1883.7,874.7 1884.5,870.8 1884.0,867.4 1883.8,863.0 1884.5,858.7 1883.8,855.0 1883.7,851.0 1883.7,846.5 1884.4,842.5 1883.6,838.5 1884.2,834.1 1883.7,829.9 1883.8,826.4 1883.9,821.6 1884.2,817.7 1884.3,813.7 1884.2,809.0 1884.5,805.6 1883.8,800.8 1884.3,796.9 1884.6,793.1 1884.2,788.5 1884.2,784.4 1884.0,780.3 1884.3,776.4 1884.7,772.4 1884.1,767.9 1884.7,764.5 1884.3,759.7 1884.4,756.2 1884.2,751.6 1884.1,747.6 1884.1,743.3 1884.0,739.7 1884.8,735.6 1884.9,730.7 1884.4,726.9 1884.8,723.3 1884.4,719.1 1884.8,714.7 1884.2,710.2 1884.4,705.8 1884.6,702.6 1885.1,698.0 1885.1,694.1 1884.7,689.3 1885.5,685.3 1885.1,681.5 1885.0,678.1 1885.6,674.0 1885.7,669.7 1885.2,666.5 1885.4,662.2 1885.8,658.7 1885.7,655.2 1886.6,651.5 1886.2,647.5 1886.8,643.9 1886.7,640.4 1886.6,636.5 1887.1,633.1 1887.7,629.6 1888.0,625.9 1888.5,629.3 1888.5,632.5 1889.3,636.5 1889.5,640.4 1889.8,644.4 1889.6,647.5 1890.1,651.7 1890.1,654.8 1889.8,659.1 1890.1,662.6 1890.3,666.3 1890.1,670.1 1890.4,673.7 1890.3,677.8 1890.5,681.5 1890.9,685.3 1890.8,689.3 1891.0,693.5 1891.1,697.9 1890.6,702.2 1891.0,706.1 1891.2,710.8 1890.6,714.6 1890.8,718.5 1890.8,723.0 1890.8,726.9 1891.3,730.8 1890.4,734.7 1891.0,738.9 1890.7,742.6 1891.0,746.6 1891.2,750.9 1891.3,755.4 1890.9,759.3 1890.6,762.9 1891.3,766.7 1890.6,771.4 1890.5,774.8 1891.1,779.1 1890.9,783.1 1890.7,787.4 1891.4,791.2 1891.0,795.0 1890.6,799.5 1891.6,803.7 1891.1,807.7 1891.0,811.6 1891.3,815.5 1891.0,819.7 1891.2,823.6 1891.1,828.1 1891.1,831.9 1891.8,836.2 1891.4,840.4 1891.6,844.2 1891.9,847.7 1892.1,851.6 1891.2,855.8 1891.5,859.1 1891.7,863.2 1891.6,866.5 1891.9,870.2 1892.1,874.4 1892.1,878.1 1892.8,881.6 1892.1,884.8 1892.9,889.3 1892.6,892.8 1892.7,896.5 1893.0,899.8 1893.2,904.0 1893.0,907.6 1893.2,911.2 1892.8,914.8 1893.1,918.4 1892.6,922.4 1892.2,925.8 1892.5,930.0 1892.4,926.0 1892.2,922.1 1892.6,918.0 1892.4,913.5 1893.2,908.9 1892.9,904.7 1892.7,901.3 1893.1,897.1 1892.9,892.2 1893.2,888.6 1893.8,884.4 1893.6,880.0 1893.6,884.1 1893.9,888.6 1894.1,892.1 1894.3,896.6 1894.4,900.8 1894.5,904.6 1894.2,908.6 1893.9,912.2 1894.5,917.0 1894.0,921.1 1894.4,924.9 1894.6,928.9 1894.5,932.9 1894.9,936.5 1895.0,940.9 1894.8,945.0 1895.4,941.4 1895.2,936.8 1894.9,932.7 1895.3,928.2 1895.2,924.4 1894.9,920.1 1894.9,916.9 1895.7,912.4 1895.2,908.4 1895.3,904.5 1896.0,900.6 1895.9,895.7 1895.5,892.5 1895.7,888.2 1896.0,884.0 1896.3,887.8 1896.3,892.4 1896.1,896.3 1896.4,900.1 1896.9,904.4 1896.9,908.1 1896.2,912.3 1896.9,915.5 1896.8,920.2 1897.0,923.6 1896.5,928.0 1897.2,931.7 1897.0,936.4 1897.2,940.0 1897.4,936.1 1897.3,932.0 1897.9,928.4 1897.8,924.1 1897.5,920.4 1897.4,916.0 1897.8,912.3 1898.1,908.5 1898.4,904.4 1898.6,900.0 1898.2,895.5 1898.2,891.6 1898.4,888.0 1898.6,892.6 1898.3,896.8 1898.9,900.0 1898.3,904.2 1898.7,909.1 1898.9,913.3 1898.7,917.2 1898.2,921.0 1898.6,925.4 1899.2,929.4 1899.1,934.1 1898.8,938.1 1899.1,942.5 1899.1,946.6 1899.0,950.9 1899.2,954.3 1899.0,959.2 1899.4,962.7 1899.1,967.1 1898.8,970.9 1899.2,975.2 1898.9,980.2 1899.1,983.5 1899.0,987.8 1899.2,992.6 1899.5,996.2 1899.4,1000.6 1899.5,1004.6 1899.7,1009.1 1899.2,1012.9 1899.9,1017.5 1899.3,1021.0 1899.8,1025.5 1899.3,1029.9 1899.4,1033.9 1899.9,1038.0 1900.2,1042.3 1900.0,1046.6 1900.1,1050.9 1899.6,1054.4 1900.2,1059.3 1899.9,1063.2 1899.8,1067.5 1900.4,1071.4 1900.6,1075.3 1899.8,1079.5 1900.3,1084.1 1900.2,1087.9 1900.5,1092.2 1900.3,1096.7 1900.1,1100.4 1900.5,1104.8 1901.0,1100.4 1901.0,1095.9 1900.5,1092.1 1900.9,1088.3 1900.9,1084.2 1900.4,1079.1 1900.6,1075.6 1900.3,1070.7 1900.4,1066.7 1900.5,1062.3 1900.8,1058.1 1901.2,1054.7 1900.7,1049.8 1900.8,1045.9 1901.2,1041.4 1900.9,1037.3 1901.0,1033.7 1901.0,1028.6 1900.8,1024.4 1901.2,1020.7 1900.8,1016.9 1901.2,1012.6 1900.8,1007.8 1901.7,1003.5 1901.3,1000.1 1901.6,995.1 1901.0,990.7 1901.4,986.6 1901.4,982.7 1901.9,978.5 1901.2,974.9 1901.8,970.5 1901.8,965.5 1901.6,961.4 1901.7,958.0 1901.9,953.2 1902.1,949.2 1901.8,945.2 1901.5,940.8 1901.6,937.0 1902.1,932.2 1901.9,928.0 1901.8,923.7 1901.6,920.1 1901.6,915.5 1902.4,911.7 1901.6,907.0 1902.3,902.4 1902.5,899.1 1901.6,894.5 1902.1,890.5 1902.2,886.0 1902.7,890.3 1902.2,894.4 1902.5,898.0 1902.8,902.0 1903.0,905.8 1902.7,910.1 1902.5,913.7 1902.7,918.3 1902.6,921.5 1903.6,926.5 1903.1,930.1 1903.0,934.4 1903.5,938.4 1903.4,942.0 1903.8,937.9 1903.1,933.3 1903.7,930.0 1904.2,925.0 1903.7,921.2 1903.7,916.7 1903.8,913.0 1904.0,908.9 1903.7,905.1 1904.2,900.2 1904.7,896.8 1904.2,891.9 1904.9,888.4 1904.6,884.0 1904.2,887.7 1904.6,892.6 1905.0,896.1 1904.6,901.0 1905.5,905.0 1904.8,909.1 1905.1,912.9 1905.2,916.8 1904.9,920.9 1906.0,925.1 1905.3,929.8 1905.3,934.2 1905.8,938.0 1906.1,933.9 1906.0,929.8 1905.6,926.4 1905.9,922.4 1906.7,918.2 1905.9,914.4 1906.3,910.1 1906.5,905.7 1906.4,901.9 1906.3,898.0 1906.9,894.2 1906.6,890.2 1906.5,885.7 1907.0,882.0 1906.9,885.9 1907.6,889.8 1907.1,894.6 1907.0,898.2 1907.1,902.4 1907.1,906.7 1907.9,910.3 1907.5,914.5 1907.7,918.8 1907.7,922.6 1908.1,927.1 1908.4,931.3 1908.2,935.0 1908.7,930.8 1908.6,927.2 1908.8,923.7 1908.7,919.2 1909.1,915.0 1909.0,911.9 1908.8,907.1 1908.6,904.0 1909.3,900.2 1908.7,895.7 1909.0,891.8 1909.2,888.0 1909.2,891.9 1909.0,896.7 1909.0,901.0 1909.2,904.8 1909.4,909.3 1910.1,913.3 1910.2,917.5 1910.1,921.9 1909.8,925.8 1910.1,930.3 1910.2,934.2 1910.0,937.9 1910.5,942.1 1910.3,946.4 1910.9,951.0 1910.5,955.0 1910.1,950.9 1910.5,946.7 1910.9,942.9 1911.0,938.8 1911.3,934.6 1911.0,930.3 1911.3,926.5 1910.9,922.1 1911.4,918.9 1911.1,914.1 1911.2,910.4 1911.2,906.0 1911.0,902.1 1912.0,897.8 1911.2,893.6 1911.6,890.0 1912.2,893.4 1911.5,897.4 1912.0,901.3 1912.5,905.2 1912.5,909.7 1912.7,913.5 1912.5,916.9 1912.0,920.7 1912.6,925.0 1913.1,921.2 1912.3,917.0 1913.2,912.5 1913.3,908.4 1913.3,904.6 1913.2,900.6 1913.7,896.2 1913.2,892.3 1913.4,888.2 1913.4,884.0 1913.2,888.1 1913.0,891.0 1913.3,887.1 1914.0,882.7 1914.1,878.8 1914.7,875.1 1915.7,878.7 1915.9,881.3 1916.3,877.3 1916.3,874.8 1917.1,870.0 1917.7,867.0 1918.4,870.2 1919.5,872.2 1919.7,875.6 1920.5,872.3 1921.1,868.7 1921.9,872.1 1923.3,876.7 1923.3,873.0 1923.6,868.6 1924.4,864.7 1924.8,860.6 1924.8,856.1 1925.4,852.3 1926.2,854.9 1926.6,858.1 1927.4,855.2 1928.1,851.8 1928.3,849.0 1929.0,853.0 1929.7,857.3 1930.5,861.5 1931.4,857.5 1931.4,853.2 1931.8,849.1 1932.0,853.7 1932.7,857.5 1933.2,861.3 1933.6,856.9 1934.2,853.3 1934.3,849.3 1934.0,844.6 1934.8,840.9 1936.1,844.9 1936.4,841.3 1936.2,837.2 1937.1,833.7 1937.3,829.3 1937.0,825.7 1937.4,821.6 1938.0,817.7 1938.7,814.2 1938.4,809.6 1938.6,806.4 1938.9,802.1 1939.8,799.1 1939.6,795.0 1939.5,790.8 1940.0,787.0 1940.5,783.4 1940.4,780.1 1940.5,776.3 1941.0,772.8 1941.1,768.8 1940.8,764.9 1941.1,760.9 1941.2,757.3 1941.7,753.9 1941.9,749.9 1941.9,746.1 1942.5,741.9 1942.1,738.1 1942.7,734.2 1942.6,730.4 1943.0,726.9 1943.0,723.0 1943.8,719.1 1944.3,715.7 1944.7,712.0 1945.0,707.4 1945.2,704.2 1945.5,700.7 1945.7,696.4 1946.4,693.4 1946.7,689.3 1946.6,685.4 1947.5,681.5 1948.0,677.6 1947.8,673.9 1948.3,670.0 1948.7,666.2 1949.4,662.4 1949.8,658.8 1950.4,654.9 1951.5,651.7 1952.2,648.3 1952.5,644.1 1953.1,648.5 1952.8,652.5 1952.8,656.6 1953.4,660.7 1954.1,664.5 1953.7,669.2 1954.0,672.4 1954.3,677.0 1954.9,681.1 1955.1,684.6 1954.8,689.1 1955.1,692.9 1955.5,696.8 1955.4,700.2 1955.4,704.2 1955.4,708.2 1955.3,712.8 1956.0,716.5 1955.3,720.7 1955.8,725.2 1955.8,729.4 1956.2,733.3 1956.2,737.5 1955.8,741.7 1956.4,745.7 1956.1,749.6 1955.9,754.0 1956.1,757.9 1956.5,761.6 1956.6,765.8 1956.4,770.4 1956.1,774.2 1956.9,778.3 1956.7,782.1 1957.1,786.9 1957.1,791.1 1957.0,795.0 1957.3,799.2 1957.3,803.3 1956.9,807.2 1957.7,811.4 1957.6,815.3 1957.3,819.4 1957.9,824.1 1957.4,827.9 1958.1,832.3 1958.0,835.9 1957.9,840.4 1958.3,844.5 1958.6,848.3 1958.2,852.3 1958.3,856.5 1958.9,861.2 1958.5,864.6 1958.4,868.7 1959.3,872.9 1958.9,876.9 1959.3,881.2 1959.8,877.5 1959.7,873.1 1959.2,868.5 1959.8,864.2 1959.9,860.7 1959.7,856.3 1959.5,852.5 1959.5,848.3 1959.4,844.3 1959.8,839.9 1960.0,835.5 1960.0,831.3 1960.3,827.5 1960.5,823.6 1960.5,819.5 1959.8,815.4 1960.2,810.9 1960.2,814.5 1960.8,819.4 1960.1,823.3 1960.5,827.1 1960.5,830.9 1960.3,834.9 1960.6,839.1 1960.4,842.8 1960.8,846.7 1961.3,851.0 1960.6,855.0 1961.1,858.6 1961.4,863.3 1961.3,866.7 1961.5,870.7 1961.2,875.2 1961.3,878.9 1961.5,874.6 1961.9,871.0 1961.3,867.1 1961.8,862.7 1961.8,858.4 1961.2,854.3 1961.8,850.6 1962.3,846.3 1962.3,842.8 1961.7,838.3 1962.0,834.1 1962.0,830.5 1961.9,826.5 1962.2,822.1 1962.2,818.3 1962.0,814.0 1962.3,810.4 1962.5,806.3 1962.3,810.8 1962.5,814.5 1962.5,818.8 1963.2,822.3 1962.9,826.6 1962.8,830.4 1963.2,834.7 1962.6,839.3 1962.8,842.5 1963.1,846.9 1963.6,850.9 1963.4,854.6 1962.9,859.1 1962.8,863.5 1963.2,866.9 1963.2,871.3 1963.4,874.9 1963.9,879.1 1963.6,883.5 1964.1,879.4 1963.6,875.2 1963.9,871.5 1964.2,866.7 1963.6,862.8 1963.6,858.5 1963.8,854.7 1964.5,851.3 1963.8,846.5 1964.5,842.7 1964.6,838.6 1964.0,834.3 1964.5,830.1 1964.2,826.6 1964.6,822.1 1964.9,817.8 1964.7,814.3 1965.3,818.4 1964.6,822.3 1965.1,826.4 1964.9,831.2 1965.3,834.7 1964.9,839.6 1965.1,843.6 1965.4,848.2 1965.8,851.8 1965.3,856.4 1965.3,860.5 1965.6,864.4 1965.6,868.8 1965.4,872.6 1966.2,877.2 1965.9,881.2 1966.3,877.3 1965.8,873.4 1966.0,869.0 1966.3,865.8 1966.4,861.4 1966.6,857.4 1966.4,853.1 1965.9,849.0 1966.2,845.1 1966.6,841.9 1966.6,837.4 1966.2,834.0 1966.4,829.8 1966.6,825.2 1966.7,822.0 1966.8,817.7 1966.9,813.4 1966.4,809.9 1966.7,805.8 1967.0,801.3 1967.3,797.3 1967.0,793.8 1967.5,789.7 1967.0,785.5 1967.4,781.2 1966.8,777.9 1967.4,773.3 1967.7,770.0 1967.7,765.4 1967.2,761.1 1967.6,757.3 1967.2,754.0 1967.5,749.6 1967.2,745.1 1967.5,741.9 1967.8,737.2 1967.7,733.1 1967.6,729.4 1967.3,725.2 1968.0,721.3 1967.8,717.6 1967.5,713.7 1967.6,709.7 1967.6,705.3 1968.2,701.9 1967.6,697.4 1968.0,693.8 1968.0,689.2 1968.4,686.0 1968.1,681.5 1968.0,678.0 1968.6,673.8 1968.4,669.1 1969.3,665.7 1969.3,661.0 1969.2,656.8 1969.6,653.6 1969.8,648.8 1969.7,645.2 1970.4,641.2 1970.2,637.5 1971.1,633.4 1970.7,629.4 1971.5,625.9 1971.6,629.6 1971.8,634.3 1972.1,638.6 1972.4,642.2 1972.1,646.0 1972.5,650.3 1972.9,654.3 1972.9,658.0 1972.7,661.6 1972.9,665.5 1972.9,669.8 1973.6,674.1 1973.2,677.7 1973.4,681.0 1973.6,685.0 1974.1,688.9 1974.0,692.9 1974.5,696.8 1973.8,701.0 1974.3,704.6 1974.7,709.6 1974.1,712.9 1974.6,717.0 1974.6,720.8 1974.3,725.5 1974.3,729.5 1975.2,733.9 1974.8,736.9 1974.7,741.9 1975.1,745.1 1975.2,749.6 1975.1,753.9 1975.4,758.1 1975.3,762.4 1975.5,766.5 1976.1,770.3 1975.4,774.7 1975.8,778.5 1976.0,782.8 1975.8,786.9 1976.2,790.4 1976.3,795.0 1976.3,799.4 1976.2,802.8 1976.4,807.9 1976.8,811.1 1976.6,815.3 1977.3,819.4 1976.8,823.5 1977.5,828.0 1977.4,832.3 1977.4,835.7 1977.4,840.4 1977.7,844.7 1977.3,847.5 1978.2,851.5 1977.5,855.6 1978.3,858.8 1978.5,863.2 1978.8,866.8 1978.9,870.5 1978.6,874.4 1978.8,870.8 1978.6,866.3 1978.9,862.0 1978.7,857.8 1979.3,854.0 1978.4,850.1 1979.0,846.3 1978.7,842.1 1979.3,837.4 1979.2,834.1 1979.7,829.2 1979.0,825.5 1979.3,821.4 1979.1,817.6 1979.6,813.6 1979.7,809.0 1979.5,805.2 1979.6,809.0 1979.4,813.5 1979.5,818.2 1979.4,822.0 1980.1,826.5 1979.6,830.2 1979.9,834.5 1979.4,838.8 1979.9,842.8 1980.5,847.4 1979.8,851.9 1980.3,855.8 1980.5,859.4 1980.1,864.3 1979.9,868.0 1980.7,872.7 1980.4,876.7 1980.8,872.2 1980.4,868.6 1980.1,864.1 1980.4,859.7 1981.0,856.1 1980.6,851.4 1981.0,848.1 1981.2,843.4 1981.4,839.6 1981.4,834.7 1980.9,831.0 1980.8,826.3 1980.8,822.6 1981.1,818.7 1981.4,814.4 1981.9,810.2 1981.6,806.3 1981.5,801.8 1981.1,805.7 1982.1,810.1 1981.9,813.8 1982.1,818.0 1981.3,822.4 1981.5,825.9 1982.1,830.0 1981.6,833.6 1981.9,838.1 1981.9,842.5 1981.7,845.7 1982.4,850.0 1982.0,854.6 1982.2,858.2 1982.4,862.8 1982.7,865.9 1982.5,870.3 1982.7,874.4 1982.9,869.9 1982.5,866.3 1982.5,862.3 1982.5,858.0 1983.5,854.2 1983.0,850.0 1983.2,845.7 1983.5,842.1 1982.9,837.5 1983.8,833.4 1983.4,829.1 1983.7,825.4 1983.5,821.3 1983.6,817.3 1983.8,813.1 1983.9,817.4 1984.1,822.0 1983.7,825.8 1983.8,829.6 1983.8,833.9 1984.2,838.9 1984.5,842.2 1983.9,847.0 1984.6,851.2 1984.9,855.7 1985.0,859.6 1984.7,864.2 1984.4,868.0 1984.7,872.1 1984.8,868.3 1984.4,863.8 1984.7,859.5 1984.4,855.6 1985.0,851.4 1984.7,847.4 1985.6,843.4 1984.8,839.3 1985.0,834.6 1985.7,830.6 1985.4,826.4 1985.4,822.2 1985.8,826.4 1985.7,829.8 1985.2,834.2 1986.1,838.4 1985.6,842.5 1986.3,846.0 1985.7,850.3 1986.3,854.3 1986.3,857.7 1986.5,862.2 1986.2,865.9 1985.8,869.7 1986.5,873.7 1986.4,877.6 1986.9,882.2 1986.5,885.7 1986.2,882.2 1986.2,878.3 1986.5,874.1 1986.4,870.2 1986.7,866.1 1986.3,862.1 1986.9,857.7 1987.1,853.6 1986.6,849.8 1987.4,845.9 1987.2,841.4 1986.5,837.4 1987.5,833.3 1986.8,829.2 1987.1,825.7 1987.5,821.6 1987.2,817.7 1987.7,813.2 1986.8,809.8 1987.5,805.4 1987.1,801.0 1987.2,797.0 1986.9,793.3 1987.4,788.5 1987.4,784.4 1987.0,780.5 1987.1,776.7 1987.5,772.4 1987.3,768.2 1987.8,763.8 1988.1,760.3 1987.6,755.3 1987.3,751.3 1987.4,747.3 1987.9,743.1 1987.6,739.8 1987.8,735.0 1988.1,730.8 1987.9,726.9 1988.5,723.2 1987.7,719.2 1988.2,714.9 1988.7,711.0 1988.7,706.5 1988.3,702.8 1988.8,698.7 1988.4,694.6 1988.6,690.4 1989.2,686.0 1988.7,682.3 1989.0,678.0 1989.1,674.1 1989.2,670.2 1989.3,665.7 1989.4,661.7 1990.1,657.6 1990.4,653.5 1990.6,649.3 1989.9,645.8 1990.9,641.4 1991.0,636.9 1991.2,633.4 1991.1,629.3 1991.1,624.8 1990.9,628.5 1991.1,632.1 1992.1,635.6 1992.1,640.5 1992.1,643.8 1991.9,647.4 1992.1,651.4 1992.9,655.5 1992.6,658.8 1992.5,662.8 1992.8,667.1 1993.4,670.9 1993.4,674.9 1993.3,679.6 1993.6,683.7 1993.8,687.2 1993.3,692.3 1993.6,696.4 1993.6,700.0 1994.0,704.2 1994.0,708.6 1994.0,712.0 1994.3,716.1 1994.7,720.4 1994.1,724.9 1994.5,729.0 1995.2,733.5 1994.9,737.4 1995.2,741.7 1995.4,745.5 1995.1,749.6 1995.0,753.5 1995.0,757.7 1995.4,760.8 1995.3,765.0 1996.2,768.8 1995.7,773.2 1996.4,776.6 1996.5,780.4 1996.9,784.2 1996.5,788.2 1996.3,792.3 1996.3,796.3 1996.8,800.3 1996.8,803.7 1997.1,807.9 1996.5,812.6 1997.5,815.9 1997.2,820.2 1996.9,824.0 1997.0,827.8 1997.3,831.9 1997.6,836.2 1997.4,840.4 1997.3,836.3 1997.7,832.4 1997.4,828.7 1997.7,824.5 1997.8,820.1 1998.2,816.7 1997.6,812.3 1997.9,808.1 1997.6,804.2 1997.7,799.8 1998.2,796.4 1998.2,791.8 1998.3,788.2 1998.4,792.3 1998.6,797.0 1998.4,801.3 1998.5,804.8 1998.4,809.0 1998.9,813.6 1999.3,817.4 1998.8,822.1 1998.9,826.3 1999.2,830.5 1998.9,834.7 1999.2,838.6 1999.4,843.0 1999.4,846.7 1999.2,851.5 1998.9,855.2 1999.5,859.6 1999.4,863.5 1999.7,867.8 1999.7,872.1 1999.5,867.9 1999.7,863.8 2000.0,859.3 2000.3,855.2 1999.5,851.5 1999.9,847.8 2000.1,842.9 1999.6,839.2 2000.4,834.6 1999.7,830.8 2000.6,826.6 2000.0,823.0 2000.5,818.9 2000.2,814.7 2000.7,810.7 2000.4,806.5 2000.2,802.3 2000.2,797.9 2000.6,793.9 2001.0,798.2 2000.5,801.8 2000.7,805.4 2000.5,810.0 2001.0,814.3 2001.2,818.2 2000.8,822.3 2001.3,826.6 2001.2,830.5 2001.4,834.2 2000.9,837.9 2001.7,841.9 2000.9,845.7 2001.4,850.2 2001.8,854.4 2001.4,857.9 2001.5,862.3 2001.5,866.6 2001.4,870.6 2001.7,874.4 2002.0,870.0 2001.6,866.5 2001.9,861.9 2002.3,857.5 2002.2,853.5 2001.8,849.5 2002.3,845.4 2001.8,840.8 2002.3,836.8 2002.2,832.8 2002.7,828.7 2001.8,824.1 2002.8,820.0 2002.6,815.4 2002.7,812.2 2002.6,807.1 2002.3,803.3 2002.2,799.4 2002.6,795.0 2002.3,798.8 2002.6,802.7 2002.3,807.3 2003.3,811.7 2003.0,815.1 2002.8,819.3 2002.6,823.4 2002.7,827.4 2003.0,831.5 2003.2,835.5 2003.1,840.0 2003.8,843.6 2003.7,848.0 2003.9,852.3 2003.9,855.7 2003.9,860.1 2003.7,863.8 2003.9,868.3 2003.8,872.1 2004.2,868.1 2003.7,864.4 2004.2,860.1 2004.4,855.8 2004.3,851.6 2003.6,847.7 2004.2,843.5 2004.0,839.8 2004.6,835.9 2004.8,832.2 2004.2,828.0 2004.2,823.2 2004.1,819.6 2004.6,815.9 2004.4,812.0 2004.8,807.3 2004.6,803.2 2004.7,799.5 2005.1,803.6 2004.5,807.2 2004.6,812.0 2005.1,815.9 2005.4,820.0 2005.5,823.8 2005.3,828.0 2005.2,831.9 2005.0,836.0 2005.4,839.8 2005.4,843.9 2005.7,848.2 2005.7,851.9 2005.8,856.3 2005.4,860.2 2005.9,864.8 2005.8,868.8 2005.5,872.6 2006.0,876.7 2006.1,872.7 2006.2,868.9 2006.7,864.8 2006.7,859.9 2006.2,855.8 2006.2,852.2 2006.3,847.6 2006.3,844.3 2006.0,839.7 2006.9,835.7 2006.6,832.0 2006.8,827.7 2006.4,823.7 2006.7,819.6 2006.3,815.8 2006.7,811.8 2007.0,807.4 2006.4,803.3 2007.0,798.8 2006.9,795.0 2007.4,790.9 2006.9,786.5 2007.0,782.5 2006.9,779.1 2007.0,774.6 2007.6,770.6 2007.2,767.2 2007.7,762.5 2007.0,758.5 2007.7,754.7 2007.5,750.5 2007.3,746.7 2008.0,743.4 2008.1,739.4 2007.6,735.4 2007.9,730.6 2007.9,726.9 2007.8,723.0 2007.8,719.2 2008.2,714.9 2008.0,710.8 2008.3,706.4 2008.2,702.5 2008.6,698.2 2008.7,694.2 2008.5,690.2 2009.2,686.1 2008.7,682.1 2008.5,678.5 2008.8,674.5 2009.0,670.2 2009.0,666.1 2009.0,662.7 2009.5,659.0 2009.8,655.4 2010.0,650.8 2010.3,647.4 2010.5,644.1 2010.0,640.0 2010.3,636.1 2010.4,632.6 2011.5,629.0 2011.0,624.8 2011.4,621.4 2012.2,618.0 2012.6,622.3 2012.8,626.9 2012.7,630.9 2013.3,635.3 2013.5,638.7 2013.3,643.8 2013.5,647.5 2013.1,651.9 2013.6,655.5 2013.5,659.4 2014.4,663.8 2014.1,668.2 2014.4,671.8 2014.3,675.9 2013.9,680.7 2014.8,684.3 2014.7,688.5 2014.7,692.9 2015.0,696.8 2014.9,701.4 2014.6,705.0 2014.7,709.0 2014.8,713.5 2015.2,718.1 2014.9,721.6 2014.9,725.5 2015.2,729.6 2015.9,733.9 2015.6,738.3 2015.7,742.4 2015.3,746.8 2016.3,750.1 2016.2,754.6 2016.3,758.6 2016.3,762.3 2016.5,766.9 2016.2,771.0 2015.9,775.0 2016.2,778.5 2016.0,783.1 2016.6,786.8 2016.2,791.4 2016.7,795.0 2016.4,799.4 2016.6,803.0 2017.4,807.7 2017.0,811.6 2016.9,815.8 2017.3,819.9 2016.6,823.8 2016.9,827.8 2016.9,831.7 2017.5,835.9 2017.4,840.4 2017.0,836.5 2017.6,831.9 2017.4,828.3 2017.9,823.8 2017.1,820.2 2017.5,816.4 2017.2,811.8 2017.5,808.2 2017.5,804.3 2018.1,799.6 2018.1,796.4 2018.2,791.8 2017.4,788.2 2017.6,784.0 2017.6,779.8 2017.5,775.3 2018.4,771.7 2018.1,767.8 2017.9,771.5 2018.6,775.9 2017.7,780.3 2017.9,784.7 2018.0,788.6 2018.2,792.6 2017.8,796.2 2018.8,800.5 2018.8,805.0 2018.4,809.1 2018.0,813.0 2018.9,816.7 2018.9,821.7 2018.9,825.9 2018.1,829.6 2018.9,833.7 2018.7,837.7 2018.6,841.8 2018.5,846.0 2018.7,850.4 2018.3,853.7 2018.3,858.6 2018.9,862.9 2018.7,866.3 2019.2,870.5 2018.5,874.6 2019.0,878.9 2019.1,875.2 2018.7,870.4 2019.6,866.4 2018.8,862.9 2019.6,858.3 2019.6,855.0 2019.4,850.3 2019.5,846.6 2020.0,842.6 2019.8,838.1 2019.5,833.5 2019.9,830.0 2019.5,825.6 2019.7,821.8 2019.9,817.7 2020.4,813.3 2020.4,809.9 2020.5,804.8 2019.8,801.3 2020.3,797.5 2020.2,793.1 2019.8,788.9 2020.1,784.5 2020.9,780.1 2020.2,776.5 2020.6,772.3 2020.9,768.7 2020.5,764.6 2020.9,759.8 2021.0,755.8 2021.0,751.8 2021.4,747.9 2021.5,743.9 2021.1,747.7 2022.0,751.7 2021.7,755.6 2022.4,760.5 2022.0,763.7 2022.9,768.6 2022.6,772.3 2023.1,776.1 2023.0,780.3 2022.8,785.1 2022.6,788.8 2022.9,792.7 2023.0,797.1 2022.6,801.6 2023.1,805.5 2022.4,810.2 2023.2,814.2 2022.9,818.3 2023.1,822.2 2022.9,826.1 2023.1,830.8 2023.4,835.1 2022.9,839.4 2023.2,842.8 2023.2,847.4 2022.7,851.5 2023.2,856.0 2023.5,859.8 2023.3,863.7 2023.0,867.8 2023.3,872.1 2023.3,868.2 2023.8,864.1 2023.2,859.8 2023.5,855.0 2023.5,851.5 2023.7,846.7 2023.6,843.0 2023.9,838.3 2023.5,834.4 2023.8,829.8 2024.1,825.6 2023.4,822.0 2023.4,817.4 2023.6,813.6 2023.5,808.7 2024.1,804.4 2023.8,800.0 2024.0,796.3 2024.1,792.4 2024.6,787.4 2024.2,783.6 2024.6,787.7 2024.7,792.2 2024.1,795.6 2024.5,799.5 2024.9,803.8 2024.1,807.6 2024.0,811.6 2024.7,816.2 2025.0,820.2 2024.9,824.1 2024.4,828.3 2024.2,832.5 2024.3,835.8 2025.1,840.2 2024.3,844.2 2024.7,848.7 2024.9,852.9 2024.9,856.3 2024.9,860.4 2025.2,864.2 2024.5,868.1 2025.0,872.4 2025.1,876.7 2025.6,873.0 2025.1,868.1 2025.0,864.9 2025.6,860.5 2025.5,856.1 2025.0,851.9 2025.9,847.9 2025.4,844.4 2025.7,839.8 2025.1,835.6 2025.1,832.0 2025.5,827.7 2025.2,823.6 2026.0,819.4 2026.0,815.4 2025.8,811.6 2025.5,807.7 2025.8,803.1 2026.0,799.5 2026.5,803.4 2026.2,807.7 2026.4,812.4 2025.9,816.8 2026.0,820.4 2026.0,824.8 2026.6,829.3 2026.2,833.3 2026.2,837.1 2026.1,841.8 2026.5,845.7 2026.3,850.3 2026.8,854.4 2026.9,858.0 2026.7,862.9 2026.8,866.3 2027.0,871.2 2026.4,875.0 2026.6,878.9 2026.9,883.5 2028.0,881.2 2028.0,877.0 2028.5,872.9 2028.4,869.5 2028.1,864.9 2028.2,861.1 2028.1,857.3 2028.2,853.0 2028.7,849.4 2028.7,845.9 2028.6,841.7 2028.1,837.4 2028.7,834.0 2028.8,829.7 2028.6,825.3 2029.1,821.7 2028.7,817.7 2028.7,813.5 2029.0,809.3 2028.6,805.5 2028.9,801.5 2029.1,797.6 2028.8,793.7 2028.9,789.9 2029.5,785.4 2029.1,781.5 2029.5,778.0 2029.0,773.8 2028.8,770.1 2028.9,765.6 2029.2,761.7 2029.5,758.1 2028.9,753.6 2029.4,749.6 2029.2,746.1 2029.2,741.8 2029.1,737.4 2029.3,733.4 2029.3,729.8 2030.2,725.3 2029.8,722.0 2030.0,717.4 2030.2,713.4 2030.0,709.7 2029.8,706.0 2030.0,701.7 2030.1,697.8 2030.1,693.1 2030.5,689.9 2030.9,685.4 2030.5,681.5 2030.5,676.9 2030.8,673.6 2030.4,669.7 2031.3,664.7 2031.0,661.4 2031.8,656.7 2031.3,653.1 2031.4,648.9 2032.1,644.2 2031.7,640.3 2031.9,636.1 2032.2,632.4 2032.2,629.2 2033.3,625.3 2033.1,621.2 2033.7,618.0 2033.8,622.4 2033.7,625.9 2034.0,630.3 2034.6,634.3 2034.2,638.1 2034.2,642.0 2035.2,646.0 2035.2,650.2 2035.1,654.3 2035.1,657.8 2034.9,661.9 2035.7,666.2 2035.3,669.6 2036.0,673.1 2035.2,677.3 2036.0,681.4 2035.4,685.1 2036.4,689.0 2036.0,692.9 2035.5,696.9 2036.3,701.0 2035.9,704.6 2036.1,709.3 2036.6,712.9 2036.0,717.0 2035.8,720.9 2036.4,725.1 2036.7,729.2 2035.9,733.6 2036.2,737.1 2036.8,741.6 2036.5,745.9 2036.4,749.6 2036.3,753.3 2036.1,757.9 2036.9,761.4 2036.3,766.2 2036.6,770.1 2036.7,774.3 2036.8,777.8 2037.2,781.7 2036.9,785.8 2036.8,790.2 2037.2,794.2 2037.2,798.6 2036.6,802.5 2036.9,806.3 2037.4,810.3 2037.5,814.2 2037.1,817.9 2036.7,822.1 2037.4,826.3 2037.3,830.1 2037.4,834.2 2036.9,838.0 2037.2,842.0 2037.3,846.0 2037.4,841.5 2037.4,837.7 2037.5,834.1 2037.1,829.3 2037.9,825.0 2037.5,820.9 2037.8,817.2 2037.8,813.2 2037.5,809.0 2038.2,804.5 2038.2,800.0 2037.9,795.6 2038.5,791.7 2038.6,787.3 2038.3,783.6 2038.8,787.3 2038.8,791.9 2038.4,796.3 2038.6,799.3 2038.2,804.0 2038.2,808.3 2038.5,811.5 2038.9,816.0 2039.1,820.4 2038.9,824.6 2038.8,827.8 2038.8,831.7 2039.1,836.4 2039.2,840.4 2039.3,836.7 2039.6,832.7 2039.5,828.6 2039.9,823.9 2039.4,820.7 2039.8,816.3 2039.3,812.4 2039.5,807.9 2039.5,804.8 2040.2,800.0 2040.2,796.3 2039.9,792.0 2040.4,788.7 2040.1,784.3 2039.9,780.2 2040.3,776.6 2040.7,772.0 2040.3,768.8 2040.5,764.4 2040.2,768.1 2040.6,772.4 2040.9,777.3 2040.3,781.2 2041.2,785.7 2040.8,790.1 2041.1,794.1 2041.0,798.0 2041.2,801.7 2041.5,806.0 2040.8,810.1 2041.5,814.4 2040.8,818.6 2041.8,823.1 2041.7,827.9 2040.9,831.2 2041.4,835.8 2041.8,832.1 2041.6,828.1 2041.9,823.6 2041.5,819.7 2041.5,816.0 2041.9,812.3 2042.3,808.0 2041.6,803.4 2042.5,799.5 2042.3,795.8 2042.0,791.4 2041.9,787.7 2042.3,783.6 2042.8,787.9 2042.7,792.4 2042.6,795.8 2042.4,799.9 2042.6,804.1 2042.5,808.4 2042.5,812.4 2042.8,817.5 2042.8,821.2 2042.5,825.2 2043.1,829.1 2043.0,834.3 2043.6,838.4 2043.1,842.3 2042.9,846.5 2042.9,850.2 2043.7,854.9 2043.9,859.4 2043.5,863.1 2043.6,858.9 2043.5,855.2 2043.8,850.8 2043.9,846.5 2043.5,842.9 2044.3,838.3 2044.3,834.4 2044.2,830.0 2043.8,826.5 2044.1,822.4 2043.8,818.1 2044.7,813.3 2044.0,809.5 2044.5,805.1 2044.7,801.1 2044.6,797.3 2044.5,801.2 2044.4,805.0 2045.2,809.3 2044.5,813.9 2044.5,817.9 2044.6,821.1 2045.4,825.9 2045.0,829.6 2044.7,833.8 2045.2,837.6 2045.3,842.3 2045.7,845.6 2045.7,849.9 2045.5,854.1 2045.6,857.7 2045.9,862.5 2045.3,866.7 2045.3,870.4 2045.7,874.4 2045.5,870.5 2045.8,865.9 2045.6,862.4 2045.9,858.4 2045.6,854.7 2045.9,850.5 2046.4,846.4 2046.2,842.6 2046.3,838.4 2046.0,834.2 2046.0,830.2 2046.1,826.0 2046.6,822.0 2046.1,817.4 2046.5,813.5 2046.4,810.0 2047.0,805.7 2046.7,801.8 2046.7,805.8 2046.6,809.2 2046.6,813.8 2046.6,816.8 2046.9,820.6 2047.2,825.1 2047.0,828.8 2047.2,833.0 2047.7,836.6 2047.8,840.4 2047.4,844.4 2047.5,848.4 2048.2,852.3 2048.6,855.8 2048.7,859.9 2048.2,864.1 2048.7,868.0 2048.8,872.5 2048.7,875.8 2048.5,879.7 2048.5,883.9 2048.7,888.3 2048.8,891.9 2049.2,895.7 2049.1,899.8 2049.6,903.7 2049.4,908.4 2049.7,911.8 2049.3,916.3 2049.2,920.2 2049.4,924.7 2049.8,928.2 2049.6,932.7 2049.6,936.6 2049.7,940.4 2049.8,944.4 2049.5,948.8 2049.3,952.8 2049.5,956.8 2049.4,960.9 2049.7,965.0 2049.1,969.4 2049.6,973.2 2049.7,969.4 2050.1,964.9 2049.7,961.3 2049.6,956.6 2050.0,952.5 2050.0,949.1 2050.4,944.2 2050.0,940.3 2050.9,936.3 2050.5,932.4 2050.7,928.3 2051.3,924.3 2050.9,920.0 2051.3,916.4 2051.3,911.6 2050.9,907.8 2051.6,903.8 2051.4,899.8 2051.5,895.8 2051.8,892.2 2051.5,888.2 2051.9,883.5 2051.8,880.2 2051.5,875.8 2051.4,872.3 2052.0,867.8 2052.1,863.8 2052.2,860.3 2052.5,856.1 2052.2,852.5 2052.2,848.1 2052.6,844.3 2052.3,840.4 2052.6,836.0 2053.0,832.6 2052.4,828.0 2052.4,824.3 2052.5,820.0 2053.0,815.4 2052.9,811.7 2053.3,807.2 2053.3,803.2 2054.0,798.9 2053.7,795.0 2053.6,791.2 2054.0,787.2 2054.7,782.9 2054.9,778.6 2055.4,775.4 2055.6,770.8 2055.3,767.4 2056.0,763.2 2056.3,766.7 2056.4,771.5 2055.9,775.2 2056.1,778.7 2056.6,782.9 2056.5,786.8 2056.7,790.2 2056.9,794.3 2056.6,798.4 2057.6,802.7 2057.3,806.3 2057.7,810.3 2057.4,814.4 2057.9,818.8 2058.1,822.3 2058.1,826.5 2057.9,830.8 2057.8,834.7 2058.4,838.6 2058.5,842.5 2058.8,846.5 2058.1,851.3 2058.5,854.6 2058.6,859.4 2058.7,863.1 2058.5,866.8 2058.9,871.4 2059.3,875.2 2059.4,879.0 2058.9,884.0 2059.0,887.5 2059.8,891.9 2059.6,896.1 2059.8,899.8 2059.5,903.9 2060.2,907.6 2060.0,912.2 2059.5,916.1 2059.5,920.4 2059.9,924.0 2059.9,928.8 2059.8,932.0 2060.5,936.1 2060.3,941.1 2059.8,944.9 2060.6,949.0 2060.0,952.5 2060.4,957.0 2060.3,961.4 2059.9,965.5 2059.8,968.9 2060.0,973.1 2060.1,977.5 2060.3,981.5 2060.6,985.8 2060.7,989.6 2060.5,993.6 2060.4,989.9 2060.3,985.7 2061.1,981.2 2061.3,977.2 2061.2,973.6 2060.6,969.2 2061.0,965.4 2061.1,961.1 2061.2,956.9 2061.3,952.5 2061.5,948.4 2061.5,944.6 2062.2,940.7 2061.9,936.2 2061.6,932.3 2062.5,928.7 2062.4,924.8 2062.6,920.2 2062.6,915.8 2062.3,911.8 2062.3,908.3 2062.2,904.0 2062.8,899.8 2062.5,895.4 2062.9,891.0 2062.8,887.2 2062.5,882.6 2062.5,878.5 2063.4,874.4 2062.7,871.0 2063.1,865.8 2063.3,862.6 2062.8,858.2 2062.9,853.9 2063.5,849.1 2063.7,844.9 2063.1,840.8 2063.7,836.8 2063.0,832.3 2063.3,828.5 2063.9,824.3 2063.7,820.1 2063.7,815.5 2063.5,812.1 2063.8,807.8 2063.5,803.1 2063.7,798.9 2063.9,795.0 2063.6,790.5 2063.5,787.1 2063.5,782.4 2063.6,778.6 2064.4,773.7 2063.5,769.7 2063.8,766.1 2064.2,761.7 2064.2,756.9 2064.4,752.9 2064.0,748.6 2063.6,744.6 2063.6,741.0 2063.8,736.7 2063.8,732.5 2064.1,727.9 2064.4,724.3 2064.0,719.6 2063.8,715.6 2064.0,711.3 2064.2,707.7 2064.3,703.3 2064.3,698.8 2063.7,695.0 2063.9,690.4 2064.1,686.4 2064.1,681.8 2063.9,678.2 2064.1,673.5 2063.9,669.3 2064.8,665.7 2064.8,661.3 2064.1,657.4 2063.8,652.7 2063.9,648.9 2064.7,644.7 2063.9,640.6 2064.4,636.1 2064.2,632.1 2064.1,628.1 2064.3,623.6 2064.4,619.8 2064.8,615.6 2064.8,611.3 2064.6,607.8 2064.5,603.3 2064.2,598.8 2064.2,594.7 2064.3,591.0 2064.3,587.1 2064.7,582.7 2064.6,578.3 2064.6,574.2 2064.8,570.4 2064.6,565.9 2064.8,561.8 2064.5,557.8 2065.0,553.8 2065.1,549.9 2064.9,545.1 2064.4,540.8 2064.9,537.4 2065.1,533.5 2065.1,528.9 2065.0,524.4 2065.0,521.0 2064.9,516.1 2064.8,512.1 2064.7,508.5 2064.7,503.9 2064.8,500.0 2064.3,495.4 2065.1,492.3 2064.4,487.7 2065.0,483.6 2064.6,479.6 2064.2,475.3 2064.8,471.3 2065.0,466.6 2064.8,462.6 2065.0,459.1 2064.5,454.3 2064.6,450.2 2064.5,446.7 2064.6,441.8 2065.2,438.4 2065.3,433.6 2064.8,430.2 2065.0,425.6 2064.9,421.7 2064.9,417.4 2065.5,413.3 2065.5,408.9 2065.3,404.7 2065.8,400.9 2065.7,396.5 2065.0,392.3 2065.8,388.7 2065.9,383.8 2066.1,380.0 2066.2,376.4 2065.4,371.9 2065.6,367.6 2066.0,363.3 2066.2,359.6 2065.7,355.4 2066.5,351.3 2066.1,347.1 2065.9,343.0 2066.4,338.9 2066.3,334.8 2066.4,331.8 2067.0,327.9 2067.2,323.5 2067.8,320.2 2067.9,316.7 2068.0,312.4 2068.3,309.1 2068.4,304.9 2068.8,301.0 2068.7,296.3 2069.1,292.8 2069.6,288.3 2069.7,283.8 2069.9,279.7 2070.6,275.5 2070.9,271.9 2070.7,267.4 2072.5,265.9 2073.4,265.9 2073.6,269.4 2073.9,273.4 2074.0,278.0 2074.0,281.2 2073.7,285.7 2073.7,289.4 2074.2,293.7 2074.5,297.0 2074.3,301.3 2074.0,305.9 2074.3,309.4 2073.9,313.8 2074.9,317.9 2074.4,322.4 2074.7,326.4 2074.3,330.6 2075.0,334.2 2074.4,338.9 2075.0,343.3 2075.1,347.5 2075.2,351.0 2075.0,354.9 2074.4,359.4 2074.7,363.8 2074.7,367.5 2074.5,372.1 2075.1,376.8 2075.4,380.3 2075.1,384.9 2075.0,388.8 2075.4,393.5 2075.6,397.2 2075.7,400.9 2075.6,405.3 2075.9,409.7 2075.7,413.3 2076.3,418.3 2076.3,422.0 2076.7,425.8 2077.0,430.2 2076.8,434.2 2077.4,438.0 2077.1,442.1 2077.3,446.1 2077.6,448.9 2077.6,453.3 2078.2,456.9 2077.9,460.7 2078.2,465.0 2078.1,469.7 2078.2,473.5 2078.5,477.7 2078.5,481.7 2079.2,485.5 2079.2,490.3 2079.3,494.3 2079.4,498.5 2079.1,502.3 2079.9,505.3 2080.5,509.8 2080.9,512.6 2081.0,516.6 2081.8,520.4 2083.1,523.2 2084.3,526.7 2084.8,529.5 2084.8,525.3 2085.9,521.6 2086.5,518.0 2086.6,513.6 2086.5,510.0 2086.8,505.8 2087.8,502.0 2087.6,498.8 2087.4,495.0 2088.2,490.9 2088.7,487.0 2088.9,483.2 2088.9,479.8 2089.4,475.9 2089.6,472.1 2089.5,468.3 2089.5,464.1 2089.5,460.5 2089.6,456.5 2090.4,453.0 2090.5,449.4 2090.7,445.6 2090.6,441.9 2090.7,438.2 2091.1,434.4 2091.3,430.8 2092.1,426.7 2091.9,423.1 2092.2,419.1 2092.8,415.3 2092.7,411.5 2093.6,408.3 2094.7,405.6 2095.0,402.5 2096.5,399.9 2097.3,399.0 2097.8,403.5 2097.6,406.7 2098.2,411.0 2098.5,414.3 2098.3,419.1 2098.8,422.5 2100.4,425.2 2102.2,429.3 2103.1,425.4 2103.8,420.5 2104.5,417.5 2105.2,413.2 2105.6,408.8 2106.6,405.4 2107.0,400.7 2107.4,397.3 2107.6,393.1 2108.2,389.8 2109.0,386.1 2109.6,381.9 2110.7,378.4 2110.6,373.7 2111.9,370.4 2112.4,365.7 2113.5,361.9 2113.4,358.7 2114.5,354.9 2115.6,351.6 2115.8,347.6 2116.8,344.0 2118.1,340.8 2119.9,339.6 2120.0,343.5 2119.9,347.8 2120.2,351.8 2119.9,355.6 2119.9,358.8 2119.9,362.8 2120.8,366.9 2120.8,370.5 2120.6,374.8 2120.6,378.4 2120.9,382.1 2120.3,385.7 2120.7,390.3 2120.8,393.9 2120.5,397.6 2120.5,401.4 2121.1,405.2 2121.0,408.8 2121.0,412.9 2121.1,416.9 2121.5,420.8 2121.1,425.5 2121.3,429.0 2121.0,433.2 2121.5,437.2 2121.7,434.1 2122.3,429.5 2123.3,426.1 2123.7,422.5 2124.0,418.6 2124.5,416.3 2125.1,411.9 2126.0,408.8 2126.2,411.9 2127.0,415.4 2127.1,419.4 2127.1,422.5 2127.1,426.4 2127.6,430.2 2128.3,433.8 2128.7,429.1 2128.6,425.8 2129.1,421.6 2128.9,417.6 2128.9,413.4 2129.4,408.8 2130.1,405.0 2129.5,400.9 2130.0,397.6 2130.2,393.8 2130.1,389.6 2130.6,386.1 2131.2,382.9 2132.1,380.5 2133.0,384.8 2133.0,387.8 2133.1,391.6 2134.0,395.2 2134.3,398.3 2135.1,402.4 2135.7,405.6 2135.8,408.8 2136.0,405.4 2137.5,401.0 2137.8,397.5 2138.4,395.2 2139.4,391.0 2139.6,388.4 2140.2,393.0 2139.9,396.0 2140.7,400.8 2140.3,404.2 2140.8,408.8 2141.5,412.5 2141.6,415.8 2142.1,419.0 2141.9,422.5 2143.0,424.3 2143.5,421.3 2143.9,418.8 2144.9,415.4 2145.7,418.8 2145.6,421.9 2146.5,424.5 2146.6,428.1 2147.2,425.1 2148.0,421.9 2148.5,419.0 2148.8,423.0 2149.5,426.3 2149.9,429.7 2149.8,433.1 2149.8,429.4 2150.9,426.5 2151.1,423.6 2151.6,426.4 2152.6,430.7 2152.9,427.4 2154.0,423.5 2154.1,419.5 2154.2,422.7 2154.9,426.4 2155.5,429.7 2156.0,432.9 2156.2,429.2 2157.2,425.8 2157.1,422.1 2158.0,418.9 2158.9,422.5 2158.8,425.6 2159.1,430.0 2159.9,433.4 2160.5,429.9 2160.4,427.1 2161.2,423.4 2161.6,426.8 2161.7,429.8 2162.3,433.1 2162.9,436.2 2163.1,432.8 2163.5,429.8 2164.1,426.6 2164.4,430.4 2165.6,433.8 2166.1,438.2 2167.4,434.6 2167.9,431.1 2168.2,434.1 2168.3,437.8 2168.9,440.2 2169.4,443.8 2170.1,441.1 2169.8,437.4 2170.7,433.8 2171.1,430.5 2171.0,434.4 2171.5,438.5 2172.4,441.5 2172.4,445.5 2173.2,442.6 2173.3,439.4 2174.3,436.5 2174.8,441.1 2175.6,444.1 2176.2,448.6 2177.1,444.6 2177.4,441.1 2178.1,444.4 2179.1,447.4 2179.5,450.2 2180.3,446.9 2180.8,443.8 2180.9,447.0 2182.1,450.6 2182.1,454.2 2182.6,457.1 2183.5,453.3 2183.6,449.3 2184.2,445.6 2184.4,449.6 2184.9,453.1 2186.0,456.6 2186.7,453.7 2186.8,451.6 2187.5,448.2 2187.5,450.8 2188.3,454.6 2188.6,458.1 2189.3,461.1 2190.5,457.3 2191.1,461.3 2191.4,465.1 2192.3,469.5 2192.8,465.8 2193.7,460.8 2194.4,457.1 2195.0,461.2 2195.1,463.9 2195.3,467.6 2195.7,471.1 2196.5,466.8 2197.5,463.8 2197.8,460.2 2198.0,463.6 2198.1,466.2 2198.9,469.4 2199.7,466.2 2199.7,463.7 2200.3,460.9 2200.6,464.6 2201.5,468.4 2202.6,466.3 2203.4,462.6 2203.8,465.4 2204.3,468.7 2205.1,471.9 2205.5,468.7 2205.5,466.1 2206.4,463.0 2207.2,466.5 2207.6,469.5 2207.0,472.5 2207.8,475.9 2208.9,471.7 2209.4,467.7 2210.2,471.5 2209.9,475.1 2210.4,477.9 2211.0,482.2 2211.9,478.4 2212.1,473.8 2212.5,470.1 2212.7,474.1 2213.6,478.2 2214.3,481.8 2214.8,479.0 2215.6,475.8 2216.1,472.4 2216.8,475.4 2216.9,478.8 2217.4,481.8 2217.8,479.5 2218.2,475.7 2219.3,473.3 2219.4,477.6 2220.4,481.0 2220.3,485.3 2221.3,489.3 2221.7,485.1 2223.0,482.1 2224.1,485.4 2224.1,489.2 2224.9,492.6 2226.0,489.7 2226.4,486.6 2227.2,489.7 2227.9,494.0 2228.9,490.1 2229.2,486.2 2229.4,482.3 2229.6,485.7 2230.7,488.3 2231.1,492.0 2232.0,489.2 2232.7,485.4 2233.0,482.3 2233.6,486.1 2234.4,489.4 2234.9,492.9 2235.2,490.1 2236.0,486.2 2236.6,483.5 2236.4,487.2 2237.4,490.4 2237.2,494.1 2237.9,497.2 2238.8,494.5 2239.8,492.1 2239.7,495.9 2240.6,499.4 2241.3,503.2 2241.4,506.6 2241.9,503.5 2242.3,500.3 2242.8,496.9 2243.1,499.7 2244.0,502.5 2244.2,505.2 2244.3,501.9 2245.7,499.5 2246.0,495.8 2246.9,499.3 2247.8,503.7 2248.1,501.2 2249.1,497.8 2249.2,495.0 2250.1,498.7 2249.7,503.1 2250.8,507.0 2251.1,503.9 2251.7,500.9 2252.8,498.1 2253.3,502.0 2254.1,506.2 2255.1,502.7 2255.7,500.0 2256.2,504.2 2257.2,508.2 2257.3,504.7 2258.3,501.3 2259.1,505.0 2259.4,508.2 2260.2,511.5 2260.4,508.8 2261.7,504.9 2262.2,502.4 2263.0,506.1 2262.8,509.6 2263.2,513.2 2263.7,516.0 2264.6,512.3 2264.7,508.4 2265.0,505.0 2265.0,508.1 2266.4,512.8 2266.3,515.3 2267.0,519.4 2267.7,516.6 2268.4,512.7 2269.4,515.9 2269.2,518.4 2270.1,521.3 2270.4,518.3 2270.9,515.1 2271.5,511.7 2272.1,515.3 2272.8,519.9 2273.6,523.0 2274.3,519.5 2274.1,516.0 2274.8,512.1 2275.2,509.1 2275.6,512.2 2276.0,515.2 2276.6,518.7 2276.6,522.1 2276.9,518.7 2277.6,516.3 2278.4,512.7 2279.0,516.5 2279.5,520.9 2279.7,524.2 2280.6,520.6 2281.6,516.9 2282.7,519.9 2282.6,523.1 2283.4,525.9 2284.9,522.6 2285.5,518.8 2285.6,522.2 2285.9,527.1 2286.7,530.5 2286.9,534.2 2287.3,530.7 2288.4,526.9 2288.8,524.2 2289.6,527.2 2289.7,530.7 2290.1,533.5 2291.1,529.8 2292.2,525.7 2292.6,528.8 2293.4,532.0 2293.4,534.6 2293.5,531.4 2294.5,528.9 2294.5,526.2 2295.2,530.2 2295.9,534.1 2296.2,537.6 2296.9,534.1 2297.4,530.4 2297.7,533.2 2298.5,535.7 2299.3,538.8 2299.8,535.3 2300.3,532.2 2300.9,529.0 2301.7,532.1 2301.6,535.8 2302.5,538.9 2302.7,542.5 2303.3,539.1 2303.3,535.3 2304.3,531.8 2304.6,528.4 2304.7,532.4 2306.0,534.9 2306.0,538.7 2306.3,535.5 2307.3,531.0 2307.2,527.7 2307.1,530.9 2307.6,534.5 2307.6,537.2 2308.4,540.9 2308.9,537.1 2310.1,534.9 2310.4,531.1 2310.7,534.4 2311.5,537.6 2311.9,540.9 2312.5,537.5 2313.1,533.9 2313.9,530.5 2314.1,534.6 2315.5,538.2 2315.9,542.2 2316.9,538.3 2317.7,536.2 2317.8,539.0 2318.4,540.4"/>
</g>
<line x1="1282.5" y1="474.7" x2="1282.5" y2="1729.8" stroke="#000" stroke-width="7" stroke-dasharray="31.5 25.8"/>
<g stroke-width="8.4" stroke-linecap="round"><line x1="776.6" y1="138.9" x2="932.8" y2="138.9" stroke="#0000ff"/><line x1="776.6" y1="233.3" x2="932.8" y2="233.3" stroke="#ff0000"/></g>
<text x="971.8" y="167.4" font-size="78.65">Multi-pump linkage liquid supply method</text>
<text x="971.8" y="261.1" font-size="78.7">PID rapid fluid supply method</text>
<g stroke="#000" fill="none">
<line x1="538.9" y1="1730.8" x2="538.9" y2="1701.0" stroke-width="9.6"/>
<line x1="836.2" y1="1730.8" x2="836.2" y2="1701.0" stroke-width="9.6"/>
<line x1="1133.4" y1="1730.8" x2="1133.4" y2="1701.0" stroke-width="9.6"/>
<line x1="1430.6" y1="1730.8" x2="1430.6" y2="1701.0" stroke-width="9.6"/>
<line x1="1727.8" y1="1730.8" x2="1727.8" y2="1701.0" stroke-width="9.6"/>
<line x1="2025.1" y1="1730.8" x2="2025.1" y2="1701.0" stroke-width="9.6"/>
<line x1="390.3" y1="1730.8" x2="390.3" y2="1717.8" stroke-width="9.5"/>
<line x1="687.5" y1="1730.8" x2="687.5" y2="1717.8" stroke-width="9.5"/>
<line x1="984.8" y1="1730.8" x2="984.8" y2="1717.8" stroke-width="9.5"/>
<line x1="1282.0" y1="1730.8" x2="1282.0" y2="1717.8" stroke-width="9.5"/>
<line x1="1579.2" y1="1730.8" x2="1579.2" y2="1717.8" stroke-width="9.5"/>
<line x1="1876.5" y1="1730.8" x2="1876.5" y2="1717.8" stroke-width="9.5"/>
<line x1="2173.7" y1="1730.8" x2="2173.7" y2="1717.8" stroke-width="9.5"/>
<line x1="245.2" y1="476.6" x2="275.0" y2="476.6" stroke-width="9"/>
<line x1="245.2" y1="895.8" x2="275.0" y2="895.8" stroke-width="9"/>
<line x1="245.2" y1="1315.1" x2="275.0" y2="1315.1" stroke-width="9"/>
<line x1="245.2" y1="267.0" x2="259.2" y2="267.0" stroke-width="9"/>
<line x1="245.2" y1="686.2" x2="259.2" y2="686.2" stroke-width="9"/>
<line x1="245.2" y1="1105.5" x2="259.2" y2="1105.5" stroke-width="9"/>
<line x1="245.2" y1="1524.7" x2="259.2" y2="1524.7" stroke-width="9"/>
</g>
<g stroke="#000" stroke-width="5.2" fill="#000">
<line x1="266.2" y1="1655.7" x2="2297.8" y2="1655.7"/>
</g><g fill="#000">
<polygon points="245.7,1655.7 285.7,1643.5 285.7,1667.9"/>
<polygon points="1286.5,1655.7 1243.2,1643.5 1243.2,1667.9"/>
<polygon points="1279.5,1655.7 1329.0,1643.5 1329.0,1667.9"/>
<polygon points="2331.6,1655.7 2287.0,1643.5 2287.0,1667.9"/>
</g>
<rect x="241.7" y="57.4" width="2080.6" height="1676.9" fill="none" stroke="#000" stroke-width="9.0"/>
<g font-size="73">
<text x="242.5" y="1824.5" text-anchor="middle">0</text>
<text x="539.7" y="1824.5" text-anchor="middle">5</text>
<text x="837.0" y="1824.5" text-anchor="middle">10</text>
<text x="1134.2" y="1824.5" text-anchor="middle">15</text>
<text x="1431.4" y="1824.5" text-anchor="middle">20</text>
<text x="1728.6" y="1824.5" text-anchor="middle">25</text>
<text x="2025.9" y="1824.5" text-anchor="middle">30</text>
<text x="2323.1" y="1824.5" text-anchor="middle">35</text>
<text x="206" y="78.1" text-anchor="end">20</text>
<text x="206" y="497.3" text-anchor="end">16</text>
<text x="206" y="916.5" text-anchor="end">12</text>
<text x="206" y="1335.8" text-anchor="end">8</text>
<text x="206" y="1755.0" text-anchor="end">4</text>
</g>
<text x="771.5" y="1633.3" font-size="88.5" text-anchor="middle">S1</text>
<text x="1817" y="1633.3" font-size="88.5" text-anchor="middle">S2</text>
<text x="1282.5" y="1957.7" font-size="79.5" text-anchor="middle">Time(s)</text>
<text transform="translate(82,895.5) rotate(-90)" font-size="78.9" text-anchor="middle">System pressure(MPa)</text>
</svg></body></html>
